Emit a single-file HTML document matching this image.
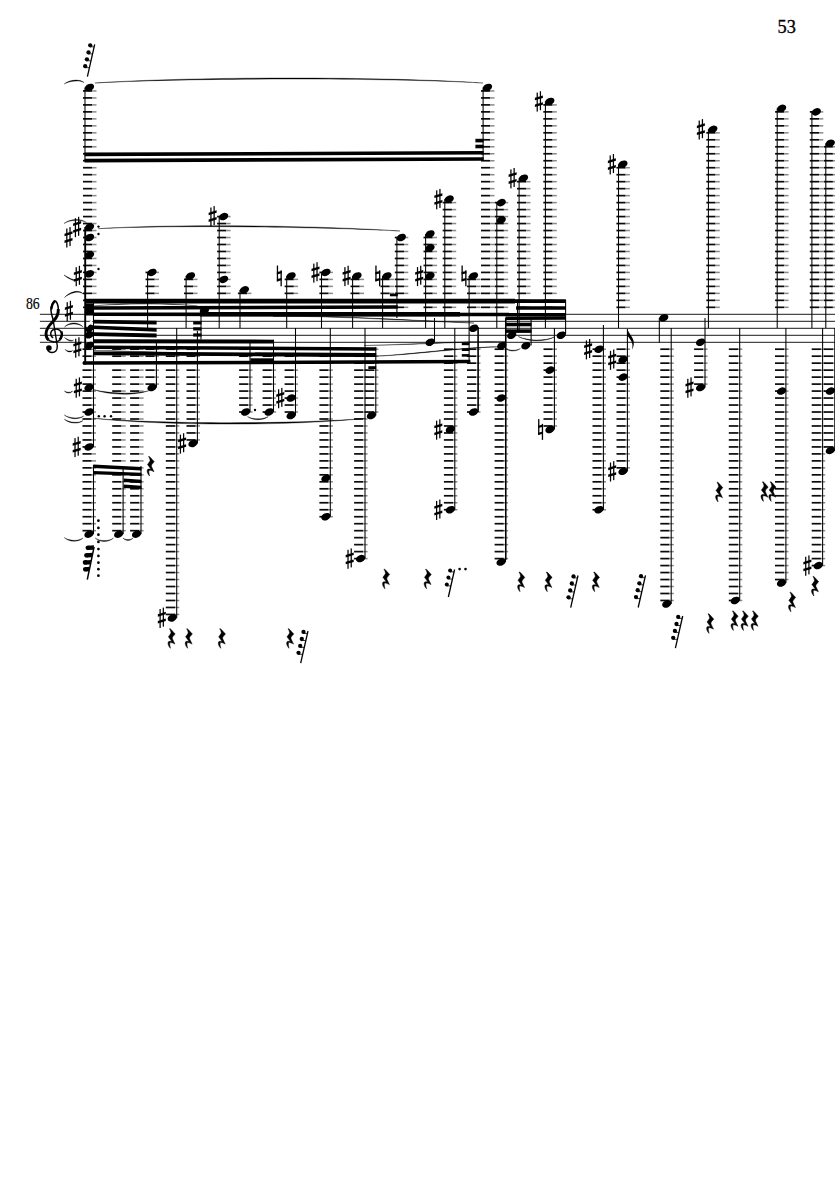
<!DOCTYPE html>
<html><head><meta charset="utf-8"><style>
html,body{margin:0;padding:0;background:#fff;}
svg{display:block;}
</style></head><body>
<svg width="835" height="1181" viewBox="0 0 835 1181">
<rect width="835" height="1181" fill="#fff"/>
<line x1="39.9" y1="314.30" x2="835" y2="314.30" stroke="#000" stroke-width="0.9"/>
<line x1="39.9" y1="321.30" x2="835" y2="321.30" stroke="#000" stroke-width="0.9"/>
<line x1="39.9" y1="328.30" x2="835" y2="328.30" stroke="#000" stroke-width="0.9"/>
<line x1="39.9" y1="335.30" x2="835" y2="335.30" stroke="#000" stroke-width="0.9"/>
<line x1="39.9" y1="342.30" x2="835" y2="342.30" stroke="#000" stroke-width="0.9"/>
<text x="0" y="0" transform="translate(777.5,32.6) scale(1.05,1.12)" style="font-family:&quot;Liberation Serif&quot;,serif;font-size:17.5px;stroke:#000;stroke-width:0.3">53</text>
<text x="0" y="0" transform="translate(25.9,308.8) scale(1.04,1.2)" style="font-family:&quot;Liberation Serif&quot;,serif;font-size:13.2px;stroke:#000;stroke-width:0.15">86</text>
<rect x="83.00" y="306.47" width="9.2" height="1.7" fill="#0a0a0a"/>
<rect x="92.20" y="306.57" width="4.3" height="1.5" fill="#8a8a8a"/>
<rect x="83.00" y="299.49" width="9.2" height="1.7" fill="#0a0a0a"/>
<rect x="92.20" y="299.59" width="4.3" height="1.5" fill="#8a8a8a"/>
<rect x="83.00" y="292.51" width="9.2" height="1.7" fill="#0a0a0a"/>
<rect x="92.20" y="292.61" width="4.3" height="1.5" fill="#8a8a8a"/>
<rect x="83.00" y="285.53" width="9.2" height="1.7" fill="#0a0a0a"/>
<rect x="92.20" y="285.63" width="4.3" height="1.5" fill="#8a8a8a"/>
<rect x="83.00" y="278.55" width="9.2" height="1.7" fill="#0a0a0a"/>
<rect x="92.20" y="278.65" width="4.3" height="1.5" fill="#8a8a8a"/>
<rect x="83.00" y="271.57" width="9.2" height="1.7" fill="#0a0a0a"/>
<rect x="92.20" y="271.67" width="4.3" height="1.5" fill="#8a8a8a"/>
<rect x="83.00" y="264.59" width="9.2" height="1.7" fill="#0a0a0a"/>
<rect x="92.20" y="264.69" width="4.3" height="1.5" fill="#8a8a8a"/>
<rect x="83.00" y="257.61" width="9.2" height="1.7" fill="#0a0a0a"/>
<rect x="92.20" y="257.71" width="4.3" height="1.5" fill="#8a8a8a"/>
<rect x="83.00" y="250.63" width="9.2" height="1.7" fill="#0a0a0a"/>
<rect x="92.20" y="250.73" width="4.3" height="1.5" fill="#8a8a8a"/>
<rect x="83.00" y="243.65" width="9.2" height="1.7" fill="#0a0a0a"/>
<rect x="92.20" y="243.75" width="4.3" height="1.5" fill="#8a8a8a"/>
<rect x="83.00" y="236.67" width="9.2" height="1.7" fill="#0a0a0a"/>
<rect x="92.20" y="236.77" width="4.3" height="1.5" fill="#8a8a8a"/>
<rect x="83.00" y="229.69" width="9.2" height="1.7" fill="#0a0a0a"/>
<rect x="92.20" y="229.79" width="4.3" height="1.5" fill="#8a8a8a"/>
<rect x="83.00" y="222.71" width="9.2" height="1.7" fill="#0a0a0a"/>
<rect x="92.20" y="222.81" width="4.3" height="1.5" fill="#8a8a8a"/>
<rect x="83.00" y="215.73" width="9.2" height="1.7" fill="#0a0a0a"/>
<rect x="92.20" y="215.83" width="4.3" height="1.5" fill="#8a8a8a"/>
<rect x="83.00" y="208.75" width="9.2" height="1.7" fill="#0a0a0a"/>
<rect x="92.20" y="208.85" width="4.3" height="1.5" fill="#8a8a8a"/>
<rect x="83.00" y="201.77" width="9.2" height="1.7" fill="#0a0a0a"/>
<rect x="92.20" y="201.87" width="4.3" height="1.5" fill="#8a8a8a"/>
<rect x="83.00" y="194.79" width="9.2" height="1.7" fill="#0a0a0a"/>
<rect x="92.20" y="194.89" width="4.3" height="1.5" fill="#8a8a8a"/>
<rect x="83.00" y="187.81" width="9.2" height="1.7" fill="#0a0a0a"/>
<rect x="92.20" y="187.91" width="4.3" height="1.5" fill="#8a8a8a"/>
<rect x="83.00" y="180.83" width="9.2" height="1.7" fill="#0a0a0a"/>
<rect x="92.20" y="180.93" width="4.3" height="1.5" fill="#8a8a8a"/>
<rect x="83.00" y="173.85" width="9.2" height="1.7" fill="#0a0a0a"/>
<rect x="92.20" y="173.95" width="4.3" height="1.5" fill="#8a8a8a"/>
<rect x="83.00" y="166.87" width="9.2" height="1.7" fill="#0a0a0a"/>
<rect x="92.20" y="166.97" width="4.3" height="1.5" fill="#8a8a8a"/>
<rect x="83.00" y="159.89" width="9.2" height="1.7" fill="#0a0a0a"/>
<rect x="92.20" y="159.99" width="4.3" height="1.5" fill="#8a8a8a"/>
<rect x="83.00" y="152.91" width="9.2" height="1.7" fill="#0a0a0a"/>
<rect x="92.20" y="153.01" width="4.3" height="1.5" fill="#8a8a8a"/>
<rect x="83.00" y="145.93" width="9.2" height="1.7" fill="#0a0a0a"/>
<rect x="92.20" y="146.03" width="4.3" height="1.5" fill="#8a8a8a"/>
<rect x="83.00" y="138.95" width="9.2" height="1.7" fill="#0a0a0a"/>
<rect x="92.20" y="139.05" width="4.3" height="1.5" fill="#8a8a8a"/>
<rect x="83.00" y="131.97" width="9.2" height="1.7" fill="#0a0a0a"/>
<rect x="92.20" y="132.07" width="4.3" height="1.5" fill="#8a8a8a"/>
<rect x="83.00" y="124.99" width="9.2" height="1.7" fill="#0a0a0a"/>
<rect x="92.20" y="125.09" width="4.3" height="1.5" fill="#8a8a8a"/>
<rect x="83.00" y="118.01" width="9.2" height="1.7" fill="#0a0a0a"/>
<rect x="92.20" y="118.11" width="4.3" height="1.5" fill="#8a8a8a"/>
<rect x="83.00" y="111.03" width="9.2" height="1.7" fill="#0a0a0a"/>
<rect x="92.20" y="111.13" width="4.3" height="1.5" fill="#8a8a8a"/>
<rect x="83.00" y="104.05" width="9.2" height="1.7" fill="#0a0a0a"/>
<rect x="92.20" y="104.15" width="4.3" height="1.5" fill="#8a8a8a"/>
<rect x="83.00" y="97.07" width="9.2" height="1.7" fill="#0a0a0a"/>
<rect x="92.20" y="97.17" width="4.3" height="1.5" fill="#8a8a8a"/>
<rect x="83.00" y="90.09" width="9.2" height="1.7" fill="#0a0a0a"/>
<rect x="92.20" y="90.19" width="4.3" height="1.5" fill="#8a8a8a"/>
<ellipse cx="89.50" cy="87.45" rx="4.85" ry="3.5" transform="rotate(-24 89.50 87.45)" fill="#000"/>
<ellipse cx="89.50" cy="227.05" rx="4.85" ry="3.5" transform="rotate(-24 89.50 227.05)" fill="#000"/>
<ellipse cx="89.50" cy="237.52" rx="4.85" ry="3.5" transform="rotate(-24 89.50 237.52)" fill="#000"/>
<ellipse cx="89.50" cy="254.97" rx="4.85" ry="3.5" transform="rotate(-24 89.50 254.97)" fill="#000"/>
<ellipse cx="89.50" cy="273.80" rx="4.85" ry="3.5" transform="rotate(-24 89.50 273.80)" fill="#000"/>
<rect x="84.47" y="87.45" width="1.05" height="73.05" fill="#000"/>
<rect x="84.25" y="227.05" width="1.9" height="137.45" fill="#000"/>
<ellipse cx="89.30" cy="311.00" rx="4.85" ry="3.5" transform="rotate(-24 89.30 311.00)" fill="#000"/>
<ellipse cx="89.30" cy="328.30" rx="4.85" ry="3.5" transform="rotate(-24 89.30 328.30)" fill="#000"/>
<ellipse cx="89.30" cy="334.80" rx="4.85" ry="3.5" transform="rotate(-24 89.30 334.80)" fill="#000"/>
<ellipse cx="89.30" cy="345.50" rx="4.85" ry="3.5" transform="rotate(-24 89.30 345.50)" fill="#000"/>
<rect x="85" y="303.5" width="8.6" height="12" fill="#000"/>
<polygon points="86,326 92.5,318.5 93.5,320 87,327.5" fill="#fff"/>
<rect x="74.80" y="218.20" width="1.25" height="19" fill="#000"/>
<rect x="78.00" y="216.80" width="1.25" height="19" fill="#000"/>
<polygon points="73.10,223.40 81.10,221.00 81.10,223.50 73.10,225.90" fill="#000"/>
<polygon points="73.10,230.20 81.10,227.80 81.10,230.30 73.10,232.70" fill="#000"/>
<rect x="66.20" y="228.50" width="1.25" height="19" fill="#000"/>
<rect x="69.40" y="227.10" width="1.25" height="19" fill="#000"/>
<polygon points="64.50,233.70 72.50,231.30 72.50,233.80 64.50,236.20" fill="#000"/>
<polygon points="64.50,240.50 72.50,238.10 72.50,240.60 64.50,243.00" fill="#000"/>
<rect x="75.60" y="267.20" width="1.25" height="19" fill="#000"/>
<rect x="78.80" y="265.80" width="1.25" height="19" fill="#000"/>
<polygon points="73.90,272.40 81.90,270.00 81.90,272.50 73.90,274.90" fill="#000"/>
<polygon points="73.90,279.20 81.90,276.80 81.90,279.30 73.90,281.70" fill="#000"/>
<circle cx="98.50" cy="226.60" r="1.2" fill="#000"/>
<circle cx="98.50" cy="234.00" r="1.2" fill="#000"/>
<circle cx="98.50" cy="269.00" r="1.2" fill="#000"/>
<rect x="145.50" y="306.47" width="9.2" height="1.7" fill="#0a0a0a"/>
<rect x="154.70" y="306.57" width="4.3" height="1.5" fill="#8a8a8a"/>
<rect x="145.50" y="299.49" width="9.2" height="1.7" fill="#0a0a0a"/>
<rect x="154.70" y="299.59" width="4.3" height="1.5" fill="#8a8a8a"/>
<rect x="145.50" y="292.51" width="9.2" height="1.7" fill="#0a0a0a"/>
<rect x="154.70" y="292.61" width="4.3" height="1.5" fill="#8a8a8a"/>
<rect x="145.50" y="285.53" width="9.2" height="1.7" fill="#0a0a0a"/>
<rect x="154.70" y="285.63" width="4.3" height="1.5" fill="#8a8a8a"/>
<rect x="145.50" y="278.55" width="9.2" height="1.7" fill="#0a0a0a"/>
<rect x="154.70" y="278.65" width="4.3" height="1.5" fill="#8a8a8a"/>
<rect x="145.50" y="271.57" width="9.2" height="1.7" fill="#0a0a0a"/>
<rect x="154.70" y="271.67" width="4.3" height="1.5" fill="#8a8a8a"/>
<ellipse cx="152.00" cy="272.42" rx="4.85" ry="3.5" transform="rotate(-24 152.00 272.42)" fill="#000"/>
<rect x="147.07" y="272.42" width="1.05" height="55.58" fill="#000"/>
<rect x="184.00" y="306.47" width="9.2" height="1.7" fill="#0a0a0a"/>
<rect x="193.20" y="306.57" width="4.3" height="1.5" fill="#8a8a8a"/>
<rect x="184.00" y="299.49" width="9.2" height="1.7" fill="#0a0a0a"/>
<rect x="193.20" y="299.59" width="4.3" height="1.5" fill="#8a8a8a"/>
<rect x="184.00" y="292.51" width="9.2" height="1.7" fill="#0a0a0a"/>
<rect x="193.20" y="292.61" width="4.3" height="1.5" fill="#8a8a8a"/>
<rect x="184.00" y="285.53" width="9.2" height="1.7" fill="#0a0a0a"/>
<rect x="193.20" y="285.63" width="4.3" height="1.5" fill="#8a8a8a"/>
<rect x="184.00" y="278.55" width="9.2" height="1.7" fill="#0a0a0a"/>
<rect x="193.20" y="278.65" width="4.3" height="1.5" fill="#8a8a8a"/>
<ellipse cx="190.50" cy="275.91" rx="4.85" ry="3.5" transform="rotate(-24 190.50 275.91)" fill="#000"/>
<rect x="185.57" y="275.91" width="1.05" height="52.09" fill="#000"/>
<rect x="217.10" y="306.47" width="9.2" height="1.7" fill="#0a0a0a"/>
<rect x="226.30" y="306.57" width="4.3" height="1.5" fill="#8a8a8a"/>
<rect x="217.10" y="299.49" width="9.2" height="1.7" fill="#0a0a0a"/>
<rect x="226.30" y="299.59" width="4.3" height="1.5" fill="#8a8a8a"/>
<rect x="217.10" y="292.51" width="9.2" height="1.7" fill="#0a0a0a"/>
<rect x="226.30" y="292.61" width="4.3" height="1.5" fill="#8a8a8a"/>
<rect x="217.10" y="285.53" width="9.2" height="1.7" fill="#0a0a0a"/>
<rect x="226.30" y="285.63" width="4.3" height="1.5" fill="#8a8a8a"/>
<rect x="217.10" y="278.55" width="9.2" height="1.7" fill="#0a0a0a"/>
<rect x="226.30" y="278.65" width="4.3" height="1.5" fill="#8a8a8a"/>
<rect x="217.10" y="271.57" width="9.2" height="1.7" fill="#0a0a0a"/>
<rect x="226.30" y="271.67" width="4.3" height="1.5" fill="#8a8a8a"/>
<rect x="217.10" y="264.59" width="9.2" height="1.7" fill="#0a0a0a"/>
<rect x="226.30" y="264.69" width="4.3" height="1.5" fill="#8a8a8a"/>
<rect x="217.10" y="257.61" width="9.2" height="1.7" fill="#0a0a0a"/>
<rect x="226.30" y="257.71" width="4.3" height="1.5" fill="#8a8a8a"/>
<rect x="217.10" y="250.63" width="9.2" height="1.7" fill="#0a0a0a"/>
<rect x="226.30" y="250.73" width="4.3" height="1.5" fill="#8a8a8a"/>
<rect x="217.10" y="243.65" width="9.2" height="1.7" fill="#0a0a0a"/>
<rect x="226.30" y="243.75" width="4.3" height="1.5" fill="#8a8a8a"/>
<rect x="217.10" y="236.67" width="9.2" height="1.7" fill="#0a0a0a"/>
<rect x="226.30" y="236.77" width="4.3" height="1.5" fill="#8a8a8a"/>
<rect x="217.10" y="229.69" width="9.2" height="1.7" fill="#0a0a0a"/>
<rect x="226.30" y="229.79" width="4.3" height="1.5" fill="#8a8a8a"/>
<rect x="217.10" y="222.71" width="9.2" height="1.7" fill="#0a0a0a"/>
<rect x="226.30" y="222.81" width="4.3" height="1.5" fill="#8a8a8a"/>
<rect x="217.10" y="215.73" width="9.2" height="1.7" fill="#0a0a0a"/>
<rect x="226.30" y="215.83" width="4.3" height="1.5" fill="#8a8a8a"/>
<ellipse cx="223.60" cy="216.58" rx="4.85" ry="3.5" transform="rotate(-24 223.60 216.58)" fill="#000"/>
<ellipse cx="223.60" cy="279.40" rx="4.85" ry="3.5" transform="rotate(-24 223.60 279.40)" fill="#000"/>
<rect x="218.67" y="216.58" width="1.05" height="111.42" fill="#000"/>
<rect x="210.30" y="207.50" width="1.25" height="19" fill="#000"/>
<rect x="213.50" y="206.10" width="1.25" height="19" fill="#000"/>
<polygon points="208.60,212.70 216.60,210.30 216.60,212.80 208.60,215.20" fill="#000"/>
<polygon points="208.60,219.50 216.60,217.10 216.60,219.60 208.60,222.00" fill="#000"/>
<rect x="237.90" y="306.47" width="9.2" height="1.7" fill="#0a0a0a"/>
<rect x="247.10" y="306.57" width="4.3" height="1.5" fill="#8a8a8a"/>
<rect x="237.90" y="299.49" width="9.2" height="1.7" fill="#0a0a0a"/>
<rect x="247.10" y="299.59" width="4.3" height="1.5" fill="#8a8a8a"/>
<rect x="237.90" y="292.51" width="9.2" height="1.7" fill="#0a0a0a"/>
<rect x="247.10" y="292.61" width="4.3" height="1.5" fill="#8a8a8a"/>
<ellipse cx="244.40" cy="289.87" rx="4.85" ry="3.5" transform="rotate(-24 244.40 289.87)" fill="#000"/>
<rect x="239.47" y="289.87" width="1.05" height="38.13" fill="#000"/>
<rect x="284.60" y="306.47" width="9.2" height="1.7" fill="#0a0a0a"/>
<rect x="293.80" y="306.57" width="4.3" height="1.5" fill="#8a8a8a"/>
<rect x="284.60" y="299.49" width="9.2" height="1.7" fill="#0a0a0a"/>
<rect x="293.80" y="299.59" width="4.3" height="1.5" fill="#8a8a8a"/>
<rect x="284.60" y="292.51" width="9.2" height="1.7" fill="#0a0a0a"/>
<rect x="293.80" y="292.61" width="4.3" height="1.5" fill="#8a8a8a"/>
<rect x="284.60" y="285.53" width="9.2" height="1.7" fill="#0a0a0a"/>
<rect x="293.80" y="285.63" width="4.3" height="1.5" fill="#8a8a8a"/>
<rect x="284.60" y="278.55" width="9.2" height="1.7" fill="#0a0a0a"/>
<rect x="293.80" y="278.65" width="4.3" height="1.5" fill="#8a8a8a"/>
<ellipse cx="291.10" cy="275.91" rx="4.85" ry="3.5" transform="rotate(-24 291.10 275.91)" fill="#000"/>
<rect x="286.18" y="275.91" width="1.05" height="52.09" fill="#000"/>
<rect x="276.80" y="265.51" width="1.3" height="15.8" fill="#000"/>
<rect x="280.50" y="270.31" width="1.3" height="16" fill="#000"/>
<polygon points="276.90,272.11 281.70,270.91 281.70,273.31 276.90,274.51" fill="#000"/>
<polygon points="276.90,279.11 281.70,277.91 281.70,280.31 276.90,281.51" fill="#000"/>
<rect x="319.40" y="306.47" width="9.2" height="1.7" fill="#0a0a0a"/>
<rect x="328.60" y="306.57" width="4.3" height="1.5" fill="#8a8a8a"/>
<rect x="319.40" y="299.49" width="9.2" height="1.7" fill="#0a0a0a"/>
<rect x="328.60" y="299.59" width="4.3" height="1.5" fill="#8a8a8a"/>
<rect x="319.40" y="292.51" width="9.2" height="1.7" fill="#0a0a0a"/>
<rect x="328.60" y="292.61" width="4.3" height="1.5" fill="#8a8a8a"/>
<rect x="319.40" y="285.53" width="9.2" height="1.7" fill="#0a0a0a"/>
<rect x="328.60" y="285.63" width="4.3" height="1.5" fill="#8a8a8a"/>
<rect x="319.40" y="278.55" width="9.2" height="1.7" fill="#0a0a0a"/>
<rect x="328.60" y="278.65" width="4.3" height="1.5" fill="#8a8a8a"/>
<rect x="319.40" y="271.57" width="9.2" height="1.7" fill="#0a0a0a"/>
<rect x="328.60" y="271.67" width="4.3" height="1.5" fill="#8a8a8a"/>
<ellipse cx="325.90" cy="272.42" rx="4.85" ry="3.5" transform="rotate(-24 325.90 272.42)" fill="#000"/>
<rect x="320.98" y="272.42" width="1.05" height="55.58" fill="#000"/>
<rect x="313.20" y="263.62" width="1.25" height="19" fill="#000"/>
<rect x="316.40" y="262.22" width="1.25" height="19" fill="#000"/>
<polygon points="311.50,268.82 319.50,266.42 319.50,268.92 311.50,271.32" fill="#000"/>
<polygon points="311.50,275.62 319.50,273.22 319.50,275.72 311.50,278.12" fill="#000"/>
<rect x="350.50" y="306.47" width="9.2" height="1.7" fill="#0a0a0a"/>
<rect x="359.70" y="306.57" width="4.3" height="1.5" fill="#8a8a8a"/>
<rect x="350.50" y="299.49" width="9.2" height="1.7" fill="#0a0a0a"/>
<rect x="359.70" y="299.59" width="4.3" height="1.5" fill="#8a8a8a"/>
<rect x="350.50" y="292.51" width="9.2" height="1.7" fill="#0a0a0a"/>
<rect x="359.70" y="292.61" width="4.3" height="1.5" fill="#8a8a8a"/>
<rect x="350.50" y="285.53" width="9.2" height="1.7" fill="#0a0a0a"/>
<rect x="359.70" y="285.63" width="4.3" height="1.5" fill="#8a8a8a"/>
<rect x="350.50" y="278.55" width="9.2" height="1.7" fill="#0a0a0a"/>
<rect x="359.70" y="278.65" width="4.3" height="1.5" fill="#8a8a8a"/>
<ellipse cx="357.00" cy="275.91" rx="4.85" ry="3.5" transform="rotate(-24 357.00 275.91)" fill="#000"/>
<rect x="352.08" y="275.91" width="1.05" height="52.09" fill="#000"/>
<rect x="344.30" y="267.11" width="1.25" height="19" fill="#000"/>
<rect x="347.50" y="265.71" width="1.25" height="19" fill="#000"/>
<polygon points="342.60,272.31 350.60,269.91 350.60,272.41 342.60,274.81" fill="#000"/>
<polygon points="342.60,279.11 350.60,276.71 350.60,279.21 342.60,281.61" fill="#000"/>
<rect x="380.50" y="306.47" width="9.2" height="1.7" fill="#0a0a0a"/>
<rect x="389.70" y="306.57" width="4.3" height="1.5" fill="#8a8a8a"/>
<rect x="380.50" y="299.49" width="9.2" height="1.7" fill="#0a0a0a"/>
<rect x="389.70" y="299.59" width="4.3" height="1.5" fill="#8a8a8a"/>
<rect x="380.50" y="292.51" width="9.2" height="1.7" fill="#0a0a0a"/>
<rect x="389.70" y="292.61" width="4.3" height="1.5" fill="#8a8a8a"/>
<rect x="380.50" y="285.53" width="9.2" height="1.7" fill="#0a0a0a"/>
<rect x="389.70" y="285.63" width="4.3" height="1.5" fill="#8a8a8a"/>
<rect x="380.50" y="278.55" width="9.2" height="1.7" fill="#0a0a0a"/>
<rect x="389.70" y="278.65" width="4.3" height="1.5" fill="#8a8a8a"/>
<ellipse cx="387.00" cy="275.91" rx="4.85" ry="3.5" transform="rotate(-24 387.00 275.91)" fill="#000"/>
<rect x="382.08" y="275.91" width="1.05" height="52.09" fill="#000"/>
<rect x="375.30" y="265.51" width="1.3" height="15.8" fill="#000"/>
<rect x="379.00" y="270.31" width="1.3" height="16" fill="#000"/>
<polygon points="375.40,272.11 380.20,270.91 380.20,273.31 375.40,274.51" fill="#000"/>
<polygon points="375.40,279.11 380.20,277.91 380.20,280.31 375.40,281.51" fill="#000"/>
<rect x="394.80" y="306.47" width="9.2" height="1.7" fill="#0a0a0a"/>
<rect x="404.00" y="306.57" width="4.3" height="1.5" fill="#8a8a8a"/>
<rect x="394.80" y="299.49" width="9.2" height="1.7" fill="#0a0a0a"/>
<rect x="404.00" y="299.59" width="4.3" height="1.5" fill="#8a8a8a"/>
<rect x="394.80" y="292.51" width="9.2" height="1.7" fill="#0a0a0a"/>
<rect x="404.00" y="292.61" width="4.3" height="1.5" fill="#8a8a8a"/>
<rect x="394.80" y="285.53" width="9.2" height="1.7" fill="#0a0a0a"/>
<rect x="404.00" y="285.63" width="4.3" height="1.5" fill="#8a8a8a"/>
<rect x="394.80" y="278.55" width="9.2" height="1.7" fill="#0a0a0a"/>
<rect x="404.00" y="278.65" width="4.3" height="1.5" fill="#8a8a8a"/>
<rect x="394.80" y="271.57" width="9.2" height="1.7" fill="#0a0a0a"/>
<rect x="404.00" y="271.67" width="4.3" height="1.5" fill="#8a8a8a"/>
<rect x="394.80" y="264.59" width="9.2" height="1.7" fill="#0a0a0a"/>
<rect x="404.00" y="264.69" width="4.3" height="1.5" fill="#8a8a8a"/>
<rect x="394.80" y="257.61" width="9.2" height="1.7" fill="#0a0a0a"/>
<rect x="404.00" y="257.71" width="4.3" height="1.5" fill="#8a8a8a"/>
<rect x="394.80" y="250.63" width="9.2" height="1.7" fill="#0a0a0a"/>
<rect x="404.00" y="250.73" width="4.3" height="1.5" fill="#8a8a8a"/>
<rect x="394.80" y="243.65" width="9.2" height="1.7" fill="#0a0a0a"/>
<rect x="404.00" y="243.75" width="4.3" height="1.5" fill="#8a8a8a"/>
<rect x="394.80" y="236.67" width="9.2" height="1.7" fill="#0a0a0a"/>
<rect x="404.00" y="236.77" width="4.3" height="1.5" fill="#8a8a8a"/>
<ellipse cx="401.30" cy="237.52" rx="4.85" ry="3.5" transform="rotate(-24 401.30 237.52)" fill="#000"/>
<rect x="396.38" y="237.52" width="1.05" height="80.48" fill="#000"/>
<rect x="423.50" y="306.47" width="9.2" height="1.7" fill="#0a0a0a"/>
<rect x="432.70" y="306.57" width="4.3" height="1.5" fill="#8a8a8a"/>
<rect x="423.50" y="299.49" width="9.2" height="1.7" fill="#0a0a0a"/>
<rect x="432.70" y="299.59" width="4.3" height="1.5" fill="#8a8a8a"/>
<rect x="423.50" y="292.51" width="9.2" height="1.7" fill="#0a0a0a"/>
<rect x="432.70" y="292.61" width="4.3" height="1.5" fill="#8a8a8a"/>
<rect x="423.50" y="285.53" width="9.2" height="1.7" fill="#0a0a0a"/>
<rect x="432.70" y="285.63" width="4.3" height="1.5" fill="#8a8a8a"/>
<rect x="423.50" y="278.55" width="9.2" height="1.7" fill="#0a0a0a"/>
<rect x="432.70" y="278.65" width="4.3" height="1.5" fill="#8a8a8a"/>
<rect x="423.50" y="271.57" width="9.2" height="1.7" fill="#0a0a0a"/>
<rect x="432.70" y="271.67" width="4.3" height="1.5" fill="#8a8a8a"/>
<rect x="423.50" y="264.59" width="9.2" height="1.7" fill="#0a0a0a"/>
<rect x="432.70" y="264.69" width="4.3" height="1.5" fill="#8a8a8a"/>
<rect x="423.50" y="257.61" width="9.2" height="1.7" fill="#0a0a0a"/>
<rect x="432.70" y="257.71" width="4.3" height="1.5" fill="#8a8a8a"/>
<rect x="423.50" y="250.63" width="9.2" height="1.7" fill="#0a0a0a"/>
<rect x="432.70" y="250.73" width="4.3" height="1.5" fill="#8a8a8a"/>
<rect x="423.50" y="243.65" width="9.2" height="1.7" fill="#0a0a0a"/>
<rect x="432.70" y="243.75" width="4.3" height="1.5" fill="#8a8a8a"/>
<rect x="423.50" y="236.67" width="9.2" height="1.7" fill="#0a0a0a"/>
<rect x="432.70" y="236.77" width="4.3" height="1.5" fill="#8a8a8a"/>
<ellipse cx="430.00" cy="234.03" rx="4.85" ry="3.5" transform="rotate(-24 430.00 234.03)" fill="#000"/>
<ellipse cx="430.00" cy="247.99" rx="4.85" ry="3.5" transform="rotate(-24 430.00 247.99)" fill="#000"/>
<ellipse cx="430.00" cy="275.91" rx="4.85" ry="3.5" transform="rotate(-24 430.00 275.91)" fill="#000"/>
<rect x="425.08" y="234.03" width="1.05" height="93.97" fill="#000"/>
<rect x="416.90" y="267.11" width="1.25" height="19" fill="#000"/>
<rect x="420.10" y="265.71" width="1.25" height="19" fill="#000"/>
<polygon points="415.20,272.31 423.20,269.91 423.20,272.41 415.20,274.81" fill="#000"/>
<polygon points="415.20,279.11 423.20,276.71 423.20,279.21 415.20,281.61" fill="#000"/>
<rect x="442.70" y="306.47" width="9.2" height="1.7" fill="#0a0a0a"/>
<rect x="451.90" y="306.57" width="4.3" height="1.5" fill="#8a8a8a"/>
<rect x="442.70" y="299.49" width="9.2" height="1.7" fill="#0a0a0a"/>
<rect x="451.90" y="299.59" width="4.3" height="1.5" fill="#8a8a8a"/>
<rect x="442.70" y="292.51" width="9.2" height="1.7" fill="#0a0a0a"/>
<rect x="451.90" y="292.61" width="4.3" height="1.5" fill="#8a8a8a"/>
<rect x="442.70" y="285.53" width="9.2" height="1.7" fill="#0a0a0a"/>
<rect x="451.90" y="285.63" width="4.3" height="1.5" fill="#8a8a8a"/>
<rect x="442.70" y="278.55" width="9.2" height="1.7" fill="#0a0a0a"/>
<rect x="451.90" y="278.65" width="4.3" height="1.5" fill="#8a8a8a"/>
<rect x="442.70" y="271.57" width="9.2" height="1.7" fill="#0a0a0a"/>
<rect x="451.90" y="271.67" width="4.3" height="1.5" fill="#8a8a8a"/>
<rect x="442.70" y="264.59" width="9.2" height="1.7" fill="#0a0a0a"/>
<rect x="451.90" y="264.69" width="4.3" height="1.5" fill="#8a8a8a"/>
<rect x="442.70" y="257.61" width="9.2" height="1.7" fill="#0a0a0a"/>
<rect x="451.90" y="257.71" width="4.3" height="1.5" fill="#8a8a8a"/>
<rect x="442.70" y="250.63" width="9.2" height="1.7" fill="#0a0a0a"/>
<rect x="451.90" y="250.73" width="4.3" height="1.5" fill="#8a8a8a"/>
<rect x="442.70" y="243.65" width="9.2" height="1.7" fill="#0a0a0a"/>
<rect x="451.90" y="243.75" width="4.3" height="1.5" fill="#8a8a8a"/>
<rect x="442.70" y="236.67" width="9.2" height="1.7" fill="#0a0a0a"/>
<rect x="451.90" y="236.77" width="4.3" height="1.5" fill="#8a8a8a"/>
<rect x="442.70" y="229.69" width="9.2" height="1.7" fill="#0a0a0a"/>
<rect x="451.90" y="229.79" width="4.3" height="1.5" fill="#8a8a8a"/>
<rect x="442.70" y="222.71" width="9.2" height="1.7" fill="#0a0a0a"/>
<rect x="451.90" y="222.81" width="4.3" height="1.5" fill="#8a8a8a"/>
<rect x="442.70" y="215.73" width="9.2" height="1.7" fill="#0a0a0a"/>
<rect x="451.90" y="215.83" width="4.3" height="1.5" fill="#8a8a8a"/>
<rect x="442.70" y="208.75" width="9.2" height="1.7" fill="#0a0a0a"/>
<rect x="451.90" y="208.85" width="4.3" height="1.5" fill="#8a8a8a"/>
<rect x="442.70" y="201.77" width="9.2" height="1.7" fill="#0a0a0a"/>
<rect x="451.90" y="201.87" width="4.3" height="1.5" fill="#8a8a8a"/>
<ellipse cx="449.20" cy="199.13" rx="4.85" ry="3.5" transform="rotate(-24 449.20 199.13)" fill="#000"/>
<rect x="444.28" y="199.13" width="1.05" height="128.87" fill="#000"/>
<rect x="436.10" y="190.33" width="1.25" height="19" fill="#000"/>
<rect x="439.30" y="188.93" width="1.25" height="19" fill="#000"/>
<polygon points="434.40,195.53 442.40,193.13 442.40,195.63 434.40,198.03" fill="#000"/>
<polygon points="434.40,202.33 442.40,199.93 442.40,202.43 434.40,204.83" fill="#000"/>
<rect x="467.00" y="306.47" width="9.2" height="1.7" fill="#0a0a0a"/>
<rect x="476.20" y="306.57" width="4.3" height="1.5" fill="#8a8a8a"/>
<rect x="467.00" y="299.49" width="9.2" height="1.7" fill="#0a0a0a"/>
<rect x="476.20" y="299.59" width="4.3" height="1.5" fill="#8a8a8a"/>
<rect x="467.00" y="292.51" width="9.2" height="1.7" fill="#0a0a0a"/>
<rect x="476.20" y="292.61" width="4.3" height="1.5" fill="#8a8a8a"/>
<rect x="467.00" y="285.53" width="9.2" height="1.7" fill="#0a0a0a"/>
<rect x="476.20" y="285.63" width="4.3" height="1.5" fill="#8a8a8a"/>
<rect x="467.00" y="278.55" width="9.2" height="1.7" fill="#0a0a0a"/>
<rect x="476.20" y="278.65" width="4.3" height="1.5" fill="#8a8a8a"/>
<ellipse cx="473.50" cy="275.91" rx="4.85" ry="3.5" transform="rotate(-24 473.50 275.91)" fill="#000"/>
<rect x="468.58" y="275.91" width="1.05" height="87.09" fill="#000"/>
<rect x="461.50" y="265.51" width="1.3" height="15.8" fill="#000"/>
<rect x="465.20" y="270.31" width="1.3" height="16" fill="#000"/>
<polygon points="461.60,272.11 466.40,270.91 466.40,273.31 461.60,274.51" fill="#000"/>
<polygon points="461.60,279.11 466.40,277.91 466.40,280.31 461.60,281.51" fill="#000"/>
<rect x="481.00" y="306.47" width="9.2" height="1.7" fill="#0a0a0a"/>
<rect x="490.20" y="306.57" width="4.3" height="1.5" fill="#8a8a8a"/>
<rect x="481.00" y="299.49" width="9.2" height="1.7" fill="#0a0a0a"/>
<rect x="490.20" y="299.59" width="4.3" height="1.5" fill="#8a8a8a"/>
<rect x="481.00" y="292.51" width="9.2" height="1.7" fill="#0a0a0a"/>
<rect x="490.20" y="292.61" width="4.3" height="1.5" fill="#8a8a8a"/>
<rect x="481.00" y="285.53" width="9.2" height="1.7" fill="#0a0a0a"/>
<rect x="490.20" y="285.63" width="4.3" height="1.5" fill="#8a8a8a"/>
<rect x="481.00" y="278.55" width="9.2" height="1.7" fill="#0a0a0a"/>
<rect x="490.20" y="278.65" width="4.3" height="1.5" fill="#8a8a8a"/>
<rect x="481.00" y="271.57" width="9.2" height="1.7" fill="#0a0a0a"/>
<rect x="490.20" y="271.67" width="4.3" height="1.5" fill="#8a8a8a"/>
<rect x="481.00" y="264.59" width="9.2" height="1.7" fill="#0a0a0a"/>
<rect x="490.20" y="264.69" width="4.3" height="1.5" fill="#8a8a8a"/>
<rect x="481.00" y="257.61" width="9.2" height="1.7" fill="#0a0a0a"/>
<rect x="490.20" y="257.71" width="4.3" height="1.5" fill="#8a8a8a"/>
<rect x="481.00" y="250.63" width="9.2" height="1.7" fill="#0a0a0a"/>
<rect x="490.20" y="250.73" width="4.3" height="1.5" fill="#8a8a8a"/>
<rect x="481.00" y="243.65" width="9.2" height="1.7" fill="#0a0a0a"/>
<rect x="490.20" y="243.75" width="4.3" height="1.5" fill="#8a8a8a"/>
<rect x="481.00" y="236.67" width="9.2" height="1.7" fill="#0a0a0a"/>
<rect x="490.20" y="236.77" width="4.3" height="1.5" fill="#8a8a8a"/>
<rect x="481.00" y="229.69" width="9.2" height="1.7" fill="#0a0a0a"/>
<rect x="490.20" y="229.79" width="4.3" height="1.5" fill="#8a8a8a"/>
<rect x="481.00" y="222.71" width="9.2" height="1.7" fill="#0a0a0a"/>
<rect x="490.20" y="222.81" width="4.3" height="1.5" fill="#8a8a8a"/>
<rect x="481.00" y="215.73" width="9.2" height="1.7" fill="#0a0a0a"/>
<rect x="490.20" y="215.83" width="4.3" height="1.5" fill="#8a8a8a"/>
<rect x="481.00" y="208.75" width="9.2" height="1.7" fill="#0a0a0a"/>
<rect x="490.20" y="208.85" width="4.3" height="1.5" fill="#8a8a8a"/>
<rect x="481.00" y="201.77" width="9.2" height="1.7" fill="#0a0a0a"/>
<rect x="490.20" y="201.87" width="4.3" height="1.5" fill="#8a8a8a"/>
<rect x="481.00" y="194.79" width="9.2" height="1.7" fill="#0a0a0a"/>
<rect x="490.20" y="194.89" width="4.3" height="1.5" fill="#8a8a8a"/>
<rect x="481.00" y="187.81" width="9.2" height="1.7" fill="#0a0a0a"/>
<rect x="490.20" y="187.91" width="4.3" height="1.5" fill="#8a8a8a"/>
<rect x="481.00" y="180.83" width="9.2" height="1.7" fill="#0a0a0a"/>
<rect x="490.20" y="180.93" width="4.3" height="1.5" fill="#8a8a8a"/>
<rect x="481.00" y="173.85" width="9.2" height="1.7" fill="#0a0a0a"/>
<rect x="490.20" y="173.95" width="4.3" height="1.5" fill="#8a8a8a"/>
<rect x="481.00" y="166.87" width="9.2" height="1.7" fill="#0a0a0a"/>
<rect x="490.20" y="166.97" width="4.3" height="1.5" fill="#8a8a8a"/>
<rect x="481.00" y="159.89" width="9.2" height="1.7" fill="#0a0a0a"/>
<rect x="490.20" y="159.99" width="4.3" height="1.5" fill="#8a8a8a"/>
<rect x="481.00" y="152.91" width="9.2" height="1.7" fill="#0a0a0a"/>
<rect x="490.20" y="153.01" width="4.3" height="1.5" fill="#8a8a8a"/>
<rect x="481.00" y="145.93" width="9.2" height="1.7" fill="#0a0a0a"/>
<rect x="490.20" y="146.03" width="4.3" height="1.5" fill="#8a8a8a"/>
<rect x="481.00" y="138.95" width="9.2" height="1.7" fill="#0a0a0a"/>
<rect x="490.20" y="139.05" width="4.3" height="1.5" fill="#8a8a8a"/>
<rect x="481.00" y="131.97" width="9.2" height="1.7" fill="#0a0a0a"/>
<rect x="490.20" y="132.07" width="4.3" height="1.5" fill="#8a8a8a"/>
<rect x="481.00" y="124.99" width="9.2" height="1.7" fill="#0a0a0a"/>
<rect x="490.20" y="125.09" width="4.3" height="1.5" fill="#8a8a8a"/>
<rect x="481.00" y="118.01" width="9.2" height="1.7" fill="#0a0a0a"/>
<rect x="490.20" y="118.11" width="4.3" height="1.5" fill="#8a8a8a"/>
<rect x="481.00" y="111.03" width="9.2" height="1.7" fill="#0a0a0a"/>
<rect x="490.20" y="111.13" width="4.3" height="1.5" fill="#8a8a8a"/>
<rect x="481.00" y="104.05" width="9.2" height="1.7" fill="#0a0a0a"/>
<rect x="490.20" y="104.15" width="4.3" height="1.5" fill="#8a8a8a"/>
<rect x="481.00" y="97.07" width="9.2" height="1.7" fill="#0a0a0a"/>
<rect x="490.20" y="97.17" width="4.3" height="1.5" fill="#8a8a8a"/>
<rect x="481.00" y="90.09" width="9.2" height="1.7" fill="#0a0a0a"/>
<rect x="490.20" y="90.19" width="4.3" height="1.5" fill="#8a8a8a"/>
<ellipse cx="487.50" cy="87.45" rx="4.85" ry="3.5" transform="rotate(-24 487.50 87.45)" fill="#000"/>
<rect x="482.58" y="87.45" width="1.05" height="72.55" fill="#000"/>
<rect x="494.70" y="306.47" width="9.2" height="1.7" fill="#0a0a0a"/>
<rect x="503.90" y="306.57" width="4.3" height="1.5" fill="#8a8a8a"/>
<rect x="494.70" y="299.49" width="9.2" height="1.7" fill="#0a0a0a"/>
<rect x="503.90" y="299.59" width="4.3" height="1.5" fill="#8a8a8a"/>
<rect x="494.70" y="292.51" width="9.2" height="1.7" fill="#0a0a0a"/>
<rect x="503.90" y="292.61" width="4.3" height="1.5" fill="#8a8a8a"/>
<rect x="494.70" y="285.53" width="9.2" height="1.7" fill="#0a0a0a"/>
<rect x="503.90" y="285.63" width="4.3" height="1.5" fill="#8a8a8a"/>
<rect x="494.70" y="278.55" width="9.2" height="1.7" fill="#0a0a0a"/>
<rect x="503.90" y="278.65" width="4.3" height="1.5" fill="#8a8a8a"/>
<rect x="494.70" y="271.57" width="9.2" height="1.7" fill="#0a0a0a"/>
<rect x="503.90" y="271.67" width="4.3" height="1.5" fill="#8a8a8a"/>
<rect x="494.70" y="264.59" width="9.2" height="1.7" fill="#0a0a0a"/>
<rect x="503.90" y="264.69" width="4.3" height="1.5" fill="#8a8a8a"/>
<rect x="494.70" y="257.61" width="9.2" height="1.7" fill="#0a0a0a"/>
<rect x="503.90" y="257.71" width="4.3" height="1.5" fill="#8a8a8a"/>
<rect x="494.70" y="250.63" width="9.2" height="1.7" fill="#0a0a0a"/>
<rect x="503.90" y="250.73" width="4.3" height="1.5" fill="#8a8a8a"/>
<rect x="494.70" y="243.65" width="9.2" height="1.7" fill="#0a0a0a"/>
<rect x="503.90" y="243.75" width="4.3" height="1.5" fill="#8a8a8a"/>
<rect x="494.70" y="236.67" width="9.2" height="1.7" fill="#0a0a0a"/>
<rect x="503.90" y="236.77" width="4.3" height="1.5" fill="#8a8a8a"/>
<rect x="494.70" y="229.69" width="9.2" height="1.7" fill="#0a0a0a"/>
<rect x="503.90" y="229.79" width="4.3" height="1.5" fill="#8a8a8a"/>
<rect x="494.70" y="222.71" width="9.2" height="1.7" fill="#0a0a0a"/>
<rect x="503.90" y="222.81" width="4.3" height="1.5" fill="#8a8a8a"/>
<rect x="494.70" y="215.73" width="9.2" height="1.7" fill="#0a0a0a"/>
<rect x="503.90" y="215.83" width="4.3" height="1.5" fill="#8a8a8a"/>
<rect x="494.70" y="208.75" width="9.2" height="1.7" fill="#0a0a0a"/>
<rect x="503.90" y="208.85" width="4.3" height="1.5" fill="#8a8a8a"/>
<rect x="494.70" y="201.77" width="9.2" height="1.7" fill="#0a0a0a"/>
<rect x="503.90" y="201.87" width="4.3" height="1.5" fill="#8a8a8a"/>
<ellipse cx="501.20" cy="202.62" rx="4.85" ry="3.5" transform="rotate(-24 501.20 202.62)" fill="#000"/>
<ellipse cx="501.20" cy="220.07" rx="4.85" ry="3.5" transform="rotate(-24 501.20 220.07)" fill="#000"/>
<rect x="496.28" y="202.62" width="1.05" height="125.38" fill="#000"/>
<rect x="517.00" y="306.47" width="9.2" height="1.7" fill="#0a0a0a"/>
<rect x="526.20" y="306.57" width="4.3" height="1.5" fill="#8a8a8a"/>
<rect x="517.00" y="299.49" width="9.2" height="1.7" fill="#0a0a0a"/>
<rect x="526.20" y="299.59" width="4.3" height="1.5" fill="#8a8a8a"/>
<rect x="517.00" y="292.51" width="9.2" height="1.7" fill="#0a0a0a"/>
<rect x="526.20" y="292.61" width="4.3" height="1.5" fill="#8a8a8a"/>
<rect x="517.00" y="285.53" width="9.2" height="1.7" fill="#0a0a0a"/>
<rect x="526.20" y="285.63" width="4.3" height="1.5" fill="#8a8a8a"/>
<rect x="517.00" y="278.55" width="9.2" height="1.7" fill="#0a0a0a"/>
<rect x="526.20" y="278.65" width="4.3" height="1.5" fill="#8a8a8a"/>
<rect x="517.00" y="271.57" width="9.2" height="1.7" fill="#0a0a0a"/>
<rect x="526.20" y="271.67" width="4.3" height="1.5" fill="#8a8a8a"/>
<rect x="517.00" y="264.59" width="9.2" height="1.7" fill="#0a0a0a"/>
<rect x="526.20" y="264.69" width="4.3" height="1.5" fill="#8a8a8a"/>
<rect x="517.00" y="257.61" width="9.2" height="1.7" fill="#0a0a0a"/>
<rect x="526.20" y="257.71" width="4.3" height="1.5" fill="#8a8a8a"/>
<rect x="517.00" y="250.63" width="9.2" height="1.7" fill="#0a0a0a"/>
<rect x="526.20" y="250.73" width="4.3" height="1.5" fill="#8a8a8a"/>
<rect x="517.00" y="243.65" width="9.2" height="1.7" fill="#0a0a0a"/>
<rect x="526.20" y="243.75" width="4.3" height="1.5" fill="#8a8a8a"/>
<rect x="517.00" y="236.67" width="9.2" height="1.7" fill="#0a0a0a"/>
<rect x="526.20" y="236.77" width="4.3" height="1.5" fill="#8a8a8a"/>
<rect x="517.00" y="229.69" width="9.2" height="1.7" fill="#0a0a0a"/>
<rect x="526.20" y="229.79" width="4.3" height="1.5" fill="#8a8a8a"/>
<rect x="517.00" y="222.71" width="9.2" height="1.7" fill="#0a0a0a"/>
<rect x="526.20" y="222.81" width="4.3" height="1.5" fill="#8a8a8a"/>
<rect x="517.00" y="215.73" width="9.2" height="1.7" fill="#0a0a0a"/>
<rect x="526.20" y="215.83" width="4.3" height="1.5" fill="#8a8a8a"/>
<rect x="517.00" y="208.75" width="9.2" height="1.7" fill="#0a0a0a"/>
<rect x="526.20" y="208.85" width="4.3" height="1.5" fill="#8a8a8a"/>
<rect x="517.00" y="201.77" width="9.2" height="1.7" fill="#0a0a0a"/>
<rect x="526.20" y="201.87" width="4.3" height="1.5" fill="#8a8a8a"/>
<rect x="517.00" y="194.79" width="9.2" height="1.7" fill="#0a0a0a"/>
<rect x="526.20" y="194.89" width="4.3" height="1.5" fill="#8a8a8a"/>
<rect x="517.00" y="187.81" width="9.2" height="1.7" fill="#0a0a0a"/>
<rect x="526.20" y="187.91" width="4.3" height="1.5" fill="#8a8a8a"/>
<rect x="517.00" y="180.83" width="9.2" height="1.7" fill="#0a0a0a"/>
<rect x="526.20" y="180.93" width="4.3" height="1.5" fill="#8a8a8a"/>
<ellipse cx="523.50" cy="178.19" rx="4.85" ry="3.5" transform="rotate(-24 523.50 178.19)" fill="#000"/>
<rect x="518.58" y="178.19" width="1.05" height="153.81" fill="#000"/>
<rect x="510.30" y="169.39" width="1.25" height="19" fill="#000"/>
<rect x="513.50" y="167.99" width="1.25" height="19" fill="#000"/>
<polygon points="508.60,174.59 516.60,172.19 516.60,174.69 508.60,177.09" fill="#000"/>
<polygon points="508.60,181.39 516.60,178.99 516.60,181.49 508.60,183.89" fill="#000"/>
<rect x="543.30" y="306.47" width="9.2" height="1.7" fill="#0a0a0a"/>
<rect x="552.50" y="306.57" width="4.3" height="1.5" fill="#8a8a8a"/>
<rect x="543.30" y="299.49" width="9.2" height="1.7" fill="#0a0a0a"/>
<rect x="552.50" y="299.59" width="4.3" height="1.5" fill="#8a8a8a"/>
<rect x="543.30" y="292.51" width="9.2" height="1.7" fill="#0a0a0a"/>
<rect x="552.50" y="292.61" width="4.3" height="1.5" fill="#8a8a8a"/>
<rect x="543.30" y="285.53" width="9.2" height="1.7" fill="#0a0a0a"/>
<rect x="552.50" y="285.63" width="4.3" height="1.5" fill="#8a8a8a"/>
<rect x="543.30" y="278.55" width="9.2" height="1.7" fill="#0a0a0a"/>
<rect x="552.50" y="278.65" width="4.3" height="1.5" fill="#8a8a8a"/>
<rect x="543.30" y="271.57" width="9.2" height="1.7" fill="#0a0a0a"/>
<rect x="552.50" y="271.67" width="4.3" height="1.5" fill="#8a8a8a"/>
<rect x="543.30" y="264.59" width="9.2" height="1.7" fill="#0a0a0a"/>
<rect x="552.50" y="264.69" width="4.3" height="1.5" fill="#8a8a8a"/>
<rect x="543.30" y="257.61" width="9.2" height="1.7" fill="#0a0a0a"/>
<rect x="552.50" y="257.71" width="4.3" height="1.5" fill="#8a8a8a"/>
<rect x="543.30" y="250.63" width="9.2" height="1.7" fill="#0a0a0a"/>
<rect x="552.50" y="250.73" width="4.3" height="1.5" fill="#8a8a8a"/>
<rect x="543.30" y="243.65" width="9.2" height="1.7" fill="#0a0a0a"/>
<rect x="552.50" y="243.75" width="4.3" height="1.5" fill="#8a8a8a"/>
<rect x="543.30" y="236.67" width="9.2" height="1.7" fill="#0a0a0a"/>
<rect x="552.50" y="236.77" width="4.3" height="1.5" fill="#8a8a8a"/>
<rect x="543.30" y="229.69" width="9.2" height="1.7" fill="#0a0a0a"/>
<rect x="552.50" y="229.79" width="4.3" height="1.5" fill="#8a8a8a"/>
<rect x="543.30" y="222.71" width="9.2" height="1.7" fill="#0a0a0a"/>
<rect x="552.50" y="222.81" width="4.3" height="1.5" fill="#8a8a8a"/>
<rect x="543.30" y="215.73" width="9.2" height="1.7" fill="#0a0a0a"/>
<rect x="552.50" y="215.83" width="4.3" height="1.5" fill="#8a8a8a"/>
<rect x="543.30" y="208.75" width="9.2" height="1.7" fill="#0a0a0a"/>
<rect x="552.50" y="208.85" width="4.3" height="1.5" fill="#8a8a8a"/>
<rect x="543.30" y="201.77" width="9.2" height="1.7" fill="#0a0a0a"/>
<rect x="552.50" y="201.87" width="4.3" height="1.5" fill="#8a8a8a"/>
<rect x="543.30" y="194.79" width="9.2" height="1.7" fill="#0a0a0a"/>
<rect x="552.50" y="194.89" width="4.3" height="1.5" fill="#8a8a8a"/>
<rect x="543.30" y="187.81" width="9.2" height="1.7" fill="#0a0a0a"/>
<rect x="552.50" y="187.91" width="4.3" height="1.5" fill="#8a8a8a"/>
<rect x="543.30" y="180.83" width="9.2" height="1.7" fill="#0a0a0a"/>
<rect x="552.50" y="180.93" width="4.3" height="1.5" fill="#8a8a8a"/>
<rect x="543.30" y="173.85" width="9.2" height="1.7" fill="#0a0a0a"/>
<rect x="552.50" y="173.95" width="4.3" height="1.5" fill="#8a8a8a"/>
<rect x="543.30" y="166.87" width="9.2" height="1.7" fill="#0a0a0a"/>
<rect x="552.50" y="166.97" width="4.3" height="1.5" fill="#8a8a8a"/>
<rect x="543.30" y="159.89" width="9.2" height="1.7" fill="#0a0a0a"/>
<rect x="552.50" y="159.99" width="4.3" height="1.5" fill="#8a8a8a"/>
<rect x="543.30" y="152.91" width="9.2" height="1.7" fill="#0a0a0a"/>
<rect x="552.50" y="153.01" width="4.3" height="1.5" fill="#8a8a8a"/>
<rect x="543.30" y="145.93" width="9.2" height="1.7" fill="#0a0a0a"/>
<rect x="552.50" y="146.03" width="4.3" height="1.5" fill="#8a8a8a"/>
<rect x="543.30" y="138.95" width="9.2" height="1.7" fill="#0a0a0a"/>
<rect x="552.50" y="139.05" width="4.3" height="1.5" fill="#8a8a8a"/>
<rect x="543.30" y="131.97" width="9.2" height="1.7" fill="#0a0a0a"/>
<rect x="552.50" y="132.07" width="4.3" height="1.5" fill="#8a8a8a"/>
<rect x="543.30" y="124.99" width="9.2" height="1.7" fill="#0a0a0a"/>
<rect x="552.50" y="125.09" width="4.3" height="1.5" fill="#8a8a8a"/>
<rect x="543.30" y="118.01" width="9.2" height="1.7" fill="#0a0a0a"/>
<rect x="552.50" y="118.11" width="4.3" height="1.5" fill="#8a8a8a"/>
<rect x="543.30" y="111.03" width="9.2" height="1.7" fill="#0a0a0a"/>
<rect x="552.50" y="111.13" width="4.3" height="1.5" fill="#8a8a8a"/>
<rect x="543.30" y="104.05" width="9.2" height="1.7" fill="#0a0a0a"/>
<rect x="552.50" y="104.15" width="4.3" height="1.5" fill="#8a8a8a"/>
<ellipse cx="549.80" cy="101.41" rx="4.85" ry="3.5" transform="rotate(-24 549.80 101.41)" fill="#000"/>
<rect x="544.88" y="101.41" width="1.05" height="226.59" fill="#000"/>
<rect x="536.60" y="92.61" width="1.25" height="19" fill="#000"/>
<rect x="539.80" y="91.21" width="1.25" height="19" fill="#000"/>
<polygon points="534.90,97.81 542.90,95.41 542.90,97.91 534.90,100.31" fill="#000"/>
<polygon points="534.90,104.61 542.90,102.21 542.90,104.71 534.90,107.11" fill="#000"/>
<rect x="616.40" y="306.47" width="9.2" height="1.7" fill="#0a0a0a"/>
<rect x="625.60" y="306.57" width="4.3" height="1.5" fill="#8a8a8a"/>
<rect x="616.40" y="299.49" width="9.2" height="1.7" fill="#0a0a0a"/>
<rect x="625.60" y="299.59" width="4.3" height="1.5" fill="#8a8a8a"/>
<rect x="616.40" y="292.51" width="9.2" height="1.7" fill="#0a0a0a"/>
<rect x="625.60" y="292.61" width="4.3" height="1.5" fill="#8a8a8a"/>
<rect x="616.40" y="285.53" width="9.2" height="1.7" fill="#0a0a0a"/>
<rect x="625.60" y="285.63" width="4.3" height="1.5" fill="#8a8a8a"/>
<rect x="616.40" y="278.55" width="9.2" height="1.7" fill="#0a0a0a"/>
<rect x="625.60" y="278.65" width="4.3" height="1.5" fill="#8a8a8a"/>
<rect x="616.40" y="271.57" width="9.2" height="1.7" fill="#0a0a0a"/>
<rect x="625.60" y="271.67" width="4.3" height="1.5" fill="#8a8a8a"/>
<rect x="616.40" y="264.59" width="9.2" height="1.7" fill="#0a0a0a"/>
<rect x="625.60" y="264.69" width="4.3" height="1.5" fill="#8a8a8a"/>
<rect x="616.40" y="257.61" width="9.2" height="1.7" fill="#0a0a0a"/>
<rect x="625.60" y="257.71" width="4.3" height="1.5" fill="#8a8a8a"/>
<rect x="616.40" y="250.63" width="9.2" height="1.7" fill="#0a0a0a"/>
<rect x="625.60" y="250.73" width="4.3" height="1.5" fill="#8a8a8a"/>
<rect x="616.40" y="243.65" width="9.2" height="1.7" fill="#0a0a0a"/>
<rect x="625.60" y="243.75" width="4.3" height="1.5" fill="#8a8a8a"/>
<rect x="616.40" y="236.67" width="9.2" height="1.7" fill="#0a0a0a"/>
<rect x="625.60" y="236.77" width="4.3" height="1.5" fill="#8a8a8a"/>
<rect x="616.40" y="229.69" width="9.2" height="1.7" fill="#0a0a0a"/>
<rect x="625.60" y="229.79" width="4.3" height="1.5" fill="#8a8a8a"/>
<rect x="616.40" y="222.71" width="9.2" height="1.7" fill="#0a0a0a"/>
<rect x="625.60" y="222.81" width="4.3" height="1.5" fill="#8a8a8a"/>
<rect x="616.40" y="215.73" width="9.2" height="1.7" fill="#0a0a0a"/>
<rect x="625.60" y="215.83" width="4.3" height="1.5" fill="#8a8a8a"/>
<rect x="616.40" y="208.75" width="9.2" height="1.7" fill="#0a0a0a"/>
<rect x="625.60" y="208.85" width="4.3" height="1.5" fill="#8a8a8a"/>
<rect x="616.40" y="201.77" width="9.2" height="1.7" fill="#0a0a0a"/>
<rect x="625.60" y="201.87" width="4.3" height="1.5" fill="#8a8a8a"/>
<rect x="616.40" y="194.79" width="9.2" height="1.7" fill="#0a0a0a"/>
<rect x="625.60" y="194.89" width="4.3" height="1.5" fill="#8a8a8a"/>
<rect x="616.40" y="187.81" width="9.2" height="1.7" fill="#0a0a0a"/>
<rect x="625.60" y="187.91" width="4.3" height="1.5" fill="#8a8a8a"/>
<rect x="616.40" y="180.83" width="9.2" height="1.7" fill="#0a0a0a"/>
<rect x="625.60" y="180.93" width="4.3" height="1.5" fill="#8a8a8a"/>
<rect x="616.40" y="173.85" width="9.2" height="1.7" fill="#0a0a0a"/>
<rect x="625.60" y="173.95" width="4.3" height="1.5" fill="#8a8a8a"/>
<rect x="616.40" y="166.87" width="9.2" height="1.7" fill="#0a0a0a"/>
<rect x="625.60" y="166.97" width="4.3" height="1.5" fill="#8a8a8a"/>
<ellipse cx="622.90" cy="164.23" rx="4.85" ry="3.5" transform="rotate(-24 622.90 164.23)" fill="#000"/>
<rect x="617.98" y="164.23" width="1.05" height="163.77" fill="#000"/>
<rect x="609.60" y="155.43" width="1.25" height="19" fill="#000"/>
<rect x="612.80" y="154.03" width="1.25" height="19" fill="#000"/>
<polygon points="607.90,160.63 615.90,158.23 615.90,160.73 607.90,163.13" fill="#000"/>
<polygon points="607.90,167.43 615.90,165.03 615.90,167.53 607.90,169.93" fill="#000"/>
<rect x="706.30" y="306.47" width="9.2" height="1.7" fill="#0a0a0a"/>
<rect x="715.50" y="306.57" width="4.3" height="1.5" fill="#8a8a8a"/>
<rect x="706.30" y="299.49" width="9.2" height="1.7" fill="#0a0a0a"/>
<rect x="715.50" y="299.59" width="4.3" height="1.5" fill="#8a8a8a"/>
<rect x="706.30" y="292.51" width="9.2" height="1.7" fill="#0a0a0a"/>
<rect x="715.50" y="292.61" width="4.3" height="1.5" fill="#8a8a8a"/>
<rect x="706.30" y="285.53" width="9.2" height="1.7" fill="#0a0a0a"/>
<rect x="715.50" y="285.63" width="4.3" height="1.5" fill="#8a8a8a"/>
<rect x="706.30" y="278.55" width="9.2" height="1.7" fill="#0a0a0a"/>
<rect x="715.50" y="278.65" width="4.3" height="1.5" fill="#8a8a8a"/>
<rect x="706.30" y="271.57" width="9.2" height="1.7" fill="#0a0a0a"/>
<rect x="715.50" y="271.67" width="4.3" height="1.5" fill="#8a8a8a"/>
<rect x="706.30" y="264.59" width="9.2" height="1.7" fill="#0a0a0a"/>
<rect x="715.50" y="264.69" width="4.3" height="1.5" fill="#8a8a8a"/>
<rect x="706.30" y="257.61" width="9.2" height="1.7" fill="#0a0a0a"/>
<rect x="715.50" y="257.71" width="4.3" height="1.5" fill="#8a8a8a"/>
<rect x="706.30" y="250.63" width="9.2" height="1.7" fill="#0a0a0a"/>
<rect x="715.50" y="250.73" width="4.3" height="1.5" fill="#8a8a8a"/>
<rect x="706.30" y="243.65" width="9.2" height="1.7" fill="#0a0a0a"/>
<rect x="715.50" y="243.75" width="4.3" height="1.5" fill="#8a8a8a"/>
<rect x="706.30" y="236.67" width="9.2" height="1.7" fill="#0a0a0a"/>
<rect x="715.50" y="236.77" width="4.3" height="1.5" fill="#8a8a8a"/>
<rect x="706.30" y="229.69" width="9.2" height="1.7" fill="#0a0a0a"/>
<rect x="715.50" y="229.79" width="4.3" height="1.5" fill="#8a8a8a"/>
<rect x="706.30" y="222.71" width="9.2" height="1.7" fill="#0a0a0a"/>
<rect x="715.50" y="222.81" width="4.3" height="1.5" fill="#8a8a8a"/>
<rect x="706.30" y="215.73" width="9.2" height="1.7" fill="#0a0a0a"/>
<rect x="715.50" y="215.83" width="4.3" height="1.5" fill="#8a8a8a"/>
<rect x="706.30" y="208.75" width="9.2" height="1.7" fill="#0a0a0a"/>
<rect x="715.50" y="208.85" width="4.3" height="1.5" fill="#8a8a8a"/>
<rect x="706.30" y="201.77" width="9.2" height="1.7" fill="#0a0a0a"/>
<rect x="715.50" y="201.87" width="4.3" height="1.5" fill="#8a8a8a"/>
<rect x="706.30" y="194.79" width="9.2" height="1.7" fill="#0a0a0a"/>
<rect x="715.50" y="194.89" width="4.3" height="1.5" fill="#8a8a8a"/>
<rect x="706.30" y="187.81" width="9.2" height="1.7" fill="#0a0a0a"/>
<rect x="715.50" y="187.91" width="4.3" height="1.5" fill="#8a8a8a"/>
<rect x="706.30" y="180.83" width="9.2" height="1.7" fill="#0a0a0a"/>
<rect x="715.50" y="180.93" width="4.3" height="1.5" fill="#8a8a8a"/>
<rect x="706.30" y="173.85" width="9.2" height="1.7" fill="#0a0a0a"/>
<rect x="715.50" y="173.95" width="4.3" height="1.5" fill="#8a8a8a"/>
<rect x="706.30" y="166.87" width="9.2" height="1.7" fill="#0a0a0a"/>
<rect x="715.50" y="166.97" width="4.3" height="1.5" fill="#8a8a8a"/>
<rect x="706.30" y="159.89" width="9.2" height="1.7" fill="#0a0a0a"/>
<rect x="715.50" y="159.99" width="4.3" height="1.5" fill="#8a8a8a"/>
<rect x="706.30" y="152.91" width="9.2" height="1.7" fill="#0a0a0a"/>
<rect x="715.50" y="153.01" width="4.3" height="1.5" fill="#8a8a8a"/>
<rect x="706.30" y="145.93" width="9.2" height="1.7" fill="#0a0a0a"/>
<rect x="715.50" y="146.03" width="4.3" height="1.5" fill="#8a8a8a"/>
<rect x="706.30" y="138.95" width="9.2" height="1.7" fill="#0a0a0a"/>
<rect x="715.50" y="139.05" width="4.3" height="1.5" fill="#8a8a8a"/>
<rect x="706.30" y="131.97" width="9.2" height="1.7" fill="#0a0a0a"/>
<rect x="715.50" y="132.07" width="4.3" height="1.5" fill="#8a8a8a"/>
<ellipse cx="712.80" cy="129.33" rx="4.85" ry="3.5" transform="rotate(-24 712.80 129.33)" fill="#000"/>
<rect x="707.88" y="129.33" width="1.05" height="198.67" fill="#000"/>
<rect x="698.60" y="120.53" width="1.25" height="19" fill="#000"/>
<rect x="701.80" y="119.13" width="1.25" height="19" fill="#000"/>
<polygon points="696.90,125.73 704.90,123.33 704.90,125.83 696.90,128.23" fill="#000"/>
<polygon points="696.90,132.53 704.90,130.13 704.90,132.63 696.90,135.03" fill="#000"/>
<rect x="775.10" y="306.47" width="9.2" height="1.7" fill="#0a0a0a"/>
<rect x="784.30" y="306.57" width="4.3" height="1.5" fill="#8a8a8a"/>
<rect x="775.10" y="299.49" width="9.2" height="1.7" fill="#0a0a0a"/>
<rect x="784.30" y="299.59" width="4.3" height="1.5" fill="#8a8a8a"/>
<rect x="775.10" y="292.51" width="9.2" height="1.7" fill="#0a0a0a"/>
<rect x="784.30" y="292.61" width="4.3" height="1.5" fill="#8a8a8a"/>
<rect x="775.10" y="285.53" width="9.2" height="1.7" fill="#0a0a0a"/>
<rect x="784.30" y="285.63" width="4.3" height="1.5" fill="#8a8a8a"/>
<rect x="775.10" y="278.55" width="9.2" height="1.7" fill="#0a0a0a"/>
<rect x="784.30" y="278.65" width="4.3" height="1.5" fill="#8a8a8a"/>
<rect x="775.10" y="271.57" width="9.2" height="1.7" fill="#0a0a0a"/>
<rect x="784.30" y="271.67" width="4.3" height="1.5" fill="#8a8a8a"/>
<rect x="775.10" y="264.59" width="9.2" height="1.7" fill="#0a0a0a"/>
<rect x="784.30" y="264.69" width="4.3" height="1.5" fill="#8a8a8a"/>
<rect x="775.10" y="257.61" width="9.2" height="1.7" fill="#0a0a0a"/>
<rect x="784.30" y="257.71" width="4.3" height="1.5" fill="#8a8a8a"/>
<rect x="775.10" y="250.63" width="9.2" height="1.7" fill="#0a0a0a"/>
<rect x="784.30" y="250.73" width="4.3" height="1.5" fill="#8a8a8a"/>
<rect x="775.10" y="243.65" width="9.2" height="1.7" fill="#0a0a0a"/>
<rect x="784.30" y="243.75" width="4.3" height="1.5" fill="#8a8a8a"/>
<rect x="775.10" y="236.67" width="9.2" height="1.7" fill="#0a0a0a"/>
<rect x="784.30" y="236.77" width="4.3" height="1.5" fill="#8a8a8a"/>
<rect x="775.10" y="229.69" width="9.2" height="1.7" fill="#0a0a0a"/>
<rect x="784.30" y="229.79" width="4.3" height="1.5" fill="#8a8a8a"/>
<rect x="775.10" y="222.71" width="9.2" height="1.7" fill="#0a0a0a"/>
<rect x="784.30" y="222.81" width="4.3" height="1.5" fill="#8a8a8a"/>
<rect x="775.10" y="215.73" width="9.2" height="1.7" fill="#0a0a0a"/>
<rect x="784.30" y="215.83" width="4.3" height="1.5" fill="#8a8a8a"/>
<rect x="775.10" y="208.75" width="9.2" height="1.7" fill="#0a0a0a"/>
<rect x="784.30" y="208.85" width="4.3" height="1.5" fill="#8a8a8a"/>
<rect x="775.10" y="201.77" width="9.2" height="1.7" fill="#0a0a0a"/>
<rect x="784.30" y="201.87" width="4.3" height="1.5" fill="#8a8a8a"/>
<rect x="775.10" y="194.79" width="9.2" height="1.7" fill="#0a0a0a"/>
<rect x="784.30" y="194.89" width="4.3" height="1.5" fill="#8a8a8a"/>
<rect x="775.10" y="187.81" width="9.2" height="1.7" fill="#0a0a0a"/>
<rect x="784.30" y="187.91" width="4.3" height="1.5" fill="#8a8a8a"/>
<rect x="775.10" y="180.83" width="9.2" height="1.7" fill="#0a0a0a"/>
<rect x="784.30" y="180.93" width="4.3" height="1.5" fill="#8a8a8a"/>
<rect x="775.10" y="173.85" width="9.2" height="1.7" fill="#0a0a0a"/>
<rect x="784.30" y="173.95" width="4.3" height="1.5" fill="#8a8a8a"/>
<rect x="775.10" y="166.87" width="9.2" height="1.7" fill="#0a0a0a"/>
<rect x="784.30" y="166.97" width="4.3" height="1.5" fill="#8a8a8a"/>
<rect x="775.10" y="159.89" width="9.2" height="1.7" fill="#0a0a0a"/>
<rect x="784.30" y="159.99" width="4.3" height="1.5" fill="#8a8a8a"/>
<rect x="775.10" y="152.91" width="9.2" height="1.7" fill="#0a0a0a"/>
<rect x="784.30" y="153.01" width="4.3" height="1.5" fill="#8a8a8a"/>
<rect x="775.10" y="145.93" width="9.2" height="1.7" fill="#0a0a0a"/>
<rect x="784.30" y="146.03" width="4.3" height="1.5" fill="#8a8a8a"/>
<rect x="775.10" y="138.95" width="9.2" height="1.7" fill="#0a0a0a"/>
<rect x="784.30" y="139.05" width="4.3" height="1.5" fill="#8a8a8a"/>
<rect x="775.10" y="131.97" width="9.2" height="1.7" fill="#0a0a0a"/>
<rect x="784.30" y="132.07" width="4.3" height="1.5" fill="#8a8a8a"/>
<rect x="775.10" y="124.99" width="9.2" height="1.7" fill="#0a0a0a"/>
<rect x="784.30" y="125.09" width="4.3" height="1.5" fill="#8a8a8a"/>
<rect x="775.10" y="118.01" width="9.2" height="1.7" fill="#0a0a0a"/>
<rect x="784.30" y="118.11" width="4.3" height="1.5" fill="#8a8a8a"/>
<rect x="775.10" y="111.03" width="9.2" height="1.7" fill="#0a0a0a"/>
<rect x="784.30" y="111.13" width="4.3" height="1.5" fill="#8a8a8a"/>
<ellipse cx="781.60" cy="108.39" rx="4.85" ry="3.5" transform="rotate(-24 781.60 108.39)" fill="#000"/>
<rect x="776.68" y="108.39" width="1.05" height="219.61" fill="#000"/>
<rect x="809.80" y="306.47" width="9.2" height="1.7" fill="#0a0a0a"/>
<rect x="819.00" y="306.57" width="4.3" height="1.5" fill="#8a8a8a"/>
<rect x="809.80" y="299.49" width="9.2" height="1.7" fill="#0a0a0a"/>
<rect x="819.00" y="299.59" width="4.3" height="1.5" fill="#8a8a8a"/>
<rect x="809.80" y="292.51" width="9.2" height="1.7" fill="#0a0a0a"/>
<rect x="819.00" y="292.61" width="4.3" height="1.5" fill="#8a8a8a"/>
<rect x="809.80" y="285.53" width="9.2" height="1.7" fill="#0a0a0a"/>
<rect x="819.00" y="285.63" width="4.3" height="1.5" fill="#8a8a8a"/>
<rect x="809.80" y="278.55" width="9.2" height="1.7" fill="#0a0a0a"/>
<rect x="819.00" y="278.65" width="4.3" height="1.5" fill="#8a8a8a"/>
<rect x="809.80" y="271.57" width="9.2" height="1.7" fill="#0a0a0a"/>
<rect x="819.00" y="271.67" width="4.3" height="1.5" fill="#8a8a8a"/>
<rect x="809.80" y="264.59" width="9.2" height="1.7" fill="#0a0a0a"/>
<rect x="819.00" y="264.69" width="4.3" height="1.5" fill="#8a8a8a"/>
<rect x="809.80" y="257.61" width="9.2" height="1.7" fill="#0a0a0a"/>
<rect x="819.00" y="257.71" width="4.3" height="1.5" fill="#8a8a8a"/>
<rect x="809.80" y="250.63" width="9.2" height="1.7" fill="#0a0a0a"/>
<rect x="819.00" y="250.73" width="4.3" height="1.5" fill="#8a8a8a"/>
<rect x="809.80" y="243.65" width="9.2" height="1.7" fill="#0a0a0a"/>
<rect x="819.00" y="243.75" width="4.3" height="1.5" fill="#8a8a8a"/>
<rect x="809.80" y="236.67" width="9.2" height="1.7" fill="#0a0a0a"/>
<rect x="819.00" y="236.77" width="4.3" height="1.5" fill="#8a8a8a"/>
<rect x="809.80" y="229.69" width="9.2" height="1.7" fill="#0a0a0a"/>
<rect x="819.00" y="229.79" width="4.3" height="1.5" fill="#8a8a8a"/>
<rect x="809.80" y="222.71" width="9.2" height="1.7" fill="#0a0a0a"/>
<rect x="819.00" y="222.81" width="4.3" height="1.5" fill="#8a8a8a"/>
<rect x="809.80" y="215.73" width="9.2" height="1.7" fill="#0a0a0a"/>
<rect x="819.00" y="215.83" width="4.3" height="1.5" fill="#8a8a8a"/>
<rect x="809.80" y="208.75" width="9.2" height="1.7" fill="#0a0a0a"/>
<rect x="819.00" y="208.85" width="4.3" height="1.5" fill="#8a8a8a"/>
<rect x="809.80" y="201.77" width="9.2" height="1.7" fill="#0a0a0a"/>
<rect x="819.00" y="201.87" width="4.3" height="1.5" fill="#8a8a8a"/>
<rect x="809.80" y="194.79" width="9.2" height="1.7" fill="#0a0a0a"/>
<rect x="819.00" y="194.89" width="4.3" height="1.5" fill="#8a8a8a"/>
<rect x="809.80" y="187.81" width="9.2" height="1.7" fill="#0a0a0a"/>
<rect x="819.00" y="187.91" width="4.3" height="1.5" fill="#8a8a8a"/>
<rect x="809.80" y="180.83" width="9.2" height="1.7" fill="#0a0a0a"/>
<rect x="819.00" y="180.93" width="4.3" height="1.5" fill="#8a8a8a"/>
<rect x="809.80" y="173.85" width="9.2" height="1.7" fill="#0a0a0a"/>
<rect x="819.00" y="173.95" width="4.3" height="1.5" fill="#8a8a8a"/>
<rect x="809.80" y="166.87" width="9.2" height="1.7" fill="#0a0a0a"/>
<rect x="819.00" y="166.97" width="4.3" height="1.5" fill="#8a8a8a"/>
<rect x="809.80" y="159.89" width="9.2" height="1.7" fill="#0a0a0a"/>
<rect x="819.00" y="159.99" width="4.3" height="1.5" fill="#8a8a8a"/>
<rect x="809.80" y="152.91" width="9.2" height="1.7" fill="#0a0a0a"/>
<rect x="819.00" y="153.01" width="4.3" height="1.5" fill="#8a8a8a"/>
<rect x="809.80" y="145.93" width="9.2" height="1.7" fill="#0a0a0a"/>
<rect x="819.00" y="146.03" width="4.3" height="1.5" fill="#8a8a8a"/>
<rect x="809.80" y="138.95" width="9.2" height="1.7" fill="#0a0a0a"/>
<rect x="819.00" y="139.05" width="4.3" height="1.5" fill="#8a8a8a"/>
<rect x="809.80" y="131.97" width="9.2" height="1.7" fill="#0a0a0a"/>
<rect x="819.00" y="132.07" width="4.3" height="1.5" fill="#8a8a8a"/>
<rect x="809.80" y="124.99" width="9.2" height="1.7" fill="#0a0a0a"/>
<rect x="819.00" y="125.09" width="4.3" height="1.5" fill="#8a8a8a"/>
<rect x="809.80" y="118.01" width="9.2" height="1.7" fill="#0a0a0a"/>
<rect x="819.00" y="118.11" width="4.3" height="1.5" fill="#8a8a8a"/>
<rect x="809.80" y="111.03" width="9.2" height="1.7" fill="#0a0a0a"/>
<rect x="819.00" y="111.13" width="4.3" height="1.5" fill="#8a8a8a"/>
<ellipse cx="816.30" cy="111.88" rx="4.85" ry="3.5" transform="rotate(-24 816.30 111.88)" fill="#000"/>
<rect x="811.38" y="111.88" width="1.05" height="216.12" fill="#000"/>
<rect x="823.70" y="306.47" width="9.2" height="1.7" fill="#0a0a0a"/>
<rect x="832.90" y="306.57" width="4.3" height="1.5" fill="#8a8a8a"/>
<rect x="823.70" y="299.49" width="9.2" height="1.7" fill="#0a0a0a"/>
<rect x="832.90" y="299.59" width="4.3" height="1.5" fill="#8a8a8a"/>
<rect x="823.70" y="292.51" width="9.2" height="1.7" fill="#0a0a0a"/>
<rect x="832.90" y="292.61" width="4.3" height="1.5" fill="#8a8a8a"/>
<rect x="823.70" y="285.53" width="9.2" height="1.7" fill="#0a0a0a"/>
<rect x="832.90" y="285.63" width="4.3" height="1.5" fill="#8a8a8a"/>
<rect x="823.70" y="278.55" width="9.2" height="1.7" fill="#0a0a0a"/>
<rect x="832.90" y="278.65" width="4.3" height="1.5" fill="#8a8a8a"/>
<rect x="823.70" y="271.57" width="9.2" height="1.7" fill="#0a0a0a"/>
<rect x="832.90" y="271.67" width="4.3" height="1.5" fill="#8a8a8a"/>
<rect x="823.70" y="264.59" width="9.2" height="1.7" fill="#0a0a0a"/>
<rect x="832.90" y="264.69" width="4.3" height="1.5" fill="#8a8a8a"/>
<rect x="823.70" y="257.61" width="9.2" height="1.7" fill="#0a0a0a"/>
<rect x="832.90" y="257.71" width="4.3" height="1.5" fill="#8a8a8a"/>
<rect x="823.70" y="250.63" width="9.2" height="1.7" fill="#0a0a0a"/>
<rect x="832.90" y="250.73" width="4.3" height="1.5" fill="#8a8a8a"/>
<rect x="823.70" y="243.65" width="9.2" height="1.7" fill="#0a0a0a"/>
<rect x="832.90" y="243.75" width="4.3" height="1.5" fill="#8a8a8a"/>
<rect x="823.70" y="236.67" width="9.2" height="1.7" fill="#0a0a0a"/>
<rect x="832.90" y="236.77" width="4.3" height="1.5" fill="#8a8a8a"/>
<rect x="823.70" y="229.69" width="9.2" height="1.7" fill="#0a0a0a"/>
<rect x="832.90" y="229.79" width="4.3" height="1.5" fill="#8a8a8a"/>
<rect x="823.70" y="222.71" width="9.2" height="1.7" fill="#0a0a0a"/>
<rect x="832.90" y="222.81" width="4.3" height="1.5" fill="#8a8a8a"/>
<rect x="823.70" y="215.73" width="9.2" height="1.7" fill="#0a0a0a"/>
<rect x="832.90" y="215.83" width="4.3" height="1.5" fill="#8a8a8a"/>
<rect x="823.70" y="208.75" width="9.2" height="1.7" fill="#0a0a0a"/>
<rect x="832.90" y="208.85" width="4.3" height="1.5" fill="#8a8a8a"/>
<rect x="823.70" y="201.77" width="9.2" height="1.7" fill="#0a0a0a"/>
<rect x="832.90" y="201.87" width="4.3" height="1.5" fill="#8a8a8a"/>
<rect x="823.70" y="194.79" width="9.2" height="1.7" fill="#0a0a0a"/>
<rect x="832.90" y="194.89" width="4.3" height="1.5" fill="#8a8a8a"/>
<rect x="823.70" y="187.81" width="9.2" height="1.7" fill="#0a0a0a"/>
<rect x="832.90" y="187.91" width="4.3" height="1.5" fill="#8a8a8a"/>
<rect x="823.70" y="180.83" width="9.2" height="1.7" fill="#0a0a0a"/>
<rect x="832.90" y="180.93" width="4.3" height="1.5" fill="#8a8a8a"/>
<rect x="823.70" y="173.85" width="9.2" height="1.7" fill="#0a0a0a"/>
<rect x="832.90" y="173.95" width="4.3" height="1.5" fill="#8a8a8a"/>
<rect x="823.70" y="166.87" width="9.2" height="1.7" fill="#0a0a0a"/>
<rect x="832.90" y="166.97" width="4.3" height="1.5" fill="#8a8a8a"/>
<rect x="823.70" y="159.89" width="9.2" height="1.7" fill="#0a0a0a"/>
<rect x="832.90" y="159.99" width="4.3" height="1.5" fill="#8a8a8a"/>
<rect x="823.70" y="152.91" width="9.2" height="1.7" fill="#0a0a0a"/>
<rect x="832.90" y="153.01" width="4.3" height="1.5" fill="#8a8a8a"/>
<rect x="823.70" y="145.93" width="9.2" height="1.7" fill="#0a0a0a"/>
<rect x="832.90" y="146.03" width="4.3" height="1.5" fill="#8a8a8a"/>
<ellipse cx="830.20" cy="143.29" rx="4.85" ry="3.5" transform="rotate(-24 830.20 143.29)" fill="#000"/>
<rect x="825.28" y="143.29" width="1.05" height="184.71" fill="#000"/>
<ellipse cx="663.70" cy="317.79" rx="4.85" ry="3.5" transform="rotate(-24 663.70 317.79)" fill="#000"/>
<rect x="658.78" y="317.79" width="1.05" height="24.71" fill="#000"/>
<rect x="82.50" y="348.35" width="9.2" height="1.7" fill="#0a0a0a"/>
<rect x="91.70" y="348.45" width="4.3" height="1.5" fill="#8a8a8a"/>
<rect x="82.50" y="355.33" width="9.2" height="1.7" fill="#0a0a0a"/>
<rect x="91.70" y="355.43" width="4.3" height="1.5" fill="#8a8a8a"/>
<rect x="82.50" y="362.31" width="9.2" height="1.7" fill="#0a0a0a"/>
<rect x="91.70" y="362.41" width="4.3" height="1.5" fill="#8a8a8a"/>
<rect x="82.50" y="369.29" width="9.2" height="1.7" fill="#0a0a0a"/>
<rect x="91.70" y="369.39" width="4.3" height="1.5" fill="#8a8a8a"/>
<rect x="82.50" y="376.27" width="9.2" height="1.7" fill="#0a0a0a"/>
<rect x="91.70" y="376.37" width="4.3" height="1.5" fill="#8a8a8a"/>
<rect x="82.50" y="383.25" width="9.2" height="1.7" fill="#0a0a0a"/>
<rect x="91.70" y="383.35" width="4.3" height="1.5" fill="#8a8a8a"/>
<rect x="82.50" y="390.23" width="9.2" height="1.7" fill="#0a0a0a"/>
<rect x="91.70" y="390.33" width="4.3" height="1.5" fill="#8a8a8a"/>
<rect x="82.50" y="397.21" width="9.2" height="1.7" fill="#0a0a0a"/>
<rect x="91.70" y="397.31" width="4.3" height="1.5" fill="#8a8a8a"/>
<rect x="82.50" y="404.19" width="9.2" height="1.7" fill="#0a0a0a"/>
<rect x="91.70" y="404.29" width="4.3" height="1.5" fill="#8a8a8a"/>
<rect x="82.50" y="411.17" width="9.2" height="1.7" fill="#0a0a0a"/>
<rect x="91.70" y="411.27" width="4.3" height="1.5" fill="#8a8a8a"/>
<rect x="82.50" y="418.15" width="9.2" height="1.7" fill="#0a0a0a"/>
<rect x="91.70" y="418.25" width="4.3" height="1.5" fill="#8a8a8a"/>
<rect x="82.50" y="425.13" width="9.2" height="1.7" fill="#0a0a0a"/>
<rect x="91.70" y="425.23" width="4.3" height="1.5" fill="#8a8a8a"/>
<rect x="82.50" y="432.11" width="9.2" height="1.7" fill="#0a0a0a"/>
<rect x="91.70" y="432.21" width="4.3" height="1.5" fill="#8a8a8a"/>
<rect x="82.50" y="439.09" width="9.2" height="1.7" fill="#0a0a0a"/>
<rect x="91.70" y="439.19" width="4.3" height="1.5" fill="#8a8a8a"/>
<rect x="82.50" y="446.07" width="9.2" height="1.7" fill="#0a0a0a"/>
<rect x="91.70" y="446.17" width="4.3" height="1.5" fill="#8a8a8a"/>
<rect x="82.50" y="453.05" width="9.2" height="1.7" fill="#0a0a0a"/>
<rect x="91.70" y="453.15" width="4.3" height="1.5" fill="#8a8a8a"/>
<rect x="82.50" y="460.03" width="9.2" height="1.7" fill="#0a0a0a"/>
<rect x="91.70" y="460.13" width="4.3" height="1.5" fill="#8a8a8a"/>
<rect x="82.50" y="467.01" width="9.2" height="1.7" fill="#0a0a0a"/>
<rect x="91.70" y="467.11" width="4.3" height="1.5" fill="#8a8a8a"/>
<rect x="82.50" y="473.99" width="9.2" height="1.7" fill="#0a0a0a"/>
<rect x="91.70" y="474.09" width="4.3" height="1.5" fill="#8a8a8a"/>
<rect x="82.50" y="480.97" width="9.2" height="1.7" fill="#0a0a0a"/>
<rect x="91.70" y="481.07" width="4.3" height="1.5" fill="#8a8a8a"/>
<rect x="82.50" y="487.95" width="9.2" height="1.7" fill="#0a0a0a"/>
<rect x="91.70" y="488.05" width="4.3" height="1.5" fill="#8a8a8a"/>
<rect x="82.50" y="494.93" width="9.2" height="1.7" fill="#0a0a0a"/>
<rect x="91.70" y="495.03" width="4.3" height="1.5" fill="#8a8a8a"/>
<rect x="82.50" y="501.91" width="9.2" height="1.7" fill="#0a0a0a"/>
<rect x="91.70" y="502.01" width="4.3" height="1.5" fill="#8a8a8a"/>
<rect x="82.50" y="508.89" width="9.2" height="1.7" fill="#0a0a0a"/>
<rect x="91.70" y="508.99" width="4.3" height="1.5" fill="#8a8a8a"/>
<rect x="82.50" y="515.87" width="9.2" height="1.7" fill="#0a0a0a"/>
<rect x="91.70" y="515.97" width="4.3" height="1.5" fill="#8a8a8a"/>
<rect x="82.50" y="522.85" width="9.2" height="1.7" fill="#0a0a0a"/>
<rect x="91.70" y="522.95" width="4.3" height="1.5" fill="#8a8a8a"/>
<rect x="82.50" y="529.83" width="9.2" height="1.7" fill="#0a0a0a"/>
<rect x="91.70" y="529.93" width="4.3" height="1.5" fill="#8a8a8a"/>
<ellipse cx="89.00" cy="387.59" rx="4.85" ry="3.5" transform="rotate(-24 89.00 387.59)" fill="#000"/>
<ellipse cx="89.00" cy="412.02" rx="4.85" ry="3.5" transform="rotate(-24 89.00 412.02)" fill="#000"/>
<ellipse cx="89.00" cy="446.92" rx="4.85" ry="3.5" transform="rotate(-24 89.00 446.92)" fill="#000"/>
<ellipse cx="89.00" cy="534.17" rx="4.85" ry="3.5" transform="rotate(-24 89.00 534.17)" fill="#000"/>
<rect x="92.97" y="300.00" width="1.05" height="146.92" fill="#000"/>
<rect x="92.97" y="465.00" width="1.05" height="69.17" fill="#000"/>
<rect x="75.60" y="378.79" width="1.25" height="19" fill="#000"/>
<rect x="78.80" y="377.39" width="1.25" height="19" fill="#000"/>
<polygon points="73.90,383.99 81.90,381.59 81.90,384.09 73.90,386.49" fill="#000"/>
<polygon points="73.90,390.79 81.90,388.39 81.90,390.89 73.90,393.29" fill="#000"/>
<rect x="74.40" y="438.12" width="1.25" height="19" fill="#000"/>
<rect x="77.60" y="436.72" width="1.25" height="19" fill="#000"/>
<polygon points="72.70,443.32 80.70,440.92 80.70,443.42 72.70,445.82" fill="#000"/>
<polygon points="72.70,450.12 80.70,447.72 80.70,450.22 72.70,452.62" fill="#000"/>
<circle cx="98.80" cy="416.20" r="1.2" fill="#000"/>
<circle cx="104.60" cy="416.20" r="1.2" fill="#000"/>
<circle cx="111.00" cy="416.20" r="1.2" fill="#000"/>
<rect x="112.20" y="348.35" width="9.2" height="1.7" fill="#0a0a0a"/>
<rect x="121.40" y="348.45" width="4.3" height="1.5" fill="#8a8a8a"/>
<rect x="112.20" y="355.33" width="9.2" height="1.7" fill="#0a0a0a"/>
<rect x="121.40" y="355.43" width="4.3" height="1.5" fill="#8a8a8a"/>
<rect x="112.20" y="362.31" width="9.2" height="1.7" fill="#0a0a0a"/>
<rect x="121.40" y="362.41" width="4.3" height="1.5" fill="#8a8a8a"/>
<rect x="112.20" y="369.29" width="9.2" height="1.7" fill="#0a0a0a"/>
<rect x="121.40" y="369.39" width="4.3" height="1.5" fill="#8a8a8a"/>
<rect x="112.20" y="376.27" width="9.2" height="1.7" fill="#0a0a0a"/>
<rect x="121.40" y="376.37" width="4.3" height="1.5" fill="#8a8a8a"/>
<rect x="112.20" y="383.25" width="9.2" height="1.7" fill="#0a0a0a"/>
<rect x="121.40" y="383.35" width="4.3" height="1.5" fill="#8a8a8a"/>
<rect x="112.20" y="390.23" width="9.2" height="1.7" fill="#0a0a0a"/>
<rect x="121.40" y="390.33" width="4.3" height="1.5" fill="#8a8a8a"/>
<rect x="112.20" y="397.21" width="9.2" height="1.7" fill="#0a0a0a"/>
<rect x="121.40" y="397.31" width="4.3" height="1.5" fill="#8a8a8a"/>
<rect x="112.20" y="404.19" width="9.2" height="1.7" fill="#0a0a0a"/>
<rect x="121.40" y="404.29" width="4.3" height="1.5" fill="#8a8a8a"/>
<rect x="112.20" y="411.17" width="9.2" height="1.7" fill="#0a0a0a"/>
<rect x="121.40" y="411.27" width="4.3" height="1.5" fill="#8a8a8a"/>
<rect x="112.20" y="418.15" width="9.2" height="1.7" fill="#0a0a0a"/>
<rect x="121.40" y="418.25" width="4.3" height="1.5" fill="#8a8a8a"/>
<rect x="112.20" y="425.13" width="9.2" height="1.7" fill="#0a0a0a"/>
<rect x="121.40" y="425.23" width="4.3" height="1.5" fill="#8a8a8a"/>
<rect x="112.20" y="432.11" width="9.2" height="1.7" fill="#0a0a0a"/>
<rect x="121.40" y="432.21" width="4.3" height="1.5" fill="#8a8a8a"/>
<rect x="112.20" y="439.09" width="9.2" height="1.7" fill="#0a0a0a"/>
<rect x="121.40" y="439.19" width="4.3" height="1.5" fill="#8a8a8a"/>
<rect x="112.20" y="446.07" width="9.2" height="1.7" fill="#0a0a0a"/>
<rect x="121.40" y="446.17" width="4.3" height="1.5" fill="#8a8a8a"/>
<rect x="112.20" y="453.05" width="9.2" height="1.7" fill="#0a0a0a"/>
<rect x="121.40" y="453.15" width="4.3" height="1.5" fill="#8a8a8a"/>
<rect x="112.20" y="460.03" width="9.2" height="1.7" fill="#0a0a0a"/>
<rect x="121.40" y="460.13" width="4.3" height="1.5" fill="#8a8a8a"/>
<rect x="112.20" y="467.01" width="9.2" height="1.7" fill="#0a0a0a"/>
<rect x="121.40" y="467.11" width="4.3" height="1.5" fill="#8a8a8a"/>
<rect x="112.20" y="473.99" width="9.2" height="1.7" fill="#0a0a0a"/>
<rect x="121.40" y="474.09" width="4.3" height="1.5" fill="#8a8a8a"/>
<rect x="112.20" y="480.97" width="9.2" height="1.7" fill="#0a0a0a"/>
<rect x="121.40" y="481.07" width="4.3" height="1.5" fill="#8a8a8a"/>
<rect x="112.20" y="487.95" width="9.2" height="1.7" fill="#0a0a0a"/>
<rect x="121.40" y="488.05" width="4.3" height="1.5" fill="#8a8a8a"/>
<rect x="112.20" y="494.93" width="9.2" height="1.7" fill="#0a0a0a"/>
<rect x="121.40" y="495.03" width="4.3" height="1.5" fill="#8a8a8a"/>
<rect x="112.20" y="501.91" width="9.2" height="1.7" fill="#0a0a0a"/>
<rect x="121.40" y="502.01" width="4.3" height="1.5" fill="#8a8a8a"/>
<rect x="112.20" y="508.89" width="9.2" height="1.7" fill="#0a0a0a"/>
<rect x="121.40" y="508.99" width="4.3" height="1.5" fill="#8a8a8a"/>
<rect x="112.20" y="515.87" width="9.2" height="1.7" fill="#0a0a0a"/>
<rect x="121.40" y="515.97" width="4.3" height="1.5" fill="#8a8a8a"/>
<rect x="112.20" y="522.85" width="9.2" height="1.7" fill="#0a0a0a"/>
<rect x="121.40" y="522.95" width="4.3" height="1.5" fill="#8a8a8a"/>
<rect x="112.20" y="529.83" width="9.2" height="1.7" fill="#0a0a0a"/>
<rect x="121.40" y="529.93" width="4.3" height="1.5" fill="#8a8a8a"/>
<ellipse cx="118.70" cy="534.17" rx="4.85" ry="3.5" transform="rotate(-24 118.70 534.17)" fill="#000"/>
<rect x="122.58" y="466.00" width="1.05" height="68.17" fill="#000"/>
<rect x="130.10" y="348.35" width="9.2" height="1.7" fill="#0a0a0a"/>
<rect x="139.30" y="348.45" width="4.3" height="1.5" fill="#8a8a8a"/>
<rect x="130.10" y="355.33" width="9.2" height="1.7" fill="#0a0a0a"/>
<rect x="139.30" y="355.43" width="4.3" height="1.5" fill="#8a8a8a"/>
<rect x="130.10" y="362.31" width="9.2" height="1.7" fill="#0a0a0a"/>
<rect x="139.30" y="362.41" width="4.3" height="1.5" fill="#8a8a8a"/>
<rect x="130.10" y="369.29" width="9.2" height="1.7" fill="#0a0a0a"/>
<rect x="139.30" y="369.39" width="4.3" height="1.5" fill="#8a8a8a"/>
<rect x="130.10" y="376.27" width="9.2" height="1.7" fill="#0a0a0a"/>
<rect x="139.30" y="376.37" width="4.3" height="1.5" fill="#8a8a8a"/>
<rect x="130.10" y="383.25" width="9.2" height="1.7" fill="#0a0a0a"/>
<rect x="139.30" y="383.35" width="4.3" height="1.5" fill="#8a8a8a"/>
<rect x="130.10" y="390.23" width="9.2" height="1.7" fill="#0a0a0a"/>
<rect x="139.30" y="390.33" width="4.3" height="1.5" fill="#8a8a8a"/>
<rect x="130.10" y="397.21" width="9.2" height="1.7" fill="#0a0a0a"/>
<rect x="139.30" y="397.31" width="4.3" height="1.5" fill="#8a8a8a"/>
<rect x="130.10" y="404.19" width="9.2" height="1.7" fill="#0a0a0a"/>
<rect x="139.30" y="404.29" width="4.3" height="1.5" fill="#8a8a8a"/>
<rect x="130.10" y="411.17" width="9.2" height="1.7" fill="#0a0a0a"/>
<rect x="139.30" y="411.27" width="4.3" height="1.5" fill="#8a8a8a"/>
<rect x="130.10" y="418.15" width="9.2" height="1.7" fill="#0a0a0a"/>
<rect x="139.30" y="418.25" width="4.3" height="1.5" fill="#8a8a8a"/>
<rect x="130.10" y="425.13" width="9.2" height="1.7" fill="#0a0a0a"/>
<rect x="139.30" y="425.23" width="4.3" height="1.5" fill="#8a8a8a"/>
<rect x="130.10" y="432.11" width="9.2" height="1.7" fill="#0a0a0a"/>
<rect x="139.30" y="432.21" width="4.3" height="1.5" fill="#8a8a8a"/>
<rect x="130.10" y="439.09" width="9.2" height="1.7" fill="#0a0a0a"/>
<rect x="139.30" y="439.19" width="4.3" height="1.5" fill="#8a8a8a"/>
<rect x="130.10" y="446.07" width="9.2" height="1.7" fill="#0a0a0a"/>
<rect x="139.30" y="446.17" width="4.3" height="1.5" fill="#8a8a8a"/>
<rect x="130.10" y="453.05" width="9.2" height="1.7" fill="#0a0a0a"/>
<rect x="139.30" y="453.15" width="4.3" height="1.5" fill="#8a8a8a"/>
<rect x="130.10" y="460.03" width="9.2" height="1.7" fill="#0a0a0a"/>
<rect x="139.30" y="460.13" width="4.3" height="1.5" fill="#8a8a8a"/>
<rect x="130.10" y="467.01" width="9.2" height="1.7" fill="#0a0a0a"/>
<rect x="139.30" y="467.11" width="4.3" height="1.5" fill="#8a8a8a"/>
<rect x="130.10" y="473.99" width="9.2" height="1.7" fill="#0a0a0a"/>
<rect x="139.30" y="474.09" width="4.3" height="1.5" fill="#8a8a8a"/>
<rect x="130.10" y="480.97" width="9.2" height="1.7" fill="#0a0a0a"/>
<rect x="139.30" y="481.07" width="4.3" height="1.5" fill="#8a8a8a"/>
<rect x="130.10" y="487.95" width="9.2" height="1.7" fill="#0a0a0a"/>
<rect x="139.30" y="488.05" width="4.3" height="1.5" fill="#8a8a8a"/>
<rect x="130.10" y="494.93" width="9.2" height="1.7" fill="#0a0a0a"/>
<rect x="139.30" y="495.03" width="4.3" height="1.5" fill="#8a8a8a"/>
<rect x="130.10" y="501.91" width="9.2" height="1.7" fill="#0a0a0a"/>
<rect x="139.30" y="502.01" width="4.3" height="1.5" fill="#8a8a8a"/>
<rect x="130.10" y="508.89" width="9.2" height="1.7" fill="#0a0a0a"/>
<rect x="139.30" y="508.99" width="4.3" height="1.5" fill="#8a8a8a"/>
<rect x="130.10" y="515.87" width="9.2" height="1.7" fill="#0a0a0a"/>
<rect x="139.30" y="515.97" width="4.3" height="1.5" fill="#8a8a8a"/>
<rect x="130.10" y="522.85" width="9.2" height="1.7" fill="#0a0a0a"/>
<rect x="139.30" y="522.95" width="4.3" height="1.5" fill="#8a8a8a"/>
<rect x="130.10" y="529.83" width="9.2" height="1.7" fill="#0a0a0a"/>
<rect x="139.30" y="529.93" width="4.3" height="1.5" fill="#8a8a8a"/>
<ellipse cx="136.60" cy="534.17" rx="4.85" ry="3.5" transform="rotate(-24 136.60 534.17)" fill="#000"/>
<rect x="140.47" y="466.00" width="1.05" height="68.17" fill="#000"/>
<polygon points="93.40,464.60 141.50,467.10 141.50,470.50 93.40,468.00" fill="#000"/>
<polygon points="93.40,470.90 141.50,472.70 141.50,476.10 93.40,474.30" fill="#000"/>
<polygon points="123.60,478.50 141.50,479.80 141.50,483.20 123.60,481.90" fill="#000"/>
<polygon points="123.60,484.60 141.50,485.70 141.50,489.10 123.60,488.00" fill="#000"/>
<rect x="145.50" y="348.35" width="9.2" height="1.7" fill="#0a0a0a"/>
<rect x="154.70" y="348.45" width="4.3" height="1.5" fill="#8a8a8a"/>
<rect x="145.50" y="355.33" width="9.2" height="1.7" fill="#0a0a0a"/>
<rect x="154.70" y="355.43" width="4.3" height="1.5" fill="#8a8a8a"/>
<rect x="145.50" y="362.31" width="9.2" height="1.7" fill="#0a0a0a"/>
<rect x="154.70" y="362.41" width="4.3" height="1.5" fill="#8a8a8a"/>
<rect x="145.50" y="369.29" width="9.2" height="1.7" fill="#0a0a0a"/>
<rect x="154.70" y="369.39" width="4.3" height="1.5" fill="#8a8a8a"/>
<rect x="145.50" y="376.27" width="9.2" height="1.7" fill="#0a0a0a"/>
<rect x="154.70" y="376.37" width="4.3" height="1.5" fill="#8a8a8a"/>
<rect x="145.50" y="383.25" width="9.2" height="1.7" fill="#0a0a0a"/>
<rect x="154.70" y="383.35" width="4.3" height="1.5" fill="#8a8a8a"/>
<ellipse cx="152.00" cy="387.59" rx="4.85" ry="3.5" transform="rotate(-24 152.00 387.59)" fill="#000"/>
<rect x="155.88" y="343.00" width="1.05" height="44.59" fill="#000"/>
<rect x="165.80" y="348.35" width="9.2" height="1.7" fill="#0a0a0a"/>
<rect x="175.00" y="348.45" width="4.3" height="1.5" fill="#8a8a8a"/>
<rect x="165.80" y="355.33" width="9.2" height="1.7" fill="#0a0a0a"/>
<rect x="175.00" y="355.43" width="4.3" height="1.5" fill="#8a8a8a"/>
<rect x="165.80" y="362.31" width="9.2" height="1.7" fill="#0a0a0a"/>
<rect x="175.00" y="362.41" width="4.3" height="1.5" fill="#8a8a8a"/>
<rect x="165.80" y="369.29" width="9.2" height="1.7" fill="#0a0a0a"/>
<rect x="175.00" y="369.39" width="4.3" height="1.5" fill="#8a8a8a"/>
<rect x="165.80" y="376.27" width="9.2" height="1.7" fill="#0a0a0a"/>
<rect x="175.00" y="376.37" width="4.3" height="1.5" fill="#8a8a8a"/>
<rect x="165.80" y="383.25" width="9.2" height="1.7" fill="#0a0a0a"/>
<rect x="175.00" y="383.35" width="4.3" height="1.5" fill="#8a8a8a"/>
<rect x="165.80" y="390.23" width="9.2" height="1.7" fill="#0a0a0a"/>
<rect x="175.00" y="390.33" width="4.3" height="1.5" fill="#8a8a8a"/>
<rect x="165.80" y="397.21" width="9.2" height="1.7" fill="#0a0a0a"/>
<rect x="175.00" y="397.31" width="4.3" height="1.5" fill="#8a8a8a"/>
<rect x="165.80" y="404.19" width="9.2" height="1.7" fill="#0a0a0a"/>
<rect x="175.00" y="404.29" width="4.3" height="1.5" fill="#8a8a8a"/>
<rect x="165.80" y="411.17" width="9.2" height="1.7" fill="#0a0a0a"/>
<rect x="175.00" y="411.27" width="4.3" height="1.5" fill="#8a8a8a"/>
<rect x="165.80" y="418.15" width="9.2" height="1.7" fill="#0a0a0a"/>
<rect x="175.00" y="418.25" width="4.3" height="1.5" fill="#8a8a8a"/>
<rect x="165.80" y="425.13" width="9.2" height="1.7" fill="#0a0a0a"/>
<rect x="175.00" y="425.23" width="4.3" height="1.5" fill="#8a8a8a"/>
<rect x="165.80" y="432.11" width="9.2" height="1.7" fill="#0a0a0a"/>
<rect x="175.00" y="432.21" width="4.3" height="1.5" fill="#8a8a8a"/>
<rect x="165.80" y="439.09" width="9.2" height="1.7" fill="#0a0a0a"/>
<rect x="175.00" y="439.19" width="4.3" height="1.5" fill="#8a8a8a"/>
<rect x="165.80" y="446.07" width="9.2" height="1.7" fill="#0a0a0a"/>
<rect x="175.00" y="446.17" width="4.3" height="1.5" fill="#8a8a8a"/>
<rect x="165.80" y="453.05" width="9.2" height="1.7" fill="#0a0a0a"/>
<rect x="175.00" y="453.15" width="4.3" height="1.5" fill="#8a8a8a"/>
<rect x="165.80" y="460.03" width="9.2" height="1.7" fill="#0a0a0a"/>
<rect x="175.00" y="460.13" width="4.3" height="1.5" fill="#8a8a8a"/>
<rect x="165.80" y="467.01" width="9.2" height="1.7" fill="#0a0a0a"/>
<rect x="175.00" y="467.11" width="4.3" height="1.5" fill="#8a8a8a"/>
<rect x="165.80" y="473.99" width="9.2" height="1.7" fill="#0a0a0a"/>
<rect x="175.00" y="474.09" width="4.3" height="1.5" fill="#8a8a8a"/>
<rect x="165.80" y="480.97" width="9.2" height="1.7" fill="#0a0a0a"/>
<rect x="175.00" y="481.07" width="4.3" height="1.5" fill="#8a8a8a"/>
<rect x="165.80" y="487.95" width="9.2" height="1.7" fill="#0a0a0a"/>
<rect x="175.00" y="488.05" width="4.3" height="1.5" fill="#8a8a8a"/>
<rect x="165.80" y="494.93" width="9.2" height="1.7" fill="#0a0a0a"/>
<rect x="175.00" y="495.03" width="4.3" height="1.5" fill="#8a8a8a"/>
<rect x="165.80" y="501.91" width="9.2" height="1.7" fill="#0a0a0a"/>
<rect x="175.00" y="502.01" width="4.3" height="1.5" fill="#8a8a8a"/>
<rect x="165.80" y="508.89" width="9.2" height="1.7" fill="#0a0a0a"/>
<rect x="175.00" y="508.99" width="4.3" height="1.5" fill="#8a8a8a"/>
<rect x="165.80" y="515.87" width="9.2" height="1.7" fill="#0a0a0a"/>
<rect x="175.00" y="515.97" width="4.3" height="1.5" fill="#8a8a8a"/>
<rect x="165.80" y="522.85" width="9.2" height="1.7" fill="#0a0a0a"/>
<rect x="175.00" y="522.95" width="4.3" height="1.5" fill="#8a8a8a"/>
<rect x="165.80" y="529.83" width="9.2" height="1.7" fill="#0a0a0a"/>
<rect x="175.00" y="529.93" width="4.3" height="1.5" fill="#8a8a8a"/>
<rect x="165.80" y="536.81" width="9.2" height="1.7" fill="#0a0a0a"/>
<rect x="175.00" y="536.91" width="4.3" height="1.5" fill="#8a8a8a"/>
<rect x="165.80" y="543.79" width="9.2" height="1.7" fill="#0a0a0a"/>
<rect x="175.00" y="543.89" width="4.3" height="1.5" fill="#8a8a8a"/>
<rect x="165.80" y="550.77" width="9.2" height="1.7" fill="#0a0a0a"/>
<rect x="175.00" y="550.87" width="4.3" height="1.5" fill="#8a8a8a"/>
<rect x="165.80" y="557.75" width="9.2" height="1.7" fill="#0a0a0a"/>
<rect x="175.00" y="557.85" width="4.3" height="1.5" fill="#8a8a8a"/>
<rect x="165.80" y="564.73" width="9.2" height="1.7" fill="#0a0a0a"/>
<rect x="175.00" y="564.83" width="4.3" height="1.5" fill="#8a8a8a"/>
<rect x="165.80" y="571.71" width="9.2" height="1.7" fill="#0a0a0a"/>
<rect x="175.00" y="571.81" width="4.3" height="1.5" fill="#8a8a8a"/>
<rect x="165.80" y="578.69" width="9.2" height="1.7" fill="#0a0a0a"/>
<rect x="175.00" y="578.79" width="4.3" height="1.5" fill="#8a8a8a"/>
<rect x="165.80" y="585.67" width="9.2" height="1.7" fill="#0a0a0a"/>
<rect x="175.00" y="585.77" width="4.3" height="1.5" fill="#8a8a8a"/>
<rect x="165.80" y="592.65" width="9.2" height="1.7" fill="#0a0a0a"/>
<rect x="175.00" y="592.75" width="4.3" height="1.5" fill="#8a8a8a"/>
<rect x="165.80" y="599.63" width="9.2" height="1.7" fill="#0a0a0a"/>
<rect x="175.00" y="599.73" width="4.3" height="1.5" fill="#8a8a8a"/>
<rect x="165.80" y="606.61" width="9.2" height="1.7" fill="#0a0a0a"/>
<rect x="175.00" y="606.71" width="4.3" height="1.5" fill="#8a8a8a"/>
<rect x="165.80" y="613.59" width="9.2" height="1.7" fill="#0a0a0a"/>
<rect x="175.00" y="613.69" width="4.3" height="1.5" fill="#8a8a8a"/>
<ellipse cx="172.30" cy="617.93" rx="4.85" ry="3.5" transform="rotate(-24 172.30 617.93)" fill="#000"/>
<rect x="176.18" y="328.00" width="1.05" height="289.93" fill="#000"/>
<rect x="159.50" y="609.00" width="1.25" height="19" fill="#000"/>
<rect x="162.70" y="607.60" width="1.25" height="19" fill="#000"/>
<polygon points="157.80,614.20 165.80,611.80 165.80,614.30 157.80,616.70" fill="#000"/>
<polygon points="157.80,621.00 165.80,618.60 165.80,621.10 157.80,623.50" fill="#000"/>
<rect x="186.50" y="348.35" width="9.2" height="1.7" fill="#0a0a0a"/>
<rect x="195.70" y="348.45" width="4.3" height="1.5" fill="#8a8a8a"/>
<rect x="186.50" y="355.33" width="9.2" height="1.7" fill="#0a0a0a"/>
<rect x="195.70" y="355.43" width="4.3" height="1.5" fill="#8a8a8a"/>
<rect x="186.50" y="362.31" width="9.2" height="1.7" fill="#0a0a0a"/>
<rect x="195.70" y="362.41" width="4.3" height="1.5" fill="#8a8a8a"/>
<rect x="186.50" y="369.29" width="9.2" height="1.7" fill="#0a0a0a"/>
<rect x="195.70" y="369.39" width="4.3" height="1.5" fill="#8a8a8a"/>
<rect x="186.50" y="376.27" width="9.2" height="1.7" fill="#0a0a0a"/>
<rect x="195.70" y="376.37" width="4.3" height="1.5" fill="#8a8a8a"/>
<rect x="186.50" y="383.25" width="9.2" height="1.7" fill="#0a0a0a"/>
<rect x="195.70" y="383.35" width="4.3" height="1.5" fill="#8a8a8a"/>
<rect x="186.50" y="390.23" width="9.2" height="1.7" fill="#0a0a0a"/>
<rect x="195.70" y="390.33" width="4.3" height="1.5" fill="#8a8a8a"/>
<rect x="186.50" y="397.21" width="9.2" height="1.7" fill="#0a0a0a"/>
<rect x="195.70" y="397.31" width="4.3" height="1.5" fill="#8a8a8a"/>
<rect x="186.50" y="404.19" width="9.2" height="1.7" fill="#0a0a0a"/>
<rect x="195.70" y="404.29" width="4.3" height="1.5" fill="#8a8a8a"/>
<rect x="186.50" y="411.17" width="9.2" height="1.7" fill="#0a0a0a"/>
<rect x="195.70" y="411.27" width="4.3" height="1.5" fill="#8a8a8a"/>
<rect x="186.50" y="418.15" width="9.2" height="1.7" fill="#0a0a0a"/>
<rect x="195.70" y="418.25" width="4.3" height="1.5" fill="#8a8a8a"/>
<rect x="186.50" y="425.13" width="9.2" height="1.7" fill="#0a0a0a"/>
<rect x="195.70" y="425.23" width="4.3" height="1.5" fill="#8a8a8a"/>
<rect x="186.50" y="432.11" width="9.2" height="1.7" fill="#0a0a0a"/>
<rect x="195.70" y="432.21" width="4.3" height="1.5" fill="#8a8a8a"/>
<rect x="186.50" y="439.09" width="9.2" height="1.7" fill="#0a0a0a"/>
<rect x="195.70" y="439.19" width="4.3" height="1.5" fill="#8a8a8a"/>
<ellipse cx="193.00" cy="443.43" rx="4.85" ry="3.5" transform="rotate(-24 193.00 443.43)" fill="#000"/>
<rect x="196.88" y="331.00" width="1.05" height="112.43" fill="#000"/>
<rect x="179.80" y="434.63" width="1.25" height="19" fill="#000"/>
<rect x="183.00" y="433.23" width="1.25" height="19" fill="#000"/>
<polygon points="178.10,439.83 186.10,437.43 186.10,439.93 178.10,442.33" fill="#000"/>
<polygon points="178.10,446.63 186.10,444.23 186.10,446.73 178.10,449.13" fill="#000"/>
<rect x="239.10" y="348.35" width="9.2" height="1.7" fill="#0a0a0a"/>
<rect x="248.30" y="348.45" width="4.3" height="1.5" fill="#8a8a8a"/>
<rect x="239.10" y="355.33" width="9.2" height="1.7" fill="#0a0a0a"/>
<rect x="248.30" y="355.43" width="4.3" height="1.5" fill="#8a8a8a"/>
<rect x="239.10" y="362.31" width="9.2" height="1.7" fill="#0a0a0a"/>
<rect x="248.30" y="362.41" width="4.3" height="1.5" fill="#8a8a8a"/>
<rect x="239.10" y="369.29" width="9.2" height="1.7" fill="#0a0a0a"/>
<rect x="248.30" y="369.39" width="4.3" height="1.5" fill="#8a8a8a"/>
<rect x="239.10" y="376.27" width="9.2" height="1.7" fill="#0a0a0a"/>
<rect x="248.30" y="376.37" width="4.3" height="1.5" fill="#8a8a8a"/>
<rect x="239.10" y="383.25" width="9.2" height="1.7" fill="#0a0a0a"/>
<rect x="248.30" y="383.35" width="4.3" height="1.5" fill="#8a8a8a"/>
<rect x="239.10" y="390.23" width="9.2" height="1.7" fill="#0a0a0a"/>
<rect x="248.30" y="390.33" width="4.3" height="1.5" fill="#8a8a8a"/>
<rect x="239.10" y="397.21" width="9.2" height="1.7" fill="#0a0a0a"/>
<rect x="248.30" y="397.31" width="4.3" height="1.5" fill="#8a8a8a"/>
<rect x="239.10" y="404.19" width="9.2" height="1.7" fill="#0a0a0a"/>
<rect x="248.30" y="404.29" width="4.3" height="1.5" fill="#8a8a8a"/>
<rect x="239.10" y="411.17" width="9.2" height="1.7" fill="#0a0a0a"/>
<rect x="248.30" y="411.27" width="4.3" height="1.5" fill="#8a8a8a"/>
<ellipse cx="245.60" cy="412.02" rx="4.85" ry="3.5" transform="rotate(-24 245.60 412.02)" fill="#000"/>
<rect x="249.47" y="341.00" width="1.05" height="71.02" fill="#000"/>
<circle cx="255.00" cy="410.00" r="1.2" fill="#000"/>
<rect x="262.60" y="348.35" width="9.2" height="1.7" fill="#0a0a0a"/>
<rect x="271.80" y="348.45" width="4.3" height="1.5" fill="#8a8a8a"/>
<rect x="262.60" y="355.33" width="9.2" height="1.7" fill="#0a0a0a"/>
<rect x="271.80" y="355.43" width="4.3" height="1.5" fill="#8a8a8a"/>
<rect x="262.60" y="362.31" width="9.2" height="1.7" fill="#0a0a0a"/>
<rect x="271.80" y="362.41" width="4.3" height="1.5" fill="#8a8a8a"/>
<rect x="262.60" y="369.29" width="9.2" height="1.7" fill="#0a0a0a"/>
<rect x="271.80" y="369.39" width="4.3" height="1.5" fill="#8a8a8a"/>
<rect x="262.60" y="376.27" width="9.2" height="1.7" fill="#0a0a0a"/>
<rect x="271.80" y="376.37" width="4.3" height="1.5" fill="#8a8a8a"/>
<rect x="262.60" y="383.25" width="9.2" height="1.7" fill="#0a0a0a"/>
<rect x="271.80" y="383.35" width="4.3" height="1.5" fill="#8a8a8a"/>
<rect x="262.60" y="390.23" width="9.2" height="1.7" fill="#0a0a0a"/>
<rect x="271.80" y="390.33" width="4.3" height="1.5" fill="#8a8a8a"/>
<rect x="262.60" y="397.21" width="9.2" height="1.7" fill="#0a0a0a"/>
<rect x="271.80" y="397.31" width="4.3" height="1.5" fill="#8a8a8a"/>
<rect x="262.60" y="404.19" width="9.2" height="1.7" fill="#0a0a0a"/>
<rect x="271.80" y="404.29" width="4.3" height="1.5" fill="#8a8a8a"/>
<rect x="262.60" y="411.17" width="9.2" height="1.7" fill="#0a0a0a"/>
<rect x="271.80" y="411.27" width="4.3" height="1.5" fill="#8a8a8a"/>
<ellipse cx="269.10" cy="412.02" rx="4.85" ry="3.5" transform="rotate(-24 269.10 412.02)" fill="#000"/>
<rect x="272.98" y="339.60" width="1.05" height="72.42" fill="#000"/>
<rect x="284.60" y="348.35" width="9.2" height="1.7" fill="#0a0a0a"/>
<rect x="293.80" y="348.45" width="4.3" height="1.5" fill="#8a8a8a"/>
<rect x="284.60" y="355.33" width="9.2" height="1.7" fill="#0a0a0a"/>
<rect x="293.80" y="355.43" width="4.3" height="1.5" fill="#8a8a8a"/>
<rect x="284.60" y="362.31" width="9.2" height="1.7" fill="#0a0a0a"/>
<rect x="293.80" y="362.41" width="4.3" height="1.5" fill="#8a8a8a"/>
<rect x="284.60" y="369.29" width="9.2" height="1.7" fill="#0a0a0a"/>
<rect x="293.80" y="369.39" width="4.3" height="1.5" fill="#8a8a8a"/>
<rect x="284.60" y="376.27" width="9.2" height="1.7" fill="#0a0a0a"/>
<rect x="293.80" y="376.37" width="4.3" height="1.5" fill="#8a8a8a"/>
<rect x="284.60" y="383.25" width="9.2" height="1.7" fill="#0a0a0a"/>
<rect x="293.80" y="383.35" width="4.3" height="1.5" fill="#8a8a8a"/>
<rect x="284.60" y="390.23" width="9.2" height="1.7" fill="#0a0a0a"/>
<rect x="293.80" y="390.33" width="4.3" height="1.5" fill="#8a8a8a"/>
<rect x="284.60" y="397.21" width="9.2" height="1.7" fill="#0a0a0a"/>
<rect x="293.80" y="397.31" width="4.3" height="1.5" fill="#8a8a8a"/>
<rect x="284.60" y="404.19" width="9.2" height="1.7" fill="#0a0a0a"/>
<rect x="293.80" y="404.29" width="4.3" height="1.5" fill="#8a8a8a"/>
<rect x="284.60" y="411.17" width="9.2" height="1.7" fill="#0a0a0a"/>
<rect x="293.80" y="411.27" width="4.3" height="1.5" fill="#8a8a8a"/>
<ellipse cx="291.10" cy="398.06" rx="4.85" ry="3.5" transform="rotate(-24 291.10 398.06)" fill="#000"/>
<ellipse cx="291.10" cy="415.51" rx="4.85" ry="3.5" transform="rotate(-24 291.10 415.51)" fill="#000"/>
<rect x="294.98" y="328.00" width="1.05" height="87.51" fill="#000"/>
<rect x="278.00" y="389.26" width="1.25" height="19" fill="#000"/>
<rect x="281.20" y="387.86" width="1.25" height="19" fill="#000"/>
<polygon points="276.30,394.46 284.30,392.06 284.30,394.56 276.30,396.96" fill="#000"/>
<polygon points="276.30,401.26 284.30,398.86 284.30,401.36 276.30,403.76" fill="#000"/>
<rect x="319.40" y="348.35" width="9.2" height="1.7" fill="#0a0a0a"/>
<rect x="328.60" y="348.45" width="4.3" height="1.5" fill="#8a8a8a"/>
<rect x="319.40" y="355.33" width="9.2" height="1.7" fill="#0a0a0a"/>
<rect x="328.60" y="355.43" width="4.3" height="1.5" fill="#8a8a8a"/>
<rect x="319.40" y="362.31" width="9.2" height="1.7" fill="#0a0a0a"/>
<rect x="328.60" y="362.41" width="4.3" height="1.5" fill="#8a8a8a"/>
<rect x="319.40" y="369.29" width="9.2" height="1.7" fill="#0a0a0a"/>
<rect x="328.60" y="369.39" width="4.3" height="1.5" fill="#8a8a8a"/>
<rect x="319.40" y="376.27" width="9.2" height="1.7" fill="#0a0a0a"/>
<rect x="328.60" y="376.37" width="4.3" height="1.5" fill="#8a8a8a"/>
<rect x="319.40" y="383.25" width="9.2" height="1.7" fill="#0a0a0a"/>
<rect x="328.60" y="383.35" width="4.3" height="1.5" fill="#8a8a8a"/>
<rect x="319.40" y="390.23" width="9.2" height="1.7" fill="#0a0a0a"/>
<rect x="328.60" y="390.33" width="4.3" height="1.5" fill="#8a8a8a"/>
<rect x="319.40" y="397.21" width="9.2" height="1.7" fill="#0a0a0a"/>
<rect x="328.60" y="397.31" width="4.3" height="1.5" fill="#8a8a8a"/>
<rect x="319.40" y="404.19" width="9.2" height="1.7" fill="#0a0a0a"/>
<rect x="328.60" y="404.29" width="4.3" height="1.5" fill="#8a8a8a"/>
<rect x="319.40" y="411.17" width="9.2" height="1.7" fill="#0a0a0a"/>
<rect x="328.60" y="411.27" width="4.3" height="1.5" fill="#8a8a8a"/>
<rect x="319.40" y="418.15" width="9.2" height="1.7" fill="#0a0a0a"/>
<rect x="328.60" y="418.25" width="4.3" height="1.5" fill="#8a8a8a"/>
<rect x="319.40" y="425.13" width="9.2" height="1.7" fill="#0a0a0a"/>
<rect x="328.60" y="425.23" width="4.3" height="1.5" fill="#8a8a8a"/>
<rect x="319.40" y="432.11" width="9.2" height="1.7" fill="#0a0a0a"/>
<rect x="328.60" y="432.21" width="4.3" height="1.5" fill="#8a8a8a"/>
<rect x="319.40" y="439.09" width="9.2" height="1.7" fill="#0a0a0a"/>
<rect x="328.60" y="439.19" width="4.3" height="1.5" fill="#8a8a8a"/>
<rect x="319.40" y="446.07" width="9.2" height="1.7" fill="#0a0a0a"/>
<rect x="328.60" y="446.17" width="4.3" height="1.5" fill="#8a8a8a"/>
<rect x="319.40" y="453.05" width="9.2" height="1.7" fill="#0a0a0a"/>
<rect x="328.60" y="453.15" width="4.3" height="1.5" fill="#8a8a8a"/>
<rect x="319.40" y="460.03" width="9.2" height="1.7" fill="#0a0a0a"/>
<rect x="328.60" y="460.13" width="4.3" height="1.5" fill="#8a8a8a"/>
<rect x="319.40" y="467.01" width="9.2" height="1.7" fill="#0a0a0a"/>
<rect x="328.60" y="467.11" width="4.3" height="1.5" fill="#8a8a8a"/>
<rect x="319.40" y="473.99" width="9.2" height="1.7" fill="#0a0a0a"/>
<rect x="328.60" y="474.09" width="4.3" height="1.5" fill="#8a8a8a"/>
<rect x="319.40" y="480.97" width="9.2" height="1.7" fill="#0a0a0a"/>
<rect x="328.60" y="481.07" width="4.3" height="1.5" fill="#8a8a8a"/>
<rect x="319.40" y="487.95" width="9.2" height="1.7" fill="#0a0a0a"/>
<rect x="328.60" y="488.05" width="4.3" height="1.5" fill="#8a8a8a"/>
<rect x="319.40" y="494.93" width="9.2" height="1.7" fill="#0a0a0a"/>
<rect x="328.60" y="495.03" width="4.3" height="1.5" fill="#8a8a8a"/>
<rect x="319.40" y="501.91" width="9.2" height="1.7" fill="#0a0a0a"/>
<rect x="328.60" y="502.01" width="4.3" height="1.5" fill="#8a8a8a"/>
<rect x="319.40" y="508.89" width="9.2" height="1.7" fill="#0a0a0a"/>
<rect x="328.60" y="508.99" width="4.3" height="1.5" fill="#8a8a8a"/>
<rect x="319.40" y="515.87" width="9.2" height="1.7" fill="#0a0a0a"/>
<rect x="328.60" y="515.97" width="4.3" height="1.5" fill="#8a8a8a"/>
<ellipse cx="325.90" cy="478.33" rx="4.85" ry="3.5" transform="rotate(-24 325.90 478.33)" fill="#000"/>
<ellipse cx="325.90" cy="516.72" rx="4.85" ry="3.5" transform="rotate(-24 325.90 516.72)" fill="#000"/>
<rect x="329.77" y="328.00" width="1.05" height="188.72" fill="#000"/>
<rect x="354.10" y="348.35" width="9.2" height="1.7" fill="#0a0a0a"/>
<rect x="363.30" y="348.45" width="4.3" height="1.5" fill="#8a8a8a"/>
<rect x="354.10" y="355.33" width="9.2" height="1.7" fill="#0a0a0a"/>
<rect x="363.30" y="355.43" width="4.3" height="1.5" fill="#8a8a8a"/>
<rect x="354.10" y="362.31" width="9.2" height="1.7" fill="#0a0a0a"/>
<rect x="363.30" y="362.41" width="4.3" height="1.5" fill="#8a8a8a"/>
<rect x="354.10" y="369.29" width="9.2" height="1.7" fill="#0a0a0a"/>
<rect x="363.30" y="369.39" width="4.3" height="1.5" fill="#8a8a8a"/>
<rect x="354.10" y="376.27" width="9.2" height="1.7" fill="#0a0a0a"/>
<rect x="363.30" y="376.37" width="4.3" height="1.5" fill="#8a8a8a"/>
<rect x="354.10" y="383.25" width="9.2" height="1.7" fill="#0a0a0a"/>
<rect x="363.30" y="383.35" width="4.3" height="1.5" fill="#8a8a8a"/>
<rect x="354.10" y="390.23" width="9.2" height="1.7" fill="#0a0a0a"/>
<rect x="363.30" y="390.33" width="4.3" height="1.5" fill="#8a8a8a"/>
<rect x="354.10" y="397.21" width="9.2" height="1.7" fill="#0a0a0a"/>
<rect x="363.30" y="397.31" width="4.3" height="1.5" fill="#8a8a8a"/>
<rect x="354.10" y="404.19" width="9.2" height="1.7" fill="#0a0a0a"/>
<rect x="363.30" y="404.29" width="4.3" height="1.5" fill="#8a8a8a"/>
<rect x="354.10" y="411.17" width="9.2" height="1.7" fill="#0a0a0a"/>
<rect x="363.30" y="411.27" width="4.3" height="1.5" fill="#8a8a8a"/>
<rect x="354.10" y="418.15" width="9.2" height="1.7" fill="#0a0a0a"/>
<rect x="363.30" y="418.25" width="4.3" height="1.5" fill="#8a8a8a"/>
<rect x="354.10" y="425.13" width="9.2" height="1.7" fill="#0a0a0a"/>
<rect x="363.30" y="425.23" width="4.3" height="1.5" fill="#8a8a8a"/>
<rect x="354.10" y="432.11" width="9.2" height="1.7" fill="#0a0a0a"/>
<rect x="363.30" y="432.21" width="4.3" height="1.5" fill="#8a8a8a"/>
<rect x="354.10" y="439.09" width="9.2" height="1.7" fill="#0a0a0a"/>
<rect x="363.30" y="439.19" width="4.3" height="1.5" fill="#8a8a8a"/>
<rect x="354.10" y="446.07" width="9.2" height="1.7" fill="#0a0a0a"/>
<rect x="363.30" y="446.17" width="4.3" height="1.5" fill="#8a8a8a"/>
<rect x="354.10" y="453.05" width="9.2" height="1.7" fill="#0a0a0a"/>
<rect x="363.30" y="453.15" width="4.3" height="1.5" fill="#8a8a8a"/>
<rect x="354.10" y="460.03" width="9.2" height="1.7" fill="#0a0a0a"/>
<rect x="363.30" y="460.13" width="4.3" height="1.5" fill="#8a8a8a"/>
<rect x="354.10" y="467.01" width="9.2" height="1.7" fill="#0a0a0a"/>
<rect x="363.30" y="467.11" width="4.3" height="1.5" fill="#8a8a8a"/>
<rect x="354.10" y="473.99" width="9.2" height="1.7" fill="#0a0a0a"/>
<rect x="363.30" y="474.09" width="4.3" height="1.5" fill="#8a8a8a"/>
<rect x="354.10" y="480.97" width="9.2" height="1.7" fill="#0a0a0a"/>
<rect x="363.30" y="481.07" width="4.3" height="1.5" fill="#8a8a8a"/>
<rect x="354.10" y="487.95" width="9.2" height="1.7" fill="#0a0a0a"/>
<rect x="363.30" y="488.05" width="4.3" height="1.5" fill="#8a8a8a"/>
<rect x="354.10" y="494.93" width="9.2" height="1.7" fill="#0a0a0a"/>
<rect x="363.30" y="495.03" width="4.3" height="1.5" fill="#8a8a8a"/>
<rect x="354.10" y="501.91" width="9.2" height="1.7" fill="#0a0a0a"/>
<rect x="363.30" y="502.01" width="4.3" height="1.5" fill="#8a8a8a"/>
<rect x="354.10" y="508.89" width="9.2" height="1.7" fill="#0a0a0a"/>
<rect x="363.30" y="508.99" width="4.3" height="1.5" fill="#8a8a8a"/>
<rect x="354.10" y="515.87" width="9.2" height="1.7" fill="#0a0a0a"/>
<rect x="363.30" y="515.97" width="4.3" height="1.5" fill="#8a8a8a"/>
<rect x="354.10" y="522.85" width="9.2" height="1.7" fill="#0a0a0a"/>
<rect x="363.30" y="522.95" width="4.3" height="1.5" fill="#8a8a8a"/>
<rect x="354.10" y="529.83" width="9.2" height="1.7" fill="#0a0a0a"/>
<rect x="363.30" y="529.93" width="4.3" height="1.5" fill="#8a8a8a"/>
<rect x="354.10" y="536.81" width="9.2" height="1.7" fill="#0a0a0a"/>
<rect x="363.30" y="536.91" width="4.3" height="1.5" fill="#8a8a8a"/>
<rect x="354.10" y="543.79" width="9.2" height="1.7" fill="#0a0a0a"/>
<rect x="363.30" y="543.89" width="4.3" height="1.5" fill="#8a8a8a"/>
<rect x="354.10" y="550.77" width="9.2" height="1.7" fill="#0a0a0a"/>
<rect x="363.30" y="550.87" width="4.3" height="1.5" fill="#8a8a8a"/>
<rect x="354.10" y="557.75" width="9.2" height="1.7" fill="#0a0a0a"/>
<rect x="363.30" y="557.85" width="4.3" height="1.5" fill="#8a8a8a"/>
<ellipse cx="360.60" cy="558.60" rx="4.85" ry="3.5" transform="rotate(-24 360.60 558.60)" fill="#000"/>
<rect x="364.48" y="328.00" width="1.05" height="230.60" fill="#000"/>
<rect x="347.40" y="549.80" width="1.25" height="19" fill="#000"/>
<rect x="350.60" y="548.40" width="1.25" height="19" fill="#000"/>
<polygon points="345.70,555.00 353.70,552.60 353.70,555.10 345.70,557.50" fill="#000"/>
<polygon points="345.70,561.80 353.70,559.40 353.70,561.90 345.70,564.30" fill="#000"/>
<rect x="364.90" y="348.35" width="9.2" height="1.7" fill="#0a0a0a"/>
<rect x="374.10" y="348.45" width="4.3" height="1.5" fill="#8a8a8a"/>
<rect x="364.90" y="355.33" width="9.2" height="1.7" fill="#0a0a0a"/>
<rect x="374.10" y="355.43" width="4.3" height="1.5" fill="#8a8a8a"/>
<rect x="364.90" y="362.31" width="9.2" height="1.7" fill="#0a0a0a"/>
<rect x="374.10" y="362.41" width="4.3" height="1.5" fill="#8a8a8a"/>
<rect x="364.90" y="369.29" width="9.2" height="1.7" fill="#0a0a0a"/>
<rect x="374.10" y="369.39" width="4.3" height="1.5" fill="#8a8a8a"/>
<rect x="364.90" y="376.27" width="9.2" height="1.7" fill="#0a0a0a"/>
<rect x="374.10" y="376.37" width="4.3" height="1.5" fill="#8a8a8a"/>
<rect x="364.90" y="383.25" width="9.2" height="1.7" fill="#0a0a0a"/>
<rect x="374.10" y="383.35" width="4.3" height="1.5" fill="#8a8a8a"/>
<rect x="364.90" y="390.23" width="9.2" height="1.7" fill="#0a0a0a"/>
<rect x="374.10" y="390.33" width="4.3" height="1.5" fill="#8a8a8a"/>
<rect x="364.90" y="397.21" width="9.2" height="1.7" fill="#0a0a0a"/>
<rect x="374.10" y="397.31" width="4.3" height="1.5" fill="#8a8a8a"/>
<rect x="364.90" y="404.19" width="9.2" height="1.7" fill="#0a0a0a"/>
<rect x="374.10" y="404.29" width="4.3" height="1.5" fill="#8a8a8a"/>
<rect x="364.90" y="411.17" width="9.2" height="1.7" fill="#0a0a0a"/>
<rect x="374.10" y="411.27" width="4.3" height="1.5" fill="#8a8a8a"/>
<ellipse cx="371.40" cy="415.51" rx="4.85" ry="3.5" transform="rotate(-24 371.40 415.51)" fill="#000"/>
<rect x="375.27" y="347.00" width="1.05" height="68.51" fill="#000"/>
<rect x="443.90" y="348.35" width="9.2" height="1.7" fill="#0a0a0a"/>
<rect x="453.10" y="348.45" width="4.3" height="1.5" fill="#8a8a8a"/>
<rect x="443.90" y="355.33" width="9.2" height="1.7" fill="#0a0a0a"/>
<rect x="453.10" y="355.43" width="4.3" height="1.5" fill="#8a8a8a"/>
<rect x="443.90" y="362.31" width="9.2" height="1.7" fill="#0a0a0a"/>
<rect x="453.10" y="362.41" width="4.3" height="1.5" fill="#8a8a8a"/>
<rect x="443.90" y="369.29" width="9.2" height="1.7" fill="#0a0a0a"/>
<rect x="453.10" y="369.39" width="4.3" height="1.5" fill="#8a8a8a"/>
<rect x="443.90" y="376.27" width="9.2" height="1.7" fill="#0a0a0a"/>
<rect x="453.10" y="376.37" width="4.3" height="1.5" fill="#8a8a8a"/>
<rect x="443.90" y="383.25" width="9.2" height="1.7" fill="#0a0a0a"/>
<rect x="453.10" y="383.35" width="4.3" height="1.5" fill="#8a8a8a"/>
<rect x="443.90" y="390.23" width="9.2" height="1.7" fill="#0a0a0a"/>
<rect x="453.10" y="390.33" width="4.3" height="1.5" fill="#8a8a8a"/>
<rect x="443.90" y="397.21" width="9.2" height="1.7" fill="#0a0a0a"/>
<rect x="453.10" y="397.31" width="4.3" height="1.5" fill="#8a8a8a"/>
<rect x="443.90" y="404.19" width="9.2" height="1.7" fill="#0a0a0a"/>
<rect x="453.10" y="404.29" width="4.3" height="1.5" fill="#8a8a8a"/>
<rect x="443.90" y="411.17" width="9.2" height="1.7" fill="#0a0a0a"/>
<rect x="453.10" y="411.27" width="4.3" height="1.5" fill="#8a8a8a"/>
<rect x="443.90" y="418.15" width="9.2" height="1.7" fill="#0a0a0a"/>
<rect x="453.10" y="418.25" width="4.3" height="1.5" fill="#8a8a8a"/>
<rect x="443.90" y="425.13" width="9.2" height="1.7" fill="#0a0a0a"/>
<rect x="453.10" y="425.23" width="4.3" height="1.5" fill="#8a8a8a"/>
<rect x="443.90" y="432.11" width="9.2" height="1.7" fill="#0a0a0a"/>
<rect x="453.10" y="432.21" width="4.3" height="1.5" fill="#8a8a8a"/>
<rect x="443.90" y="439.09" width="9.2" height="1.7" fill="#0a0a0a"/>
<rect x="453.10" y="439.19" width="4.3" height="1.5" fill="#8a8a8a"/>
<rect x="443.90" y="446.07" width="9.2" height="1.7" fill="#0a0a0a"/>
<rect x="453.10" y="446.17" width="4.3" height="1.5" fill="#8a8a8a"/>
<rect x="443.90" y="453.05" width="9.2" height="1.7" fill="#0a0a0a"/>
<rect x="453.10" y="453.15" width="4.3" height="1.5" fill="#8a8a8a"/>
<rect x="443.90" y="460.03" width="9.2" height="1.7" fill="#0a0a0a"/>
<rect x="453.10" y="460.13" width="4.3" height="1.5" fill="#8a8a8a"/>
<rect x="443.90" y="467.01" width="9.2" height="1.7" fill="#0a0a0a"/>
<rect x="453.10" y="467.11" width="4.3" height="1.5" fill="#8a8a8a"/>
<rect x="443.90" y="473.99" width="9.2" height="1.7" fill="#0a0a0a"/>
<rect x="453.10" y="474.09" width="4.3" height="1.5" fill="#8a8a8a"/>
<rect x="443.90" y="480.97" width="9.2" height="1.7" fill="#0a0a0a"/>
<rect x="453.10" y="481.07" width="4.3" height="1.5" fill="#8a8a8a"/>
<rect x="443.90" y="487.95" width="9.2" height="1.7" fill="#0a0a0a"/>
<rect x="453.10" y="488.05" width="4.3" height="1.5" fill="#8a8a8a"/>
<rect x="443.90" y="494.93" width="9.2" height="1.7" fill="#0a0a0a"/>
<rect x="453.10" y="495.03" width="4.3" height="1.5" fill="#8a8a8a"/>
<rect x="443.90" y="501.91" width="9.2" height="1.7" fill="#0a0a0a"/>
<rect x="453.10" y="502.01" width="4.3" height="1.5" fill="#8a8a8a"/>
<rect x="443.90" y="508.89" width="9.2" height="1.7" fill="#0a0a0a"/>
<rect x="453.10" y="508.99" width="4.3" height="1.5" fill="#8a8a8a"/>
<ellipse cx="450.40" cy="429.47" rx="4.85" ry="3.5" transform="rotate(-24 450.40 429.47)" fill="#000"/>
<ellipse cx="450.40" cy="509.74" rx="4.85" ry="3.5" transform="rotate(-24 450.40 509.74)" fill="#000"/>
<rect x="454.27" y="328.00" width="1.05" height="181.74" fill="#000"/>
<rect x="436.00" y="420.67" width="1.25" height="19" fill="#000"/>
<rect x="439.20" y="419.27" width="1.25" height="19" fill="#000"/>
<polygon points="434.30,425.87 442.30,423.47 442.30,425.97 434.30,428.37" fill="#000"/>
<polygon points="434.30,432.67 442.30,430.27 442.30,432.77 434.30,435.17" fill="#000"/>
<rect x="436.00" y="500.94" width="1.25" height="19" fill="#000"/>
<rect x="439.20" y="499.54" width="1.25" height="19" fill="#000"/>
<polygon points="434.30,506.14 442.30,503.74 442.30,506.24 434.30,508.64" fill="#000"/>
<polygon points="434.30,512.94 442.30,510.54 442.30,513.04 434.30,515.44" fill="#000"/>
<rect x="467.00" y="348.35" width="9.2" height="1.7" fill="#0a0a0a"/>
<rect x="476.20" y="348.45" width="4.3" height="1.5" fill="#8a8a8a"/>
<rect x="467.00" y="355.33" width="9.2" height="1.7" fill="#0a0a0a"/>
<rect x="476.20" y="355.43" width="4.3" height="1.5" fill="#8a8a8a"/>
<rect x="467.00" y="362.31" width="9.2" height="1.7" fill="#0a0a0a"/>
<rect x="476.20" y="362.41" width="4.3" height="1.5" fill="#8a8a8a"/>
<rect x="467.00" y="369.29" width="9.2" height="1.7" fill="#0a0a0a"/>
<rect x="476.20" y="369.39" width="4.3" height="1.5" fill="#8a8a8a"/>
<rect x="467.00" y="376.27" width="9.2" height="1.7" fill="#0a0a0a"/>
<rect x="476.20" y="376.37" width="4.3" height="1.5" fill="#8a8a8a"/>
<rect x="467.00" y="383.25" width="9.2" height="1.7" fill="#0a0a0a"/>
<rect x="476.20" y="383.35" width="4.3" height="1.5" fill="#8a8a8a"/>
<rect x="467.00" y="390.23" width="9.2" height="1.7" fill="#0a0a0a"/>
<rect x="476.20" y="390.33" width="4.3" height="1.5" fill="#8a8a8a"/>
<rect x="467.00" y="397.21" width="9.2" height="1.7" fill="#0a0a0a"/>
<rect x="476.20" y="397.31" width="4.3" height="1.5" fill="#8a8a8a"/>
<rect x="467.00" y="404.19" width="9.2" height="1.7" fill="#0a0a0a"/>
<rect x="476.20" y="404.29" width="4.3" height="1.5" fill="#8a8a8a"/>
<rect x="467.00" y="411.17" width="9.2" height="1.7" fill="#0a0a0a"/>
<rect x="476.20" y="411.27" width="4.3" height="1.5" fill="#8a8a8a"/>
<ellipse cx="473.50" cy="412.02" rx="4.85" ry="3.5" transform="rotate(-24 473.50 412.02)" fill="#000"/>
<rect x="477.38" y="328.00" width="1.05" height="84.02" fill="#000"/>
<rect x="494.60" y="348.35" width="9.2" height="1.7" fill="#0a0a0a"/>
<rect x="503.80" y="348.45" width="4.3" height="1.5" fill="#8a8a8a"/>
<rect x="494.60" y="355.33" width="9.2" height="1.7" fill="#0a0a0a"/>
<rect x="503.80" y="355.43" width="4.3" height="1.5" fill="#8a8a8a"/>
<rect x="494.60" y="362.31" width="9.2" height="1.7" fill="#0a0a0a"/>
<rect x="503.80" y="362.41" width="4.3" height="1.5" fill="#8a8a8a"/>
<rect x="494.60" y="369.29" width="9.2" height="1.7" fill="#0a0a0a"/>
<rect x="503.80" y="369.39" width="4.3" height="1.5" fill="#8a8a8a"/>
<rect x="494.60" y="376.27" width="9.2" height="1.7" fill="#0a0a0a"/>
<rect x="503.80" y="376.37" width="4.3" height="1.5" fill="#8a8a8a"/>
<rect x="494.60" y="383.25" width="9.2" height="1.7" fill="#0a0a0a"/>
<rect x="503.80" y="383.35" width="4.3" height="1.5" fill="#8a8a8a"/>
<rect x="494.60" y="390.23" width="9.2" height="1.7" fill="#0a0a0a"/>
<rect x="503.80" y="390.33" width="4.3" height="1.5" fill="#8a8a8a"/>
<rect x="494.60" y="397.21" width="9.2" height="1.7" fill="#0a0a0a"/>
<rect x="503.80" y="397.31" width="4.3" height="1.5" fill="#8a8a8a"/>
<rect x="494.60" y="404.19" width="9.2" height="1.7" fill="#0a0a0a"/>
<rect x="503.80" y="404.29" width="4.3" height="1.5" fill="#8a8a8a"/>
<rect x="494.60" y="411.17" width="9.2" height="1.7" fill="#0a0a0a"/>
<rect x="503.80" y="411.27" width="4.3" height="1.5" fill="#8a8a8a"/>
<rect x="494.60" y="418.15" width="9.2" height="1.7" fill="#0a0a0a"/>
<rect x="503.80" y="418.25" width="4.3" height="1.5" fill="#8a8a8a"/>
<rect x="494.60" y="425.13" width="9.2" height="1.7" fill="#0a0a0a"/>
<rect x="503.80" y="425.23" width="4.3" height="1.5" fill="#8a8a8a"/>
<rect x="494.60" y="432.11" width="9.2" height="1.7" fill="#0a0a0a"/>
<rect x="503.80" y="432.21" width="4.3" height="1.5" fill="#8a8a8a"/>
<rect x="494.60" y="439.09" width="9.2" height="1.7" fill="#0a0a0a"/>
<rect x="503.80" y="439.19" width="4.3" height="1.5" fill="#8a8a8a"/>
<rect x="494.60" y="446.07" width="9.2" height="1.7" fill="#0a0a0a"/>
<rect x="503.80" y="446.17" width="4.3" height="1.5" fill="#8a8a8a"/>
<rect x="494.60" y="453.05" width="9.2" height="1.7" fill="#0a0a0a"/>
<rect x="503.80" y="453.15" width="4.3" height="1.5" fill="#8a8a8a"/>
<rect x="494.60" y="460.03" width="9.2" height="1.7" fill="#0a0a0a"/>
<rect x="503.80" y="460.13" width="4.3" height="1.5" fill="#8a8a8a"/>
<rect x="494.60" y="467.01" width="9.2" height="1.7" fill="#0a0a0a"/>
<rect x="503.80" y="467.11" width="4.3" height="1.5" fill="#8a8a8a"/>
<rect x="494.60" y="473.99" width="9.2" height="1.7" fill="#0a0a0a"/>
<rect x="503.80" y="474.09" width="4.3" height="1.5" fill="#8a8a8a"/>
<rect x="494.60" y="480.97" width="9.2" height="1.7" fill="#0a0a0a"/>
<rect x="503.80" y="481.07" width="4.3" height="1.5" fill="#8a8a8a"/>
<rect x="494.60" y="487.95" width="9.2" height="1.7" fill="#0a0a0a"/>
<rect x="503.80" y="488.05" width="4.3" height="1.5" fill="#8a8a8a"/>
<rect x="494.60" y="494.93" width="9.2" height="1.7" fill="#0a0a0a"/>
<rect x="503.80" y="495.03" width="4.3" height="1.5" fill="#8a8a8a"/>
<rect x="494.60" y="501.91" width="9.2" height="1.7" fill="#0a0a0a"/>
<rect x="503.80" y="502.01" width="4.3" height="1.5" fill="#8a8a8a"/>
<rect x="494.60" y="508.89" width="9.2" height="1.7" fill="#0a0a0a"/>
<rect x="503.80" y="508.99" width="4.3" height="1.5" fill="#8a8a8a"/>
<rect x="494.60" y="515.87" width="9.2" height="1.7" fill="#0a0a0a"/>
<rect x="503.80" y="515.97" width="4.3" height="1.5" fill="#8a8a8a"/>
<rect x="494.60" y="522.85" width="9.2" height="1.7" fill="#0a0a0a"/>
<rect x="503.80" y="522.95" width="4.3" height="1.5" fill="#8a8a8a"/>
<rect x="494.60" y="529.83" width="9.2" height="1.7" fill="#0a0a0a"/>
<rect x="503.80" y="529.93" width="4.3" height="1.5" fill="#8a8a8a"/>
<rect x="494.60" y="536.81" width="9.2" height="1.7" fill="#0a0a0a"/>
<rect x="503.80" y="536.91" width="4.3" height="1.5" fill="#8a8a8a"/>
<rect x="494.60" y="543.79" width="9.2" height="1.7" fill="#0a0a0a"/>
<rect x="503.80" y="543.89" width="4.3" height="1.5" fill="#8a8a8a"/>
<rect x="494.60" y="550.77" width="9.2" height="1.7" fill="#0a0a0a"/>
<rect x="503.80" y="550.87" width="4.3" height="1.5" fill="#8a8a8a"/>
<rect x="494.60" y="557.75" width="9.2" height="1.7" fill="#0a0a0a"/>
<rect x="503.80" y="557.85" width="4.3" height="1.5" fill="#8a8a8a"/>
<ellipse cx="501.10" cy="398.06" rx="4.85" ry="3.5" transform="rotate(-24 501.10 398.06)" fill="#000"/>
<ellipse cx="501.10" cy="562.09" rx="4.85" ry="3.5" transform="rotate(-24 501.10 562.09)" fill="#000"/>
<rect x="504.98" y="318.00" width="1.05" height="244.09" fill="#000"/>
<rect x="543.50" y="348.35" width="9.2" height="1.7" fill="#0a0a0a"/>
<rect x="552.70" y="348.45" width="4.3" height="1.5" fill="#8a8a8a"/>
<rect x="543.50" y="355.33" width="9.2" height="1.7" fill="#0a0a0a"/>
<rect x="552.70" y="355.43" width="4.3" height="1.5" fill="#8a8a8a"/>
<rect x="543.50" y="362.31" width="9.2" height="1.7" fill="#0a0a0a"/>
<rect x="552.70" y="362.41" width="4.3" height="1.5" fill="#8a8a8a"/>
<rect x="543.50" y="369.29" width="9.2" height="1.7" fill="#0a0a0a"/>
<rect x="552.70" y="369.39" width="4.3" height="1.5" fill="#8a8a8a"/>
<rect x="543.50" y="376.27" width="9.2" height="1.7" fill="#0a0a0a"/>
<rect x="552.70" y="376.37" width="4.3" height="1.5" fill="#8a8a8a"/>
<rect x="543.50" y="383.25" width="9.2" height="1.7" fill="#0a0a0a"/>
<rect x="552.70" y="383.35" width="4.3" height="1.5" fill="#8a8a8a"/>
<rect x="543.50" y="390.23" width="9.2" height="1.7" fill="#0a0a0a"/>
<rect x="552.70" y="390.33" width="4.3" height="1.5" fill="#8a8a8a"/>
<rect x="543.50" y="397.21" width="9.2" height="1.7" fill="#0a0a0a"/>
<rect x="552.70" y="397.31" width="4.3" height="1.5" fill="#8a8a8a"/>
<rect x="543.50" y="404.19" width="9.2" height="1.7" fill="#0a0a0a"/>
<rect x="552.70" y="404.29" width="4.3" height="1.5" fill="#8a8a8a"/>
<rect x="543.50" y="411.17" width="9.2" height="1.7" fill="#0a0a0a"/>
<rect x="552.70" y="411.27" width="4.3" height="1.5" fill="#8a8a8a"/>
<rect x="543.50" y="418.15" width="9.2" height="1.7" fill="#0a0a0a"/>
<rect x="552.70" y="418.25" width="4.3" height="1.5" fill="#8a8a8a"/>
<rect x="543.50" y="425.13" width="9.2" height="1.7" fill="#0a0a0a"/>
<rect x="552.70" y="425.23" width="4.3" height="1.5" fill="#8a8a8a"/>
<ellipse cx="550.00" cy="370.14" rx="4.85" ry="3.5" transform="rotate(-24 550.00 370.14)" fill="#000"/>
<ellipse cx="550.00" cy="429.47" rx="4.85" ry="3.5" transform="rotate(-24 550.00 429.47)" fill="#000"/>
<rect x="553.88" y="328.00" width="1.05" height="101.47" fill="#000"/>
<rect x="538.10" y="419.07" width="1.3" height="15.8" fill="#000"/>
<rect x="541.80" y="423.87" width="1.3" height="16" fill="#000"/>
<polygon points="538.20,425.67 543.00,424.47 543.00,426.87 538.20,428.07" fill="#000"/>
<polygon points="538.20,432.67 543.00,431.47 543.00,433.87 538.20,435.07" fill="#000"/>
<rect x="592.50" y="348.35" width="9.2" height="1.7" fill="#0a0a0a"/>
<rect x="601.70" y="348.45" width="4.3" height="1.5" fill="#8a8a8a"/>
<rect x="592.50" y="355.33" width="9.2" height="1.7" fill="#0a0a0a"/>
<rect x="601.70" y="355.43" width="4.3" height="1.5" fill="#8a8a8a"/>
<rect x="592.50" y="362.31" width="9.2" height="1.7" fill="#0a0a0a"/>
<rect x="601.70" y="362.41" width="4.3" height="1.5" fill="#8a8a8a"/>
<rect x="592.50" y="369.29" width="9.2" height="1.7" fill="#0a0a0a"/>
<rect x="601.70" y="369.39" width="4.3" height="1.5" fill="#8a8a8a"/>
<rect x="592.50" y="376.27" width="9.2" height="1.7" fill="#0a0a0a"/>
<rect x="601.70" y="376.37" width="4.3" height="1.5" fill="#8a8a8a"/>
<rect x="592.50" y="383.25" width="9.2" height="1.7" fill="#0a0a0a"/>
<rect x="601.70" y="383.35" width="4.3" height="1.5" fill="#8a8a8a"/>
<rect x="592.50" y="390.23" width="9.2" height="1.7" fill="#0a0a0a"/>
<rect x="601.70" y="390.33" width="4.3" height="1.5" fill="#8a8a8a"/>
<rect x="592.50" y="397.21" width="9.2" height="1.7" fill="#0a0a0a"/>
<rect x="601.70" y="397.31" width="4.3" height="1.5" fill="#8a8a8a"/>
<rect x="592.50" y="404.19" width="9.2" height="1.7" fill="#0a0a0a"/>
<rect x="601.70" y="404.29" width="4.3" height="1.5" fill="#8a8a8a"/>
<rect x="592.50" y="411.17" width="9.2" height="1.7" fill="#0a0a0a"/>
<rect x="601.70" y="411.27" width="4.3" height="1.5" fill="#8a8a8a"/>
<rect x="592.50" y="418.15" width="9.2" height="1.7" fill="#0a0a0a"/>
<rect x="601.70" y="418.25" width="4.3" height="1.5" fill="#8a8a8a"/>
<rect x="592.50" y="425.13" width="9.2" height="1.7" fill="#0a0a0a"/>
<rect x="601.70" y="425.23" width="4.3" height="1.5" fill="#8a8a8a"/>
<rect x="592.50" y="432.11" width="9.2" height="1.7" fill="#0a0a0a"/>
<rect x="601.70" y="432.21" width="4.3" height="1.5" fill="#8a8a8a"/>
<rect x="592.50" y="439.09" width="9.2" height="1.7" fill="#0a0a0a"/>
<rect x="601.70" y="439.19" width="4.3" height="1.5" fill="#8a8a8a"/>
<rect x="592.50" y="446.07" width="9.2" height="1.7" fill="#0a0a0a"/>
<rect x="601.70" y="446.17" width="4.3" height="1.5" fill="#8a8a8a"/>
<rect x="592.50" y="453.05" width="9.2" height="1.7" fill="#0a0a0a"/>
<rect x="601.70" y="453.15" width="4.3" height="1.5" fill="#8a8a8a"/>
<rect x="592.50" y="460.03" width="9.2" height="1.7" fill="#0a0a0a"/>
<rect x="601.70" y="460.13" width="4.3" height="1.5" fill="#8a8a8a"/>
<rect x="592.50" y="467.01" width="9.2" height="1.7" fill="#0a0a0a"/>
<rect x="601.70" y="467.11" width="4.3" height="1.5" fill="#8a8a8a"/>
<rect x="592.50" y="473.99" width="9.2" height="1.7" fill="#0a0a0a"/>
<rect x="601.70" y="474.09" width="4.3" height="1.5" fill="#8a8a8a"/>
<rect x="592.50" y="480.97" width="9.2" height="1.7" fill="#0a0a0a"/>
<rect x="601.70" y="481.07" width="4.3" height="1.5" fill="#8a8a8a"/>
<rect x="592.50" y="487.95" width="9.2" height="1.7" fill="#0a0a0a"/>
<rect x="601.70" y="488.05" width="4.3" height="1.5" fill="#8a8a8a"/>
<rect x="592.50" y="494.93" width="9.2" height="1.7" fill="#0a0a0a"/>
<rect x="601.70" y="495.03" width="4.3" height="1.5" fill="#8a8a8a"/>
<rect x="592.50" y="501.91" width="9.2" height="1.7" fill="#0a0a0a"/>
<rect x="601.70" y="502.01" width="4.3" height="1.5" fill="#8a8a8a"/>
<rect x="592.50" y="508.89" width="9.2" height="1.7" fill="#0a0a0a"/>
<rect x="601.70" y="508.99" width="4.3" height="1.5" fill="#8a8a8a"/>
<ellipse cx="599.00" cy="349.20" rx="4.85" ry="3.5" transform="rotate(-24 599.00 349.20)" fill="#000"/>
<ellipse cx="599.00" cy="509.74" rx="4.85" ry="3.5" transform="rotate(-24 599.00 509.74)" fill="#000"/>
<rect x="602.88" y="325.00" width="1.05" height="184.74" fill="#000"/>
<rect x="585.80" y="340.40" width="1.25" height="19" fill="#000"/>
<rect x="589.00" y="339.00" width="1.25" height="19" fill="#000"/>
<polygon points="584.10,345.60 592.10,343.20 592.10,345.70 584.10,348.10" fill="#000"/>
<polygon points="584.10,352.40 592.10,350.00 592.10,352.50 584.10,354.90" fill="#000"/>
<rect x="616.50" y="348.35" width="9.2" height="1.7" fill="#0a0a0a"/>
<rect x="625.70" y="348.45" width="4.3" height="1.5" fill="#8a8a8a"/>
<rect x="616.50" y="355.33" width="9.2" height="1.7" fill="#0a0a0a"/>
<rect x="625.70" y="355.43" width="4.3" height="1.5" fill="#8a8a8a"/>
<rect x="616.50" y="362.31" width="9.2" height="1.7" fill="#0a0a0a"/>
<rect x="625.70" y="362.41" width="4.3" height="1.5" fill="#8a8a8a"/>
<rect x="616.50" y="369.29" width="9.2" height="1.7" fill="#0a0a0a"/>
<rect x="625.70" y="369.39" width="4.3" height="1.5" fill="#8a8a8a"/>
<rect x="616.50" y="376.27" width="9.2" height="1.7" fill="#0a0a0a"/>
<rect x="625.70" y="376.37" width="4.3" height="1.5" fill="#8a8a8a"/>
<rect x="616.50" y="383.25" width="9.2" height="1.7" fill="#0a0a0a"/>
<rect x="625.70" y="383.35" width="4.3" height="1.5" fill="#8a8a8a"/>
<rect x="616.50" y="390.23" width="9.2" height="1.7" fill="#0a0a0a"/>
<rect x="625.70" y="390.33" width="4.3" height="1.5" fill="#8a8a8a"/>
<rect x="616.50" y="397.21" width="9.2" height="1.7" fill="#0a0a0a"/>
<rect x="625.70" y="397.31" width="4.3" height="1.5" fill="#8a8a8a"/>
<rect x="616.50" y="404.19" width="9.2" height="1.7" fill="#0a0a0a"/>
<rect x="625.70" y="404.29" width="4.3" height="1.5" fill="#8a8a8a"/>
<rect x="616.50" y="411.17" width="9.2" height="1.7" fill="#0a0a0a"/>
<rect x="625.70" y="411.27" width="4.3" height="1.5" fill="#8a8a8a"/>
<rect x="616.50" y="418.15" width="9.2" height="1.7" fill="#0a0a0a"/>
<rect x="625.70" y="418.25" width="4.3" height="1.5" fill="#8a8a8a"/>
<rect x="616.50" y="425.13" width="9.2" height="1.7" fill="#0a0a0a"/>
<rect x="625.70" y="425.23" width="4.3" height="1.5" fill="#8a8a8a"/>
<rect x="616.50" y="432.11" width="9.2" height="1.7" fill="#0a0a0a"/>
<rect x="625.70" y="432.21" width="4.3" height="1.5" fill="#8a8a8a"/>
<rect x="616.50" y="439.09" width="9.2" height="1.7" fill="#0a0a0a"/>
<rect x="625.70" y="439.19" width="4.3" height="1.5" fill="#8a8a8a"/>
<rect x="616.50" y="446.07" width="9.2" height="1.7" fill="#0a0a0a"/>
<rect x="625.70" y="446.17" width="4.3" height="1.5" fill="#8a8a8a"/>
<rect x="616.50" y="453.05" width="9.2" height="1.7" fill="#0a0a0a"/>
<rect x="625.70" y="453.15" width="4.3" height="1.5" fill="#8a8a8a"/>
<rect x="616.50" y="460.03" width="9.2" height="1.7" fill="#0a0a0a"/>
<rect x="625.70" y="460.13" width="4.3" height="1.5" fill="#8a8a8a"/>
<rect x="616.50" y="467.01" width="9.2" height="1.7" fill="#0a0a0a"/>
<rect x="625.70" y="467.11" width="4.3" height="1.5" fill="#8a8a8a"/>
<ellipse cx="623.00" cy="359.67" rx="4.85" ry="3.5" transform="rotate(-24 623.00 359.67)" fill="#000"/>
<ellipse cx="623.00" cy="377.12" rx="4.85" ry="3.5" transform="rotate(-24 623.00 377.12)" fill="#000"/>
<ellipse cx="623.00" cy="471.35" rx="4.85" ry="3.5" transform="rotate(-24 623.00 471.35)" fill="#000"/>
<rect x="626.88" y="329.00" width="1.05" height="142.35" fill="#000"/>
<rect x="609.90" y="350.87" width="1.25" height="19" fill="#000"/>
<rect x="613.10" y="349.47" width="1.25" height="19" fill="#000"/>
<polygon points="608.20,356.07 616.20,353.67 616.20,356.17 608.20,358.57" fill="#000"/>
<polygon points="608.20,362.87 616.20,360.47 616.20,362.97 608.20,365.37" fill="#000"/>
<rect x="609.90" y="462.55" width="1.25" height="19" fill="#000"/>
<rect x="613.10" y="461.15" width="1.25" height="19" fill="#000"/>
<polygon points="608.20,467.75 616.20,465.35 616.20,467.85 608.20,470.25" fill="#000"/>
<polygon points="608.20,474.55 616.20,472.15 616.20,474.65 608.20,477.05" fill="#000"/>
<rect x="660.30" y="348.35" width="9.2" height="1.7" fill="#0a0a0a"/>
<rect x="669.50" y="348.45" width="4.3" height="1.5" fill="#8a8a8a"/>
<rect x="660.30" y="355.33" width="9.2" height="1.7" fill="#0a0a0a"/>
<rect x="669.50" y="355.43" width="4.3" height="1.5" fill="#8a8a8a"/>
<rect x="660.30" y="362.31" width="9.2" height="1.7" fill="#0a0a0a"/>
<rect x="669.50" y="362.41" width="4.3" height="1.5" fill="#8a8a8a"/>
<rect x="660.30" y="369.29" width="9.2" height="1.7" fill="#0a0a0a"/>
<rect x="669.50" y="369.39" width="4.3" height="1.5" fill="#8a8a8a"/>
<rect x="660.30" y="376.27" width="9.2" height="1.7" fill="#0a0a0a"/>
<rect x="669.50" y="376.37" width="4.3" height="1.5" fill="#8a8a8a"/>
<rect x="660.30" y="383.25" width="9.2" height="1.7" fill="#0a0a0a"/>
<rect x="669.50" y="383.35" width="4.3" height="1.5" fill="#8a8a8a"/>
<rect x="660.30" y="390.23" width="9.2" height="1.7" fill="#0a0a0a"/>
<rect x="669.50" y="390.33" width="4.3" height="1.5" fill="#8a8a8a"/>
<rect x="660.30" y="397.21" width="9.2" height="1.7" fill="#0a0a0a"/>
<rect x="669.50" y="397.31" width="4.3" height="1.5" fill="#8a8a8a"/>
<rect x="660.30" y="404.19" width="9.2" height="1.7" fill="#0a0a0a"/>
<rect x="669.50" y="404.29" width="4.3" height="1.5" fill="#8a8a8a"/>
<rect x="660.30" y="411.17" width="9.2" height="1.7" fill="#0a0a0a"/>
<rect x="669.50" y="411.27" width="4.3" height="1.5" fill="#8a8a8a"/>
<rect x="660.30" y="418.15" width="9.2" height="1.7" fill="#0a0a0a"/>
<rect x="669.50" y="418.25" width="4.3" height="1.5" fill="#8a8a8a"/>
<rect x="660.30" y="425.13" width="9.2" height="1.7" fill="#0a0a0a"/>
<rect x="669.50" y="425.23" width="4.3" height="1.5" fill="#8a8a8a"/>
<rect x="660.30" y="432.11" width="9.2" height="1.7" fill="#0a0a0a"/>
<rect x="669.50" y="432.21" width="4.3" height="1.5" fill="#8a8a8a"/>
<rect x="660.30" y="439.09" width="9.2" height="1.7" fill="#0a0a0a"/>
<rect x="669.50" y="439.19" width="4.3" height="1.5" fill="#8a8a8a"/>
<rect x="660.30" y="446.07" width="9.2" height="1.7" fill="#0a0a0a"/>
<rect x="669.50" y="446.17" width="4.3" height="1.5" fill="#8a8a8a"/>
<rect x="660.30" y="453.05" width="9.2" height="1.7" fill="#0a0a0a"/>
<rect x="669.50" y="453.15" width="4.3" height="1.5" fill="#8a8a8a"/>
<rect x="660.30" y="460.03" width="9.2" height="1.7" fill="#0a0a0a"/>
<rect x="669.50" y="460.13" width="4.3" height="1.5" fill="#8a8a8a"/>
<rect x="660.30" y="467.01" width="9.2" height="1.7" fill="#0a0a0a"/>
<rect x="669.50" y="467.11" width="4.3" height="1.5" fill="#8a8a8a"/>
<rect x="660.30" y="473.99" width="9.2" height="1.7" fill="#0a0a0a"/>
<rect x="669.50" y="474.09" width="4.3" height="1.5" fill="#8a8a8a"/>
<rect x="660.30" y="480.97" width="9.2" height="1.7" fill="#0a0a0a"/>
<rect x="669.50" y="481.07" width="4.3" height="1.5" fill="#8a8a8a"/>
<rect x="660.30" y="487.95" width="9.2" height="1.7" fill="#0a0a0a"/>
<rect x="669.50" y="488.05" width="4.3" height="1.5" fill="#8a8a8a"/>
<rect x="660.30" y="494.93" width="9.2" height="1.7" fill="#0a0a0a"/>
<rect x="669.50" y="495.03" width="4.3" height="1.5" fill="#8a8a8a"/>
<rect x="660.30" y="501.91" width="9.2" height="1.7" fill="#0a0a0a"/>
<rect x="669.50" y="502.01" width="4.3" height="1.5" fill="#8a8a8a"/>
<rect x="660.30" y="508.89" width="9.2" height="1.7" fill="#0a0a0a"/>
<rect x="669.50" y="508.99" width="4.3" height="1.5" fill="#8a8a8a"/>
<rect x="660.30" y="515.87" width="9.2" height="1.7" fill="#0a0a0a"/>
<rect x="669.50" y="515.97" width="4.3" height="1.5" fill="#8a8a8a"/>
<rect x="660.30" y="522.85" width="9.2" height="1.7" fill="#0a0a0a"/>
<rect x="669.50" y="522.95" width="4.3" height="1.5" fill="#8a8a8a"/>
<rect x="660.30" y="529.83" width="9.2" height="1.7" fill="#0a0a0a"/>
<rect x="669.50" y="529.93" width="4.3" height="1.5" fill="#8a8a8a"/>
<rect x="660.30" y="536.81" width="9.2" height="1.7" fill="#0a0a0a"/>
<rect x="669.50" y="536.91" width="4.3" height="1.5" fill="#8a8a8a"/>
<rect x="660.30" y="543.79" width="9.2" height="1.7" fill="#0a0a0a"/>
<rect x="669.50" y="543.89" width="4.3" height="1.5" fill="#8a8a8a"/>
<rect x="660.30" y="550.77" width="9.2" height="1.7" fill="#0a0a0a"/>
<rect x="669.50" y="550.87" width="4.3" height="1.5" fill="#8a8a8a"/>
<rect x="660.30" y="557.75" width="9.2" height="1.7" fill="#0a0a0a"/>
<rect x="669.50" y="557.85" width="4.3" height="1.5" fill="#8a8a8a"/>
<rect x="660.30" y="564.73" width="9.2" height="1.7" fill="#0a0a0a"/>
<rect x="669.50" y="564.83" width="4.3" height="1.5" fill="#8a8a8a"/>
<rect x="660.30" y="571.71" width="9.2" height="1.7" fill="#0a0a0a"/>
<rect x="669.50" y="571.81" width="4.3" height="1.5" fill="#8a8a8a"/>
<rect x="660.30" y="578.69" width="9.2" height="1.7" fill="#0a0a0a"/>
<rect x="669.50" y="578.79" width="4.3" height="1.5" fill="#8a8a8a"/>
<rect x="660.30" y="585.67" width="9.2" height="1.7" fill="#0a0a0a"/>
<rect x="669.50" y="585.77" width="4.3" height="1.5" fill="#8a8a8a"/>
<rect x="660.30" y="592.65" width="9.2" height="1.7" fill="#0a0a0a"/>
<rect x="669.50" y="592.75" width="4.3" height="1.5" fill="#8a8a8a"/>
<rect x="660.30" y="599.63" width="9.2" height="1.7" fill="#0a0a0a"/>
<rect x="669.50" y="599.73" width="4.3" height="1.5" fill="#8a8a8a"/>
<ellipse cx="666.80" cy="603.97" rx="4.85" ry="3.5" transform="rotate(-24 666.80 603.97)" fill="#000"/>
<rect x="670.67" y="328.00" width="1.05" height="275.97" fill="#000"/>
<rect x="694.10" y="348.35" width="9.2" height="1.7" fill="#0a0a0a"/>
<rect x="703.30" y="348.45" width="4.3" height="1.5" fill="#8a8a8a"/>
<rect x="694.10" y="355.33" width="9.2" height="1.7" fill="#0a0a0a"/>
<rect x="703.30" y="355.43" width="4.3" height="1.5" fill="#8a8a8a"/>
<rect x="694.10" y="362.31" width="9.2" height="1.7" fill="#0a0a0a"/>
<rect x="703.30" y="362.41" width="4.3" height="1.5" fill="#8a8a8a"/>
<rect x="694.10" y="369.29" width="9.2" height="1.7" fill="#0a0a0a"/>
<rect x="703.30" y="369.39" width="4.3" height="1.5" fill="#8a8a8a"/>
<rect x="694.10" y="376.27" width="9.2" height="1.7" fill="#0a0a0a"/>
<rect x="703.30" y="376.37" width="4.3" height="1.5" fill="#8a8a8a"/>
<rect x="694.10" y="383.25" width="9.2" height="1.7" fill="#0a0a0a"/>
<rect x="703.30" y="383.35" width="4.3" height="1.5" fill="#8a8a8a"/>
<ellipse cx="700.60" cy="342.22" rx="4.85" ry="3.5" transform="rotate(-24 700.60 342.22)" fill="#000"/>
<ellipse cx="700.60" cy="387.59" rx="4.85" ry="3.5" transform="rotate(-24 700.60 387.59)" fill="#000"/>
<rect x="704.48" y="318.00" width="1.05" height="69.59" fill="#000"/>
<rect x="687.20" y="378.79" width="1.25" height="19" fill="#000"/>
<rect x="690.40" y="377.39" width="1.25" height="19" fill="#000"/>
<polygon points="685.50,383.99 693.50,381.59 693.50,384.09 685.50,386.49" fill="#000"/>
<polygon points="685.50,390.79 693.50,388.39 693.50,390.89 685.50,393.29" fill="#000"/>
<rect x="728.80" y="348.35" width="9.2" height="1.7" fill="#0a0a0a"/>
<rect x="738.00" y="348.45" width="4.3" height="1.5" fill="#8a8a8a"/>
<rect x="728.80" y="355.33" width="9.2" height="1.7" fill="#0a0a0a"/>
<rect x="738.00" y="355.43" width="4.3" height="1.5" fill="#8a8a8a"/>
<rect x="728.80" y="362.31" width="9.2" height="1.7" fill="#0a0a0a"/>
<rect x="738.00" y="362.41" width="4.3" height="1.5" fill="#8a8a8a"/>
<rect x="728.80" y="369.29" width="9.2" height="1.7" fill="#0a0a0a"/>
<rect x="738.00" y="369.39" width="4.3" height="1.5" fill="#8a8a8a"/>
<rect x="728.80" y="376.27" width="9.2" height="1.7" fill="#0a0a0a"/>
<rect x="738.00" y="376.37" width="4.3" height="1.5" fill="#8a8a8a"/>
<rect x="728.80" y="383.25" width="9.2" height="1.7" fill="#0a0a0a"/>
<rect x="738.00" y="383.35" width="4.3" height="1.5" fill="#8a8a8a"/>
<rect x="728.80" y="390.23" width="9.2" height="1.7" fill="#0a0a0a"/>
<rect x="738.00" y="390.33" width="4.3" height="1.5" fill="#8a8a8a"/>
<rect x="728.80" y="397.21" width="9.2" height="1.7" fill="#0a0a0a"/>
<rect x="738.00" y="397.31" width="4.3" height="1.5" fill="#8a8a8a"/>
<rect x="728.80" y="404.19" width="9.2" height="1.7" fill="#0a0a0a"/>
<rect x="738.00" y="404.29" width="4.3" height="1.5" fill="#8a8a8a"/>
<rect x="728.80" y="411.17" width="9.2" height="1.7" fill="#0a0a0a"/>
<rect x="738.00" y="411.27" width="4.3" height="1.5" fill="#8a8a8a"/>
<rect x="728.80" y="418.15" width="9.2" height="1.7" fill="#0a0a0a"/>
<rect x="738.00" y="418.25" width="4.3" height="1.5" fill="#8a8a8a"/>
<rect x="728.80" y="425.13" width="9.2" height="1.7" fill="#0a0a0a"/>
<rect x="738.00" y="425.23" width="4.3" height="1.5" fill="#8a8a8a"/>
<rect x="728.80" y="432.11" width="9.2" height="1.7" fill="#0a0a0a"/>
<rect x="738.00" y="432.21" width="4.3" height="1.5" fill="#8a8a8a"/>
<rect x="728.80" y="439.09" width="9.2" height="1.7" fill="#0a0a0a"/>
<rect x="738.00" y="439.19" width="4.3" height="1.5" fill="#8a8a8a"/>
<rect x="728.80" y="446.07" width="9.2" height="1.7" fill="#0a0a0a"/>
<rect x="738.00" y="446.17" width="4.3" height="1.5" fill="#8a8a8a"/>
<rect x="728.80" y="453.05" width="9.2" height="1.7" fill="#0a0a0a"/>
<rect x="738.00" y="453.15" width="4.3" height="1.5" fill="#8a8a8a"/>
<rect x="728.80" y="460.03" width="9.2" height="1.7" fill="#0a0a0a"/>
<rect x="738.00" y="460.13" width="4.3" height="1.5" fill="#8a8a8a"/>
<rect x="728.80" y="467.01" width="9.2" height="1.7" fill="#0a0a0a"/>
<rect x="738.00" y="467.11" width="4.3" height="1.5" fill="#8a8a8a"/>
<rect x="728.80" y="473.99" width="9.2" height="1.7" fill="#0a0a0a"/>
<rect x="738.00" y="474.09" width="4.3" height="1.5" fill="#8a8a8a"/>
<rect x="728.80" y="480.97" width="9.2" height="1.7" fill="#0a0a0a"/>
<rect x="738.00" y="481.07" width="4.3" height="1.5" fill="#8a8a8a"/>
<rect x="728.80" y="487.95" width="9.2" height="1.7" fill="#0a0a0a"/>
<rect x="738.00" y="488.05" width="4.3" height="1.5" fill="#8a8a8a"/>
<rect x="728.80" y="494.93" width="9.2" height="1.7" fill="#0a0a0a"/>
<rect x="738.00" y="495.03" width="4.3" height="1.5" fill="#8a8a8a"/>
<rect x="728.80" y="501.91" width="9.2" height="1.7" fill="#0a0a0a"/>
<rect x="738.00" y="502.01" width="4.3" height="1.5" fill="#8a8a8a"/>
<rect x="728.80" y="508.89" width="9.2" height="1.7" fill="#0a0a0a"/>
<rect x="738.00" y="508.99" width="4.3" height="1.5" fill="#8a8a8a"/>
<rect x="728.80" y="515.87" width="9.2" height="1.7" fill="#0a0a0a"/>
<rect x="738.00" y="515.97" width="4.3" height="1.5" fill="#8a8a8a"/>
<rect x="728.80" y="522.85" width="9.2" height="1.7" fill="#0a0a0a"/>
<rect x="738.00" y="522.95" width="4.3" height="1.5" fill="#8a8a8a"/>
<rect x="728.80" y="529.83" width="9.2" height="1.7" fill="#0a0a0a"/>
<rect x="738.00" y="529.93" width="4.3" height="1.5" fill="#8a8a8a"/>
<rect x="728.80" y="536.81" width="9.2" height="1.7" fill="#0a0a0a"/>
<rect x="738.00" y="536.91" width="4.3" height="1.5" fill="#8a8a8a"/>
<rect x="728.80" y="543.79" width="9.2" height="1.7" fill="#0a0a0a"/>
<rect x="738.00" y="543.89" width="4.3" height="1.5" fill="#8a8a8a"/>
<rect x="728.80" y="550.77" width="9.2" height="1.7" fill="#0a0a0a"/>
<rect x="738.00" y="550.87" width="4.3" height="1.5" fill="#8a8a8a"/>
<rect x="728.80" y="557.75" width="9.2" height="1.7" fill="#0a0a0a"/>
<rect x="738.00" y="557.85" width="4.3" height="1.5" fill="#8a8a8a"/>
<rect x="728.80" y="564.73" width="9.2" height="1.7" fill="#0a0a0a"/>
<rect x="738.00" y="564.83" width="4.3" height="1.5" fill="#8a8a8a"/>
<rect x="728.80" y="571.71" width="9.2" height="1.7" fill="#0a0a0a"/>
<rect x="738.00" y="571.81" width="4.3" height="1.5" fill="#8a8a8a"/>
<rect x="728.80" y="578.69" width="9.2" height="1.7" fill="#0a0a0a"/>
<rect x="738.00" y="578.79" width="4.3" height="1.5" fill="#8a8a8a"/>
<rect x="728.80" y="585.67" width="9.2" height="1.7" fill="#0a0a0a"/>
<rect x="738.00" y="585.77" width="4.3" height="1.5" fill="#8a8a8a"/>
<rect x="728.80" y="592.65" width="9.2" height="1.7" fill="#0a0a0a"/>
<rect x="738.00" y="592.75" width="4.3" height="1.5" fill="#8a8a8a"/>
<rect x="728.80" y="599.63" width="9.2" height="1.7" fill="#0a0a0a"/>
<rect x="738.00" y="599.73" width="4.3" height="1.5" fill="#8a8a8a"/>
<ellipse cx="735.30" cy="600.48" rx="4.85" ry="3.5" transform="rotate(-24 735.30 600.48)" fill="#000"/>
<rect x="739.17" y="328.00" width="1.05" height="272.48" fill="#000"/>
<rect x="775.00" y="348.35" width="9.2" height="1.7" fill="#0a0a0a"/>
<rect x="784.20" y="348.45" width="4.3" height="1.5" fill="#8a8a8a"/>
<rect x="775.00" y="355.33" width="9.2" height="1.7" fill="#0a0a0a"/>
<rect x="784.20" y="355.43" width="4.3" height="1.5" fill="#8a8a8a"/>
<rect x="775.00" y="362.31" width="9.2" height="1.7" fill="#0a0a0a"/>
<rect x="784.20" y="362.41" width="4.3" height="1.5" fill="#8a8a8a"/>
<rect x="775.00" y="369.29" width="9.2" height="1.7" fill="#0a0a0a"/>
<rect x="784.20" y="369.39" width="4.3" height="1.5" fill="#8a8a8a"/>
<rect x="775.00" y="376.27" width="9.2" height="1.7" fill="#0a0a0a"/>
<rect x="784.20" y="376.37" width="4.3" height="1.5" fill="#8a8a8a"/>
<rect x="775.00" y="383.25" width="9.2" height="1.7" fill="#0a0a0a"/>
<rect x="784.20" y="383.35" width="4.3" height="1.5" fill="#8a8a8a"/>
<rect x="775.00" y="390.23" width="9.2" height="1.7" fill="#0a0a0a"/>
<rect x="784.20" y="390.33" width="4.3" height="1.5" fill="#8a8a8a"/>
<rect x="775.00" y="397.21" width="9.2" height="1.7" fill="#0a0a0a"/>
<rect x="784.20" y="397.31" width="4.3" height="1.5" fill="#8a8a8a"/>
<rect x="775.00" y="404.19" width="9.2" height="1.7" fill="#0a0a0a"/>
<rect x="784.20" y="404.29" width="4.3" height="1.5" fill="#8a8a8a"/>
<rect x="775.00" y="411.17" width="9.2" height="1.7" fill="#0a0a0a"/>
<rect x="784.20" y="411.27" width="4.3" height="1.5" fill="#8a8a8a"/>
<rect x="775.00" y="418.15" width="9.2" height="1.7" fill="#0a0a0a"/>
<rect x="784.20" y="418.25" width="4.3" height="1.5" fill="#8a8a8a"/>
<rect x="775.00" y="425.13" width="9.2" height="1.7" fill="#0a0a0a"/>
<rect x="784.20" y="425.23" width="4.3" height="1.5" fill="#8a8a8a"/>
<rect x="775.00" y="432.11" width="9.2" height="1.7" fill="#0a0a0a"/>
<rect x="784.20" y="432.21" width="4.3" height="1.5" fill="#8a8a8a"/>
<rect x="775.00" y="439.09" width="9.2" height="1.7" fill="#0a0a0a"/>
<rect x="784.20" y="439.19" width="4.3" height="1.5" fill="#8a8a8a"/>
<rect x="775.00" y="446.07" width="9.2" height="1.7" fill="#0a0a0a"/>
<rect x="784.20" y="446.17" width="4.3" height="1.5" fill="#8a8a8a"/>
<rect x="775.00" y="453.05" width="9.2" height="1.7" fill="#0a0a0a"/>
<rect x="784.20" y="453.15" width="4.3" height="1.5" fill="#8a8a8a"/>
<rect x="775.00" y="460.03" width="9.2" height="1.7" fill="#0a0a0a"/>
<rect x="784.20" y="460.13" width="4.3" height="1.5" fill="#8a8a8a"/>
<rect x="775.00" y="467.01" width="9.2" height="1.7" fill="#0a0a0a"/>
<rect x="784.20" y="467.11" width="4.3" height="1.5" fill="#8a8a8a"/>
<rect x="775.00" y="473.99" width="9.2" height="1.7" fill="#0a0a0a"/>
<rect x="784.20" y="474.09" width="4.3" height="1.5" fill="#8a8a8a"/>
<rect x="775.00" y="480.97" width="9.2" height="1.7" fill="#0a0a0a"/>
<rect x="784.20" y="481.07" width="4.3" height="1.5" fill="#8a8a8a"/>
<rect x="775.00" y="487.95" width="9.2" height="1.7" fill="#0a0a0a"/>
<rect x="784.20" y="488.05" width="4.3" height="1.5" fill="#8a8a8a"/>
<rect x="775.00" y="494.93" width="9.2" height="1.7" fill="#0a0a0a"/>
<rect x="784.20" y="495.03" width="4.3" height="1.5" fill="#8a8a8a"/>
<rect x="775.00" y="501.91" width="9.2" height="1.7" fill="#0a0a0a"/>
<rect x="784.20" y="502.01" width="4.3" height="1.5" fill="#8a8a8a"/>
<rect x="775.00" y="508.89" width="9.2" height="1.7" fill="#0a0a0a"/>
<rect x="784.20" y="508.99" width="4.3" height="1.5" fill="#8a8a8a"/>
<rect x="775.00" y="515.87" width="9.2" height="1.7" fill="#0a0a0a"/>
<rect x="784.20" y="515.97" width="4.3" height="1.5" fill="#8a8a8a"/>
<rect x="775.00" y="522.85" width="9.2" height="1.7" fill="#0a0a0a"/>
<rect x="784.20" y="522.95" width="4.3" height="1.5" fill="#8a8a8a"/>
<rect x="775.00" y="529.83" width="9.2" height="1.7" fill="#0a0a0a"/>
<rect x="784.20" y="529.93" width="4.3" height="1.5" fill="#8a8a8a"/>
<rect x="775.00" y="536.81" width="9.2" height="1.7" fill="#0a0a0a"/>
<rect x="784.20" y="536.91" width="4.3" height="1.5" fill="#8a8a8a"/>
<rect x="775.00" y="543.79" width="9.2" height="1.7" fill="#0a0a0a"/>
<rect x="784.20" y="543.89" width="4.3" height="1.5" fill="#8a8a8a"/>
<rect x="775.00" y="550.77" width="9.2" height="1.7" fill="#0a0a0a"/>
<rect x="784.20" y="550.87" width="4.3" height="1.5" fill="#8a8a8a"/>
<rect x="775.00" y="557.75" width="9.2" height="1.7" fill="#0a0a0a"/>
<rect x="784.20" y="557.85" width="4.3" height="1.5" fill="#8a8a8a"/>
<rect x="775.00" y="564.73" width="9.2" height="1.7" fill="#0a0a0a"/>
<rect x="784.20" y="564.83" width="4.3" height="1.5" fill="#8a8a8a"/>
<rect x="775.00" y="571.71" width="9.2" height="1.7" fill="#0a0a0a"/>
<rect x="784.20" y="571.81" width="4.3" height="1.5" fill="#8a8a8a"/>
<rect x="775.00" y="578.69" width="9.2" height="1.7" fill="#0a0a0a"/>
<rect x="784.20" y="578.79" width="4.3" height="1.5" fill="#8a8a8a"/>
<ellipse cx="781.50" cy="391.08" rx="4.85" ry="3.5" transform="rotate(-24 781.50 391.08)" fill="#000"/>
<ellipse cx="781.50" cy="583.03" rx="4.85" ry="3.5" transform="rotate(-24 781.50 583.03)" fill="#000"/>
<rect x="785.38" y="328.00" width="1.05" height="255.03" fill="#000"/>
<rect x="811.70" y="348.35" width="9.2" height="1.7" fill="#0a0a0a"/>
<rect x="820.90" y="348.45" width="4.3" height="1.5" fill="#8a8a8a"/>
<rect x="811.70" y="355.33" width="9.2" height="1.7" fill="#0a0a0a"/>
<rect x="820.90" y="355.43" width="4.3" height="1.5" fill="#8a8a8a"/>
<rect x="811.70" y="362.31" width="9.2" height="1.7" fill="#0a0a0a"/>
<rect x="820.90" y="362.41" width="4.3" height="1.5" fill="#8a8a8a"/>
<rect x="811.70" y="369.29" width="9.2" height="1.7" fill="#0a0a0a"/>
<rect x="820.90" y="369.39" width="4.3" height="1.5" fill="#8a8a8a"/>
<rect x="811.70" y="376.27" width="9.2" height="1.7" fill="#0a0a0a"/>
<rect x="820.90" y="376.37" width="4.3" height="1.5" fill="#8a8a8a"/>
<rect x="811.70" y="383.25" width="9.2" height="1.7" fill="#0a0a0a"/>
<rect x="820.90" y="383.35" width="4.3" height="1.5" fill="#8a8a8a"/>
<rect x="811.70" y="390.23" width="9.2" height="1.7" fill="#0a0a0a"/>
<rect x="820.90" y="390.33" width="4.3" height="1.5" fill="#8a8a8a"/>
<rect x="811.70" y="397.21" width="9.2" height="1.7" fill="#0a0a0a"/>
<rect x="820.90" y="397.31" width="4.3" height="1.5" fill="#8a8a8a"/>
<rect x="811.70" y="404.19" width="9.2" height="1.7" fill="#0a0a0a"/>
<rect x="820.90" y="404.29" width="4.3" height="1.5" fill="#8a8a8a"/>
<rect x="811.70" y="411.17" width="9.2" height="1.7" fill="#0a0a0a"/>
<rect x="820.90" y="411.27" width="4.3" height="1.5" fill="#8a8a8a"/>
<rect x="811.70" y="418.15" width="9.2" height="1.7" fill="#0a0a0a"/>
<rect x="820.90" y="418.25" width="4.3" height="1.5" fill="#8a8a8a"/>
<rect x="811.70" y="425.13" width="9.2" height="1.7" fill="#0a0a0a"/>
<rect x="820.90" y="425.23" width="4.3" height="1.5" fill="#8a8a8a"/>
<rect x="811.70" y="432.11" width="9.2" height="1.7" fill="#0a0a0a"/>
<rect x="820.90" y="432.21" width="4.3" height="1.5" fill="#8a8a8a"/>
<rect x="811.70" y="439.09" width="9.2" height="1.7" fill="#0a0a0a"/>
<rect x="820.90" y="439.19" width="4.3" height="1.5" fill="#8a8a8a"/>
<rect x="811.70" y="446.07" width="9.2" height="1.7" fill="#0a0a0a"/>
<rect x="820.90" y="446.17" width="4.3" height="1.5" fill="#8a8a8a"/>
<rect x="811.70" y="453.05" width="9.2" height="1.7" fill="#0a0a0a"/>
<rect x="820.90" y="453.15" width="4.3" height="1.5" fill="#8a8a8a"/>
<rect x="811.70" y="460.03" width="9.2" height="1.7" fill="#0a0a0a"/>
<rect x="820.90" y="460.13" width="4.3" height="1.5" fill="#8a8a8a"/>
<rect x="811.70" y="467.01" width="9.2" height="1.7" fill="#0a0a0a"/>
<rect x="820.90" y="467.11" width="4.3" height="1.5" fill="#8a8a8a"/>
<rect x="811.70" y="473.99" width="9.2" height="1.7" fill="#0a0a0a"/>
<rect x="820.90" y="474.09" width="4.3" height="1.5" fill="#8a8a8a"/>
<rect x="811.70" y="480.97" width="9.2" height="1.7" fill="#0a0a0a"/>
<rect x="820.90" y="481.07" width="4.3" height="1.5" fill="#8a8a8a"/>
<rect x="811.70" y="487.95" width="9.2" height="1.7" fill="#0a0a0a"/>
<rect x="820.90" y="488.05" width="4.3" height="1.5" fill="#8a8a8a"/>
<rect x="811.70" y="494.93" width="9.2" height="1.7" fill="#0a0a0a"/>
<rect x="820.90" y="495.03" width="4.3" height="1.5" fill="#8a8a8a"/>
<rect x="811.70" y="501.91" width="9.2" height="1.7" fill="#0a0a0a"/>
<rect x="820.90" y="502.01" width="4.3" height="1.5" fill="#8a8a8a"/>
<rect x="811.70" y="508.89" width="9.2" height="1.7" fill="#0a0a0a"/>
<rect x="820.90" y="508.99" width="4.3" height="1.5" fill="#8a8a8a"/>
<rect x="811.70" y="515.87" width="9.2" height="1.7" fill="#0a0a0a"/>
<rect x="820.90" y="515.97" width="4.3" height="1.5" fill="#8a8a8a"/>
<rect x="811.70" y="522.85" width="9.2" height="1.7" fill="#0a0a0a"/>
<rect x="820.90" y="522.95" width="4.3" height="1.5" fill="#8a8a8a"/>
<rect x="811.70" y="529.83" width="9.2" height="1.7" fill="#0a0a0a"/>
<rect x="820.90" y="529.93" width="4.3" height="1.5" fill="#8a8a8a"/>
<rect x="811.70" y="536.81" width="9.2" height="1.7" fill="#0a0a0a"/>
<rect x="820.90" y="536.91" width="4.3" height="1.5" fill="#8a8a8a"/>
<rect x="811.70" y="543.79" width="9.2" height="1.7" fill="#0a0a0a"/>
<rect x="820.90" y="543.89" width="4.3" height="1.5" fill="#8a8a8a"/>
<rect x="811.70" y="550.77" width="9.2" height="1.7" fill="#0a0a0a"/>
<rect x="820.90" y="550.87" width="4.3" height="1.5" fill="#8a8a8a"/>
<rect x="811.70" y="557.75" width="9.2" height="1.7" fill="#0a0a0a"/>
<rect x="820.90" y="557.85" width="4.3" height="1.5" fill="#8a8a8a"/>
<rect x="811.70" y="564.73" width="9.2" height="1.7" fill="#0a0a0a"/>
<rect x="820.90" y="564.83" width="4.3" height="1.5" fill="#8a8a8a"/>
<ellipse cx="818.20" cy="565.58" rx="4.85" ry="3.5" transform="rotate(-24 818.20 565.58)" fill="#000"/>
<rect x="822.08" y="328.00" width="1.05" height="237.58" fill="#000"/>
<rect x="805.10" y="556.78" width="1.25" height="19" fill="#000"/>
<rect x="808.30" y="555.38" width="1.25" height="19" fill="#000"/>
<polygon points="803.40,561.98 811.40,559.58 811.40,562.08 803.40,564.48" fill="#000"/>
<polygon points="803.40,568.78 811.40,566.38 811.40,568.88 803.40,571.28" fill="#000"/>
<rect x="823.90" y="348.35" width="9.2" height="1.7" fill="#0a0a0a"/>
<rect x="833.10" y="348.45" width="4.3" height="1.5" fill="#8a8a8a"/>
<rect x="823.90" y="355.33" width="9.2" height="1.7" fill="#0a0a0a"/>
<rect x="833.10" y="355.43" width="4.3" height="1.5" fill="#8a8a8a"/>
<rect x="823.90" y="362.31" width="9.2" height="1.7" fill="#0a0a0a"/>
<rect x="833.10" y="362.41" width="4.3" height="1.5" fill="#8a8a8a"/>
<rect x="823.90" y="369.29" width="9.2" height="1.7" fill="#0a0a0a"/>
<rect x="833.10" y="369.39" width="4.3" height="1.5" fill="#8a8a8a"/>
<rect x="823.90" y="376.27" width="9.2" height="1.7" fill="#0a0a0a"/>
<rect x="833.10" y="376.37" width="4.3" height="1.5" fill="#8a8a8a"/>
<rect x="823.90" y="383.25" width="9.2" height="1.7" fill="#0a0a0a"/>
<rect x="833.10" y="383.35" width="4.3" height="1.5" fill="#8a8a8a"/>
<rect x="823.90" y="390.23" width="9.2" height="1.7" fill="#0a0a0a"/>
<rect x="833.10" y="390.33" width="4.3" height="1.5" fill="#8a8a8a"/>
<rect x="823.90" y="397.21" width="9.2" height="1.7" fill="#0a0a0a"/>
<rect x="833.10" y="397.31" width="4.3" height="1.5" fill="#8a8a8a"/>
<rect x="823.90" y="404.19" width="9.2" height="1.7" fill="#0a0a0a"/>
<rect x="833.10" y="404.29" width="4.3" height="1.5" fill="#8a8a8a"/>
<rect x="823.90" y="411.17" width="9.2" height="1.7" fill="#0a0a0a"/>
<rect x="833.10" y="411.27" width="4.3" height="1.5" fill="#8a8a8a"/>
<rect x="823.90" y="418.15" width="9.2" height="1.7" fill="#0a0a0a"/>
<rect x="833.10" y="418.25" width="4.3" height="1.5" fill="#8a8a8a"/>
<rect x="823.90" y="425.13" width="9.2" height="1.7" fill="#0a0a0a"/>
<rect x="833.10" y="425.23" width="4.3" height="1.5" fill="#8a8a8a"/>
<rect x="823.90" y="432.11" width="9.2" height="1.7" fill="#0a0a0a"/>
<rect x="833.10" y="432.21" width="4.3" height="1.5" fill="#8a8a8a"/>
<rect x="823.90" y="439.09" width="9.2" height="1.7" fill="#0a0a0a"/>
<rect x="833.10" y="439.19" width="4.3" height="1.5" fill="#8a8a8a"/>
<rect x="823.90" y="446.07" width="9.2" height="1.7" fill="#0a0a0a"/>
<rect x="833.10" y="446.17" width="4.3" height="1.5" fill="#8a8a8a"/>
<ellipse cx="830.40" cy="391.08" rx="4.85" ry="3.5" transform="rotate(-24 830.40 391.08)" fill="#000"/>
<ellipse cx="830.40" cy="450.41" rx="4.85" ry="3.5" transform="rotate(-24 830.40 450.41)" fill="#000"/>
<rect x="834.27" y="328.00" width="1.05" height="122.41" fill="#000"/>
<ellipse cx="204.40" cy="310.60" rx="4.85" ry="3.5" transform="rotate(-24 204.40 310.60)" fill="#000"/>
<rect x="200.47" y="309.00" width="1.05" height="30.60" fill="#000"/>
<polygon points="193.20,321.30 201.50,321.30 201.50,324.50 193.20,324.50" fill="#000"/>
<polygon points="193.20,327.30 201.50,327.30 201.50,330.50 193.20,330.50" fill="#000"/>
<polygon points="193.20,333.40 201.50,333.40 201.50,336.60 193.20,336.60" fill="#000"/>
<polygon points="85.00,298.80 515.00,298.80 515.00,303.40 85.00,303.40" fill="#000"/>
<polygon points="515.00,299.30 565.90,299.30 565.90,303.10 515.00,303.10" fill="#000"/>
<polygon points="93.70,306.20 397.80,305.20 397.80,308.80 93.70,309.80" fill="#000"/>
<polygon points="93.70,312.50 565.60,312.80 565.60,316.40 93.70,316.10" fill="#000"/>
<polygon points="200.00,312.00 460.00,312.00 460.00,316.40 200.00,316.40" fill="#000"/>
<polygon points="516.10,306.15 565.90,306.15 565.90,309.65 516.10,309.65" fill="#000"/>
<polygon points="505.50,316.50 565.90,316.30 565.90,319.70 505.50,319.90" fill="#000"/>
<polygon points="505.50,322.70 531.50,322.70 531.50,326.30 505.50,326.30" fill="#000"/>
<polygon points="505.50,329.30 531.50,329.30 531.50,332.90 505.50,332.90" fill="#000"/>
<polygon points="93.70,319.80 156.60,320.80 156.60,324.60 93.70,323.60" fill="#000"/>
<polygon points="93.70,325.40 156.60,328.10 156.60,331.70 93.70,329.00" fill="#000"/>
<polygon points="93.70,332.20 156.60,333.60 156.60,337.40 93.70,336.00" fill="#000"/>
<polygon points="93.70,339.35 273.40,339.65 273.40,343.55 93.70,343.25" fill="#000"/>
<polygon points="93.70,345.50 376.20,347.20 376.20,350.80 93.70,349.10" fill="#000"/>
<polygon points="93.70,351.40 376.20,353.10 376.20,356.90 93.70,355.20" fill="#000"/>
<polygon points="83.00,361.35 470.40,359.75 470.40,363.25 83.00,364.85" fill="#000"/>
<polygon points="250.40,358.30 273.40,358.30 273.40,361.10 250.40,361.10" fill="#000"/>
<polygon points="368.30,366.20 376.20,366.20 376.20,369.00 368.30,369.00" fill="#000"/>
<polygon points="461.80,342.60 469.40,342.60 469.40,345.20 461.80,345.20" fill="#000"/>
<polygon points="461.80,348.40 469.40,348.40 469.40,351.00 461.80,351.00" fill="#000"/>
<polygon points="461.80,354.10 469.40,354.10 469.40,356.70 461.80,356.70" fill="#000"/>
<polygon points="389.90,293.70 397.80,293.70 397.80,296.30 389.90,296.30" fill="#000"/>
<polygon points="475.40,138.80 483.60,138.80 483.60,142.40 475.40,142.40" fill="#000"/>
<polygon points="475.40,144.70 483.60,144.70 483.60,148.30 475.40,148.30" fill="#000"/>
<polygon points="84.50,152.60 483.60,151.00 483.60,154.60 84.50,156.20" fill="#000"/>
<polygon points="84.50,158.80 483.60,157.20 483.60,160.80 84.50,162.40" fill="#000"/>
<ellipse cx="511.70" cy="335.24" rx="4.85" ry="3.5" transform="rotate(-24 511.70 335.24)" fill="#000"/>
<ellipse cx="561.30" cy="335.24" rx="4.85" ry="3.5" transform="rotate(-24 561.30 335.24)" fill="#000"/>
<ellipse cx="501.80" cy="345.71" rx="4.85" ry="3.5" transform="rotate(-24 501.80 345.71)" fill="#000"/>
<ellipse cx="525.90" cy="345.71" rx="4.85" ry="3.5" transform="rotate(-24 525.90 345.71)" fill="#000"/>
<ellipse cx="473.70" cy="328.26" rx="4.85" ry="3.5" transform="rotate(-24 473.70 328.26)" fill="#000"/>
<rect x="505.48" y="318.00" width="1.05" height="242.00" fill="#000"/>
<rect x="530.58" y="318.00" width="1.05" height="27.40" fill="#000"/>
<rect x="516.98" y="300.00" width="1.05" height="32.00" fill="#000"/>
<rect x="565.08" y="300.00" width="1.05" height="34.00" fill="#000"/>
<rect x="477.78" y="327.00" width="1.05" height="85.00" fill="#000"/>
<ellipse cx="430.20" cy="342.22" rx="4.85" ry="3.5" transform="rotate(-24 430.20 342.22)" fill="#000"/>
<rect x="433.98" y="318.00" width="1.05" height="23.80" fill="#000"/>
<path d="M52.7,337.5 C50.5,336.5 50.2,333.2 51.5,331.2 C53,329 56.5,328.5 59,329.8 C61.8,331.3 62.6,335 61.3,337.8 C59.8,341 56.2,342.3 53,341.8 C48.5,341 46,337.5 46,333.5 C46.2,328 50,324.5 53.5,321 C57,317.5 58.5,313.5 58.3,309 C58.1,305 56.5,301.5 54.7,300.8 C52.5,302.5 51,306 51,310 C51,313 52,316 53,319" fill="none" stroke="#000" stroke-width="1.5" stroke-linecap="round"/>
<path d="M58.3,309 C58.5,313.5 57,317.5 53.5,321 C50,324.5 46.2,328 46,333.5 C46,336.5 47,338.5 48.5,340" fill="none" stroke="#000" stroke-width="2.9"/>
<path d="M54.7,301 C52.8,303 51.5,306 51.3,309.5" fill="none" stroke="#000" stroke-width="2.2"/>
<path d="M61.5,331.5 C62.3,334.5 61.6,337.5 59.5,339.8" fill="none" stroke="#000" stroke-width="2.4"/>
<path d="M53,319 L57.3,346 C57.5,350.5 55,352.5 52,352.5 C49.5,352.5 48,351 47.5,349.5" fill="none" stroke="#000" stroke-width="1.4"/>
<circle cx="48.9" cy="348" r="2.8" fill="#000"/>
<rect x="66.60" y="302.20" width="1.25" height="19" fill="#000"/>
<rect x="69.80" y="300.80" width="1.25" height="19" fill="#000"/>
<polygon points="64.90,307.40 72.90,305.00 72.90,307.50 64.90,309.90" fill="#000"/>
<polygon points="64.90,314.20 72.90,311.80 72.90,314.30 64.90,316.70" fill="#000"/>
<path d="M2,0.5 C3,0 4,1.5 7.8,5.8 C6,7.5 4.5,9 5,10.5 L7.5,15.8 C6,15 4,13.8 2.5,14.5 C2,16 2.8,18.5 3,20 C1,18 0,15 1,13.5 C2,12.8 3.5,13 4.5,13.2 L1,8.5 C2.5,6.5 3.5,5.2 3.6,4.5 C3.5,3 2.8,1.5 2,0.5 Z" transform="translate(146.50,456.00)" fill="#000" stroke="#000" stroke-width="0.5"/>
<path d="M2,0.5 C3,0 4,1.5 7.8,5.8 C6,7.5 4.5,9 5,10.5 L7.5,15.8 C6,15 4,13.8 2.5,14.5 C2,16 2.8,18.5 3,20 C1,18 0,15 1,13.5 C2,12.8 3.5,13 4.5,13.2 L1,8.5 C2.5,6.5 3.5,5.2 3.6,4.5 C3.5,3 2.8,1.5 2,0.5 Z" transform="translate(167.40,628.30)" fill="#000" stroke="#000" stroke-width="0.5"/>
<path d="M2,0.5 C3,0 4,1.5 7.8,5.8 C6,7.5 4.5,9 5,10.5 L7.5,15.8 C6,15 4,13.8 2.5,14.5 C2,16 2.8,18.5 3,20 C1,18 0,15 1,13.5 C2,12.8 3.5,13 4.5,13.2 L1,8.5 C2.5,6.5 3.5,5.2 3.6,4.5 C3.5,3 2.8,1.5 2,0.5 Z" transform="translate(184.60,628.30)" fill="#000" stroke="#000" stroke-width="0.5"/>
<path d="M2,0.5 C3,0 4,1.5 7.8,5.8 C6,7.5 4.5,9 5,10.5 L7.5,15.8 C6,15 4,13.8 2.5,14.5 C2,16 2.8,18.5 3,20 C1,18 0,15 1,13.5 C2,12.8 3.5,13 4.5,13.2 L1,8.5 C2.5,6.5 3.5,5.2 3.6,4.5 C3.5,3 2.8,1.5 2,0.5 Z" transform="translate(217.70,628.30)" fill="#000" stroke="#000" stroke-width="0.5"/>
<path d="M2,0.5 C3,0 4,1.5 7.8,5.8 C6,7.5 4.5,9 5,10.5 L7.5,15.8 C6,15 4,13.8 2.5,14.5 C2,16 2.8,18.5 3,20 C1,18 0,15 1,13.5 C2,12.8 3.5,13 4.5,13.2 L1,8.5 C2.5,6.5 3.5,5.2 3.6,4.5 C3.5,3 2.8,1.5 2,0.5 Z" transform="translate(286.00,628.30)" fill="#000" stroke="#000" stroke-width="0.5"/>
<path d="M2,0.5 C3,0 4,1.5 7.8,5.8 C6,7.5 4.5,9 5,10.5 L7.5,15.8 C6,15 4,13.8 2.5,14.5 C2,16 2.8,18.5 3,20 C1,18 0,15 1,13.5 C2,12.8 3.5,13 4.5,13.2 L1,8.5 C2.5,6.5 3.5,5.2 3.6,4.5 C3.5,3 2.8,1.5 2,0.5 Z" transform="translate(381.90,568.80)" fill="#000" stroke="#000" stroke-width="0.5"/>
<path d="M2,0.5 C3,0 4,1.5 7.8,5.8 C6,7.5 4.5,9 5,10.5 L7.5,15.8 C6,15 4,13.8 2.5,14.5 C2,16 2.8,18.5 3,20 C1,18 0,15 1,13.5 C2,12.8 3.5,13 4.5,13.2 L1,8.5 C2.5,6.5 3.5,5.2 3.6,4.5 C3.5,3 2.8,1.5 2,0.5 Z" transform="translate(423.50,568.80)" fill="#000" stroke="#000" stroke-width="0.5"/>
<path d="M2,0.5 C3,0 4,1.5 7.8,5.8 C6,7.5 4.5,9 5,10.5 L7.5,15.8 C6,15 4,13.8 2.5,14.5 C2,16 2.8,18.5 3,20 C1,18 0,15 1,13.5 C2,12.8 3.5,13 4.5,13.2 L1,8.5 C2.5,6.5 3.5,5.2 3.6,4.5 C3.5,3 2.8,1.5 2,0.5 Z" transform="translate(517.00,571.70)" fill="#000" stroke="#000" stroke-width="0.5"/>
<path d="M2,0.5 C3,0 4,1.5 7.8,5.8 C6,7.5 4.5,9 5,10.5 L7.5,15.8 C6,15 4,13.8 2.5,14.5 C2,16 2.8,18.5 3,20 C1,18 0,15 1,13.5 C2,12.8 3.5,13 4.5,13.2 L1,8.5 C2.5,6.5 3.5,5.2 3.6,4.5 C3.5,3 2.8,1.5 2,0.5 Z" transform="translate(544.30,571.70)" fill="#000" stroke="#000" stroke-width="0.5"/>
<path d="M2,0.5 C3,0 4,1.5 7.8,5.8 C6,7.5 4.5,9 5,10.5 L7.5,15.8 C6,15 4,13.8 2.5,14.5 C2,16 2.8,18.5 3,20 C1,18 0,15 1,13.5 C2,12.8 3.5,13 4.5,13.2 L1,8.5 C2.5,6.5 3.5,5.2 3.6,4.5 C3.5,3 2.8,1.5 2,0.5 Z" transform="translate(591.70,571.70)" fill="#000" stroke="#000" stroke-width="0.5"/>
<path d="M2,0.5 C3,0 4,1.5 7.8,5.8 C6,7.5 4.5,9 5,10.5 L7.5,15.8 C6,15 4,13.8 2.5,14.5 C2,16 2.8,18.5 3,20 C1,18 0,15 1,13.5 C2,12.8 3.5,13 4.5,13.2 L1,8.5 C2.5,6.5 3.5,5.2 3.6,4.5 C3.5,3 2.8,1.5 2,0.5 Z" transform="translate(715.00,481.90)" fill="#000" stroke="#000" stroke-width="0.5"/>
<path d="M2,0.5 C3,0 4,1.5 7.8,5.8 C6,7.5 4.5,9 5,10.5 L7.5,15.8 C6,15 4,13.8 2.5,14.5 C2,16 2.8,18.5 3,20 C1,18 0,15 1,13.5 C2,12.8 3.5,13 4.5,13.2 L1,8.5 C2.5,6.5 3.5,5.2 3.6,4.5 C3.5,3 2.8,1.5 2,0.5 Z" transform="translate(760.40,481.40)" fill="#000" stroke="#000" stroke-width="0.5"/>
<path d="M2,0.5 C3,0 4,1.5 7.8,5.8 C6,7.5 4.5,9 5,10.5 L7.5,15.8 C6,15 4,13.8 2.5,14.5 C2,16 2.8,18.5 3,20 C1,18 0,15 1,13.5 C2,12.8 3.5,13 4.5,13.2 L1,8.5 C2.5,6.5 3.5,5.2 3.6,4.5 C3.5,3 2.8,1.5 2,0.5 Z" transform="translate(768.20,481.40)" fill="#000" stroke="#000" stroke-width="0.5"/>
<path d="M2,0.5 C3,0 4,1.5 7.8,5.8 C6,7.5 4.5,9 5,10.5 L7.5,15.8 C6,15 4,13.8 2.5,14.5 C2,16 2.8,18.5 3,20 C1,18 0,15 1,13.5 C2,12.8 3.5,13 4.5,13.2 L1,8.5 C2.5,6.5 3.5,5.2 3.6,4.5 C3.5,3 2.8,1.5 2,0.5 Z" transform="translate(706.00,613.40)" fill="#000" stroke="#000" stroke-width="0.5"/>
<path d="M2,0.5 C3,0 4,1.5 7.8,5.8 C6,7.5 4.5,9 5,10.5 L7.5,15.8 C6,15 4,13.8 2.5,14.5 C2,16 2.8,18.5 3,20 C1,18 0,15 1,13.5 C2,12.8 3.5,13 4.5,13.2 L1,8.5 C2.5,6.5 3.5,5.2 3.6,4.5 C3.5,3 2.8,1.5 2,0.5 Z" transform="translate(730.40,610.50)" fill="#000" stroke="#000" stroke-width="0.5"/>
<path d="M2,0.5 C3,0 4,1.5 7.8,5.8 C6,7.5 4.5,9 5,10.5 L7.5,15.8 C6,15 4,13.8 2.5,14.5 C2,16 2.8,18.5 3,20 C1,18 0,15 1,13.5 C2,12.8 3.5,13 4.5,13.2 L1,8.5 C2.5,6.5 3.5,5.2 3.6,4.5 C3.5,3 2.8,1.5 2,0.5 Z" transform="translate(740.50,610.50)" fill="#000" stroke="#000" stroke-width="0.5"/>
<path d="M2,0.5 C3,0 4,1.5 7.8,5.8 C6,7.5 4.5,9 5,10.5 L7.5,15.8 C6,15 4,13.8 2.5,14.5 C2,16 2.8,18.5 3,20 C1,18 0,15 1,13.5 C2,12.8 3.5,13 4.5,13.2 L1,8.5 C2.5,6.5 3.5,5.2 3.6,4.5 C3.5,3 2.8,1.5 2,0.5 Z" transform="translate(750.50,610.50)" fill="#000" stroke="#000" stroke-width="0.5"/>
<path d="M2,0.5 C3,0 4,1.5 7.8,5.8 C6,7.5 4.5,9 5,10.5 L7.5,15.8 C6,15 4,13.8 2.5,14.5 C2,16 2.8,18.5 3,20 C1,18 0,15 1,13.5 C2,12.8 3.5,13 4.5,13.2 L1,8.5 C2.5,6.5 3.5,5.2 3.6,4.5 C3.5,3 2.8,1.5 2,0.5 Z" transform="translate(787.90,591.80)" fill="#000" stroke="#000" stroke-width="0.5"/>
<path d="M2,0.5 C3,0 4,1.5 7.8,5.8 C6,7.5 4.5,9 5,10.5 L7.5,15.8 C6,15 4,13.8 2.5,14.5 C2,16 2.8,18.5 3,20 C1,18 0,15 1,13.5 C2,12.8 3.5,13 4.5,13.2 L1,8.5 C2.5,6.5 3.5,5.2 3.6,4.5 C3.5,3 2.8,1.5 2,0.5 Z" transform="translate(810.90,576.00)" fill="#000" stroke="#000" stroke-width="0.5"/>
<line x1="454.60" y1="569.50" x2="448.37" y2="597.00" stroke="#000" stroke-width="1.3"/>
<circle cx="450.10" cy="570.40" r="2.0" fill="#000"/>
<line x1="450.10" y1="571.90" x2="454.06" y2="571.90" stroke="#000" stroke-width="0.8"/>
<circle cx="448.40" cy="577.50" r="2.0" fill="#000"/>
<line x1="448.40" y1="579.00" x2="452.45" y2="579.00" stroke="#000" stroke-width="0.8"/>
<circle cx="446.80" cy="584.40" r="2.0" fill="#000"/>
<line x1="446.80" y1="585.90" x2="450.88" y2="585.90" stroke="#000" stroke-width="0.8"/>
<circle cx="459.60" cy="569.10" r="1.3" fill="#000"/>
<circle cx="465.50" cy="569.10" r="1.3" fill="#000"/>
<line x1="94.70" y1="44.40" x2="87.40" y2="76.60" stroke="#000" stroke-width="1.3"/>
<circle cx="90.20" cy="45.30" r="2.15" fill="#000"/>
<line x1="90.20" y1="46.80" x2="94.16" y2="46.80" stroke="#000" stroke-width="0.8"/>
<circle cx="88.50" cy="52.40" r="2.15" fill="#000"/>
<line x1="88.50" y1="53.90" x2="92.55" y2="53.90" stroke="#000" stroke-width="0.8"/>
<circle cx="86.90" cy="59.30" r="2.15" fill="#000"/>
<line x1="86.90" y1="60.80" x2="90.98" y2="60.80" stroke="#000" stroke-width="0.8"/>
<circle cx="85.20" cy="66.20" r="2.15" fill="#000"/>
<line x1="85.20" y1="67.70" x2="89.42" y2="67.70" stroke="#000" stroke-width="0.8"/>
<line x1="308.00" y1="631.00" x2="300.70" y2="663.20" stroke="#000" stroke-width="1.3"/>
<circle cx="303.50" cy="631.90" r="2.15" fill="#000"/>
<line x1="303.50" y1="633.40" x2="307.46" y2="633.40" stroke="#000" stroke-width="0.8"/>
<circle cx="301.80" cy="639.00" r="2.15" fill="#000"/>
<line x1="301.80" y1="640.50" x2="305.85" y2="640.50" stroke="#000" stroke-width="0.8"/>
<circle cx="300.20" cy="645.90" r="2.15" fill="#000"/>
<line x1="300.20" y1="647.40" x2="304.28" y2="647.40" stroke="#000" stroke-width="0.8"/>
<circle cx="298.50" cy="652.80" r="2.15" fill="#000"/>
<line x1="298.50" y1="654.30" x2="302.72" y2="654.30" stroke="#000" stroke-width="0.8"/>
<line x1="578.00" y1="575.50" x2="570.70" y2="607.70" stroke="#000" stroke-width="1.3"/>
<circle cx="573.50" cy="576.40" r="2.15" fill="#000"/>
<line x1="573.50" y1="577.90" x2="577.46" y2="577.90" stroke="#000" stroke-width="0.8"/>
<circle cx="571.80" cy="583.50" r="2.15" fill="#000"/>
<line x1="571.80" y1="585.00" x2="575.85" y2="585.00" stroke="#000" stroke-width="0.8"/>
<circle cx="570.20" cy="590.40" r="2.15" fill="#000"/>
<line x1="570.20" y1="591.90" x2="574.28" y2="591.90" stroke="#000" stroke-width="0.8"/>
<circle cx="568.50" cy="597.30" r="2.15" fill="#000"/>
<line x1="568.50" y1="598.80" x2="572.72" y2="598.80" stroke="#000" stroke-width="0.8"/>
<line x1="645.50" y1="575.30" x2="638.20" y2="607.50" stroke="#000" stroke-width="1.3"/>
<circle cx="641.00" cy="576.20" r="2.15" fill="#000"/>
<line x1="641.00" y1="577.70" x2="644.96" y2="577.70" stroke="#000" stroke-width="0.8"/>
<circle cx="639.30" cy="583.30" r="2.15" fill="#000"/>
<line x1="639.30" y1="584.80" x2="643.35" y2="584.80" stroke="#000" stroke-width="0.8"/>
<circle cx="637.70" cy="590.20" r="2.15" fill="#000"/>
<line x1="637.70" y1="591.70" x2="641.78" y2="591.70" stroke="#000" stroke-width="0.8"/>
<circle cx="636.00" cy="597.10" r="2.15" fill="#000"/>
<line x1="636.00" y1="598.60" x2="640.22" y2="598.60" stroke="#000" stroke-width="0.8"/>
<line x1="682.70" y1="616.00" x2="675.40" y2="648.20" stroke="#000" stroke-width="1.3"/>
<circle cx="678.20" cy="616.90" r="2.15" fill="#000"/>
<line x1="678.20" y1="618.40" x2="682.16" y2="618.40" stroke="#000" stroke-width="0.8"/>
<circle cx="676.50" cy="624.00" r="2.15" fill="#000"/>
<line x1="676.50" y1="625.50" x2="680.55" y2="625.50" stroke="#000" stroke-width="0.8"/>
<circle cx="674.90" cy="630.90" r="2.15" fill="#000"/>
<line x1="674.90" y1="632.40" x2="678.98" y2="632.40" stroke="#000" stroke-width="0.8"/>
<circle cx="673.20" cy="637.80" r="2.15" fill="#000"/>
<line x1="673.20" y1="639.30" x2="677.42" y2="639.30" stroke="#000" stroke-width="0.8"/>
<line x1="94.1" y1="546.8" x2="87.3" y2="579.6" stroke="#000" stroke-width="1.5"/>
<ellipse cx="88.2" cy="547.8" rx="2.6" ry="2.3" fill="#000"/>
<polygon points="88.2,545.8 94.08170731707317,545.3 93.28170731707317,549.8 88.2,550.0" fill="#000"/>
<ellipse cx="86.8" cy="555.2" rx="2.6" ry="2.3" fill="#000"/>
<polygon points="86.8,553.2 92.54756097560973,552.7 91.74756097560973,557.2 86.8,557.4000000000001" fill="#000"/>
<ellipse cx="85.4" cy="562.4" rx="2.6" ry="2.3" fill="#000"/>
<polygon points="85.4,560.4 91.05487804878048,559.9 90.25487804878048,564.4 85.4,564.6" fill="#000"/>
<ellipse cx="85.6" cy="569.2" rx="2.6" ry="2.3" fill="#000"/>
<polygon points="85.6,567.2 89.6451219512195,566.7 88.8451219512195,571.2 85.6,571.4000000000001" fill="#000"/>
<circle cx="98.40" cy="520.70" r="1.35" fill="#000"/>
<circle cx="98.40" cy="527.90" r="1.35" fill="#000"/>
<circle cx="98.40" cy="534.70" r="1.35" fill="#000"/>
<circle cx="98.40" cy="541.90" r="1.35" fill="#000"/>
<circle cx="98.40" cy="549.10" r="1.35" fill="#000"/>
<circle cx="98.40" cy="555.90" r="1.35" fill="#000"/>
<circle cx="98.40" cy="562.70" r="1.35" fill="#000"/>
<circle cx="98.40" cy="569.20" r="1.35" fill="#000"/>
<circle cx="98.40" cy="575.70" r="1.35" fill="#000"/>
<path d="M627.4,328.6 C628.5,334 633.5,337 633.8,342.5 C634,345.5 633,348 632.1,349.5 C632.6,346.5 632.8,344 631.5,341.5 C630.2,339 628,337 627.3,335 Z" fill="#000"/>
<rect x="75.10" y="338.70" width="1.25" height="19" fill="#000"/>
<rect x="78.30" y="337.30" width="1.25" height="19" fill="#000"/>
<polygon points="73.40,343.90 81.40,341.50 81.40,344.00 73.40,346.40" fill="#000"/>
<polygon points="73.40,350.70 81.40,348.30 81.40,350.80 73.40,353.20" fill="#000"/>
<path d="M64.30,537.60 C68.97,542.25 78.33,542.65 83.00,538.00 C78.33,541.45 68.97,541.05 64.30,537.60 Z" fill="#000" stroke="#000" stroke-width="0.35"/>
<path d="M95.20,538.00 C99.78,542.65 108.92,542.65 113.50,538.00 C108.92,541.45 99.78,541.45 95.20,538.00 Z" fill="#000" stroke="#000" stroke-width="0.35"/>
<path d="M123.00,538.00 C125.50,541.33 130.50,541.33 133.00,538.00 C130.50,540.12 125.50,540.12 123.00,538.00 Z" fill="#000" stroke="#000" stroke-width="0.35"/>
<path d="M95.00,83.00 C192.00,76.35 386.00,76.35 483.00,83.00 C386.00,77.75 192.00,77.75 95.00,83.00 Z" fill="#000" stroke="#000" stroke-width="0.35"/>
<path d="M64.30,83.90 C69.22,79.91 79.08,78.51 84.00,82.50 C79.08,79.71 69.22,81.11 64.30,83.90 Z" fill="#000" stroke="#000" stroke-width="0.35"/>
<path d="M98.30,228.70 C173.72,223.38 324.57,225.68 400.00,231.00 C324.57,227.08 173.72,224.78 98.30,228.70 Z" fill="#000" stroke="#000" stroke-width="0.35"/>
<path d="M93.50,418.30 C161.47,426.01 297.42,426.01 365.40,418.30 C297.42,424.21 161.47,424.21 93.50,418.30 Z" fill="#000" stroke="#000" stroke-width="0.35"/>
<path d="M93.50,389.60 C107.28,394.92 134.82,396.12 148.60,390.80 C134.82,394.62 107.28,393.42 93.50,389.60 Z" fill="#000" stroke="#000" stroke-width="0.35"/>
<path d="M64.50,297.50 C69.17,292.18 78.53,288.68 83.20,294.00 C78.53,289.88 69.17,293.38 64.50,297.50 Z" fill="#000" stroke="#000" stroke-width="0.35"/>
<path d="M64.00,223.50 C69.60,218.84 80.80,217.84 86.40,222.50 C80.80,219.04 69.60,220.04 64.00,223.50 Z" fill="#000" stroke="#000" stroke-width="0.35"/>
<path d="M64.00,275.00 C67.75,278.32 75.25,282.82 79.00,279.50 C75.25,281.62 67.75,277.12 64.00,275.00 Z" fill="#000" stroke="#000" stroke-width="0.35"/>
<path d="M64.50,327.00 C69.17,321.68 78.53,321.68 83.20,327.00 C78.53,322.88 69.17,322.88 64.50,327.00 Z" fill="#000" stroke="#000" stroke-width="0.35"/>
<path d="M64.50,337.50 C66.78,340.16 71.32,342.66 73.60,340.00 C71.32,341.46 66.78,338.96 64.50,337.50 Z" fill="#000" stroke="#000" stroke-width="0.35"/>
<path d="M65.00,349.40 C66.92,352.06 70.78,353.06 72.70,350.40 C70.78,351.86 66.92,350.86 65.00,349.40 Z" fill="#000" stroke="#000" stroke-width="0.35"/>
<path d="M93.80,306.00 C119.67,302.68 171.43,302.68 197.30,306.00 C171.43,303.48 119.67,303.48 93.80,306.00 Z" fill="#000" stroke="#000" stroke-width="0.35"/>
<path d="M64.30,390.80 C66.38,393.73 70.52,393.93 72.60,391.00 C70.52,392.83 66.38,392.63 64.30,390.80 Z" fill="#000" stroke="#000" stroke-width="0.35"/>
<path d="M64.30,415.00 C69.15,419.26 78.85,420.26 83.70,416.00 C78.85,419.16 69.15,418.16 64.30,415.00 Z" fill="#000" stroke="#000" stroke-width="0.35"/>
<path d="M64.30,419.20 C68.97,423.46 78.33,424.76 83.00,420.50 C78.33,423.66 68.97,422.36 64.30,419.20 Z" fill="#000" stroke="#000" stroke-width="0.35"/>
<path d="M247.50,416.50 C252.70,420.76 263.10,420.76 268.30,416.50 C263.10,419.66 252.70,419.66 247.50,416.50 Z" fill="#000" stroke="#000" stroke-width="0.35"/>
<path d="M93.80,350.50 C164.35,352.50 305.45,358.00 376.00,356.00 C305.45,357.30 164.35,351.80 93.80,350.50 Z" fill="#000" stroke="#000" stroke-width="0.35"/>
<path d="M273.00,316.50 C323.25,314.50 423.75,321.00 474.00,323.00 C423.75,321.70 323.25,315.20 273.00,316.50 Z" fill="#000" stroke="#000" stroke-width="0.35"/>
<path d="M376.20,356.10 C408.40,354.77 472.80,345.67 505.00,347.00 C472.80,346.37 408.40,355.47 376.20,356.10 Z" fill="#000" stroke="#000" stroke-width="0.35"/>
<path d="M364.00,345.50 C399.25,344.70 469.75,340.70 505.00,341.50 C469.75,341.40 399.25,345.40 364.00,345.50 Z" fill="#000" stroke="#000" stroke-width="0.35"/>
<path d="M518.30,336.50 C527.30,341.82 545.30,342.32 554.30,337.00 C545.30,341.32 527.30,340.82 518.30,336.50 Z" fill="#000" stroke="#000" stroke-width="0.35"/>
<path d="M505.50,348.50 C509.23,351.82 516.67,351.82 520.40,348.50 C516.67,350.82 509.23,350.82 505.50,348.50 Z" fill="#000" stroke="#000" stroke-width="0.35"/>
</svg>
</body></html>
